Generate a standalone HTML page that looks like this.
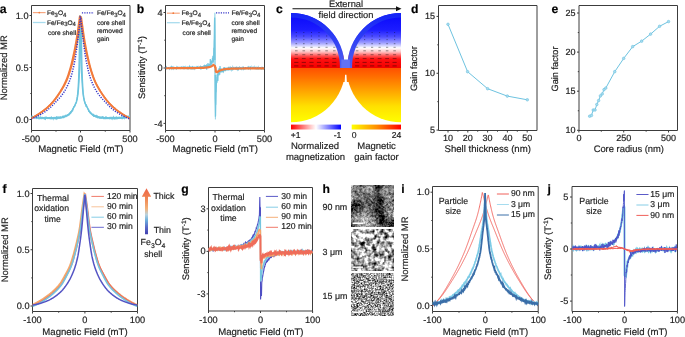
<!DOCTYPE html>
<html><head><meta charset="utf-8"><style>
html,body{margin:0;padding:0;background:#fff;overflow:hidden;}
svg{display:block;font-family:"Liberation Sans",sans-serif;will-change:transform;text-rendering:geometricPrecision;}
text{stroke:#1e1e1e;stroke-width:0.18px;}
</style></head><body>
<svg width="685" height="337" viewBox="0 0 685 337" xmlns="http://www.w3.org/2000/svg">
<rect width="685" height="337" fill="#fff"/>
<text x="-0.3" y="12.9" font-size="12.2" text-anchor="start" font-weight="bold" fill="#000" >a</text>
<text x="136.7" y="12.9" font-size="12.2" text-anchor="start" font-weight="bold" fill="#000" >b</text>
<text x="276" y="12.9" font-size="12.2" text-anchor="start" font-weight="bold" fill="#000" >c</text>
<text x="411" y="12.9" font-size="12.2" text-anchor="start" font-weight="bold" fill="#000" >d</text>
<text x="551.5" y="12.9" font-size="12.2" text-anchor="start" font-weight="bold" fill="#000" >e</text>
<text x="2.4" y="193.1" font-size="12.2" text-anchor="start" font-weight="bold" fill="#000" >f</text>
<text x="181.2" y="193.1" font-size="12.2" text-anchor="start" font-weight="bold" fill="#000" >g</text>
<text x="322.6" y="193.1" font-size="12.2" text-anchor="start" font-weight="bold" fill="#000" >h</text>
<text x="401.2" y="193.1" font-size="12.2" text-anchor="start" font-weight="bold" fill="#000" >i</text>
<text x="547.4" y="193.1" font-size="12.2" text-anchor="start" font-weight="bold" fill="#000" >j</text>
<path d="M31.5,5.5 H130 V130.5 H31.5 Z" fill="none" stroke="#3c3c3c" stroke-width="1"/><line x1="31.5" y1="130.5" x2="31.5" y2="132.5" stroke="#3c3c3c" stroke-width="1"/><line x1="80.5" y1="130.5" x2="80.5" y2="132.5" stroke="#3c3c3c" stroke-width="1"/><line x1="130" y1="130.5" x2="130" y2="132.5" stroke="#3c3c3c" stroke-width="1"/><line x1="56" y1="130.5" x2="56" y2="131.7" stroke="#3c3c3c" stroke-width="1"/><line x1="105.25" y1="130.5" x2="105.25" y2="131.7" stroke="#3c3c3c" stroke-width="1"/><line x1="29.5" y1="15.5" x2="31.5" y2="15.5" stroke="#3c3c3c" stroke-width="1"/><line x1="29.5" y1="67.5" x2="31.5" y2="67.5" stroke="#3c3c3c" stroke-width="1"/><line x1="29.5" y1="119.5" x2="31.5" y2="119.5" stroke="#3c3c3c" stroke-width="1"/><line x1="30.3" y1="41.5" x2="31.5" y2="41.5" stroke="#3c3c3c" stroke-width="1"/><line x1="30.3" y1="93.5" x2="31.5" y2="93.5" stroke="#3c3c3c" stroke-width="1"/>
<text x="28.5" y="18.6" font-size="9.2" text-anchor="end" font-weight="normal" fill="#1e1e1e" >1.0</text>
<text x="28.5" y="70.6" font-size="9.2" text-anchor="end" font-weight="normal" fill="#1e1e1e" >0.5</text>
<text x="28.5" y="122.6" font-size="9.2" text-anchor="end" font-weight="normal" fill="#1e1e1e" >0.0</text>
<text x="31" y="141.5" font-size="9.2" text-anchor="middle" font-weight="normal" fill="#1e1e1e" >-500</text>
<text x="80.5" y="141.5" font-size="9.2" text-anchor="middle" font-weight="normal" fill="#1e1e1e" >0</text>
<text x="130" y="141.5" font-size="9.2" text-anchor="middle" font-weight="normal" fill="#1e1e1e" >500</text>
<text x="80.8" y="152.1" font-size="9.6" text-anchor="middle" font-weight="normal" fill="#1e1e1e" >Magnetic Field (mT)</text>
<text x="0" y="0" font-size="9.45" text-anchor="middle" fill="#1e1e1e" transform="translate(6.8,67.8) rotate(-90)">Normalized MR</text>
<clipPath id="ca"><rect x="31.5" y="5.5" width="98.5" height="125"/></clipPath>
<g clip-path="url(#ca)">
<path d="M31.00,116.37 31.20,116.35 31.40,116.51 31.60,116.69 31.79,116.64 31.99,116.79 32.19,116.61 32.39,116.39 32.59,116.81 32.79,116.88 32.98,116.69 33.18,116.76 33.38,116.85 33.58,117.11 33.78,116.96 33.98,116.85 34.17,117.31 34.37,117.16 34.57,117.50 34.77,117.41 34.97,117.56 35.17,117.26 35.36,117.51 35.56,117.23 35.76,117.28 35.96,117.39 36.16,117.91 36.36,117.52 36.56,117.45 36.75,117.45 36.95,117.82 37.15,117.63 37.35,117.76 37.55,117.75 37.75,117.38 37.94,117.80 38.14,117.66 38.34,117.49 38.54,117.81 38.74,117.74 38.94,117.71 39.13,117.73 39.33,118.02 39.53,117.76 39.73,117.51 39.93,118.13 40.13,117.63 40.32,117.80 40.52,117.96 40.72,117.42 40.92,117.68 41.12,118.10 41.32,117.84 41.52,117.74 41.71,117.91 41.91,117.74 42.11,117.90 42.31,117.75 42.51,117.60 42.71,118.05 42.90,117.87 43.10,118.01 43.30,117.90 43.50,118.18 43.70,118.05 43.90,117.98 44.09,117.76 44.29,117.71 44.49,118.23 44.69,118.13 44.89,117.83 45.09,118.39 45.28,118.07 45.48,118.00 45.68,117.72 45.88,117.84 46.08,118.06 46.28,118.07 46.47,118.05 46.67,117.68 46.87,118.10 47.07,118.07 47.27,117.94 47.47,118.04 47.67,118.06 47.86,118.25 48.06,118.02 48.26,118.12 48.46,117.78 48.66,117.89 48.86,118.04 49.05,117.89 49.25,118.10 49.45,117.81 49.65,118.04 49.85,117.91 50.05,118.31 50.24,117.96 50.44,118.39 50.64,118.46 50.84,118.10 51.04,118.22 51.24,118.00 51.43,117.56 51.63,118.20 51.83,118.16 52.03,117.98 52.23,117.92 52.43,118.06 52.63,118.06 52.82,117.87 53.02,117.90 53.22,118.22 53.42,118.02 53.62,117.99 53.82,118.21 54.01,117.93 54.21,118.16 54.41,117.77 54.61,117.92 54.81,117.94 55.01,118.07 55.20,117.97 55.40,118.35 55.60,118.16 55.80,117.84 56.00,118.35 56.20,117.72 56.39,118.25 56.59,117.72 56.79,118.04 56.99,117.69 57.19,117.82 57.39,118.15 57.59,117.56 57.78,117.51 57.98,117.81 58.18,117.84 58.38,117.81 58.58,117.96 58.78,117.52 58.97,117.85 59.17,117.73 59.37,117.87 59.57,117.82 59.77,117.94 59.97,117.40 60.16,117.68 60.36,117.43 60.56,117.61 60.76,117.74 60.96,117.63 61.16,117.65 61.35,117.50 61.55,117.54 61.75,117.48 61.95,117.66 62.15,117.49 62.35,116.92 62.55,117.35 62.74,117.37 62.94,117.02 63.14,116.73 63.34,117.26 63.54,116.94 63.74,116.96 63.93,117.13 64.13,116.54 64.33,116.63 64.53,116.54 64.73,116.65 64.93,116.32 65.12,116.46 65.32,116.30 65.52,116.42 65.72,116.37 65.92,115.75 66.12,116.05 66.31,115.79 66.51,115.76 66.71,115.75 66.91,115.67 67.11,115.33 67.31,115.41 67.51,115.27 67.70,115.12 67.90,114.76 68.10,114.74 68.30,114.67 68.50,114.73 68.70,114.76 68.89,114.12 69.09,113.96 69.29,114.03 69.49,113.71 69.69,113.48 69.89,113.28 70.08,113.06 70.28,113.14 70.48,112.51 70.68,112.87 70.88,112.20 71.08,112.03 71.27,111.70 71.47,111.24 71.67,111.03 71.87,111.26 72.07,111.02 72.27,110.11 72.46,110.09 72.66,109.46 72.86,108.85 73.06,108.93 73.26,108.59 73.46,107.66 73.66,107.28 73.85,106.93 74.05,106.48 74.25,106.30 74.45,106.09 74.65,105.46 74.85,105.28 75.04,105.06 75.24,104.22 75.44,103.92 75.64,103.36 75.84,103.13 76.04,102.48 76.23,101.89 76.43,101.14 76.63,100.09 76.83,99.36 77.03,98.08 77.23,96.90 77.42,95.22 77.62,94.40 77.82,91.81 78.02,89.32 78.22,86.07 78.42,82.69 78.62,78.34 78.81,72.71 79.01,66.10 79.21,57.55 79.41,45.62 79.61,31.27 79.81,15.24 80.00,23.78 80.20,31.23 80.40,38.89 80.60,46.20 80.80,52.47 81.00,58.39 81.19,64.09 81.39,69.27 81.59,73.70 81.79,77.23 81.99,80.81 82.19,83.91 82.38,86.80 82.58,89.39 82.78,91.53 82.98,93.52 83.18,95.09 83.38,96.62 83.58,97.45 83.77,98.74 83.97,99.31 84.17,100.64 84.37,101.17 84.57,101.82 84.77,102.71 84.96,102.63 85.16,103.18 85.36,104.03 85.56,104.18 85.76,104.64 85.96,105.62 86.15,105.36 86.35,105.76 86.55,106.07 86.75,106.66 86.95,106.87 87.15,107.25 87.34,107.38 87.54,107.98 87.74,108.48 87.94,108.58 88.14,109.44 88.34,109.82 88.54,110.51 88.73,110.19 88.93,110.67 89.13,111.01 89.33,111.36 89.53,111.74 89.73,111.97 89.92,112.31 90.12,112.53 90.32,112.70 90.52,112.61 90.72,113.02 90.92,113.35 91.11,113.65 91.31,113.84 91.51,113.55 91.71,113.95 91.91,114.21 92.11,114.45 92.30,114.75 92.50,114.68 92.70,114.61 92.90,115.00 93.10,115.09 93.30,115.21 93.49,115.25 93.69,115.71 93.89,115.54 94.09,115.77 94.29,115.50 94.49,115.94 94.69,115.75 94.88,115.64 95.08,116.11 95.28,116.26 95.48,116.17 95.68,116.29 95.88,116.57 96.07,116.34 96.27,116.08 96.47,116.62 96.67,116.68 96.87,116.92 97.07,116.71 97.26,117.10 97.46,117.14 97.66,116.70 97.86,117.22 98.06,116.87 98.26,116.84 98.45,117.16 98.65,117.16 98.85,116.92 99.05,117.42 99.25,117.55 99.45,117.75 99.65,117.50 99.84,117.23 100.04,117.37 100.24,117.79 100.44,117.79 100.64,117.74 100.84,117.59 101.03,117.70 101.23,117.63 101.43,117.63 101.63,117.77 101.83,117.73 102.03,117.69 102.22,117.77 102.42,117.66 102.62,117.38 102.82,117.66 103.02,117.79 103.22,118.16 103.41,117.74 103.61,118.24 103.81,118.14 104.01,117.68 104.21,117.72 104.41,117.91 104.61,118.25 104.80,117.98 105.00,118.05 105.20,117.78 105.40,117.45 105.60,117.89 105.80,118.10 105.99,118.19 106.19,117.97 106.39,118.00 106.59,118.21 106.79,117.95 106.99,118.22 107.18,117.76 107.38,117.77 107.58,117.77 107.78,118.10 107.98,117.90 108.18,118.04 108.37,118.10 108.57,118.09 108.77,118.30 108.97,118.33 109.17,117.86 109.37,118.07 109.57,117.99 109.76,117.83 109.96,118.40 110.16,118.20 110.36,118.00 110.56,117.96 110.76,118.12 110.95,117.82 111.15,117.99 111.35,118.29 111.55,118.23 111.75,117.86 111.95,117.93 112.14,118.43 112.34,117.75 112.54,117.90 112.74,117.74 112.94,118.10 113.14,118.08 113.33,118.25 113.53,117.48 113.73,118.05 113.93,117.68 114.13,118.14 114.33,117.97 114.53,118.35 114.72,118.07 114.92,117.79 115.12,118.25 115.32,117.76 115.52,117.91 115.72,118.19 115.91,118.07 116.11,118.06 116.31,117.97 116.51,118.07 116.71,118.12 116.91,118.01 117.10,118.15 117.30,118.20 117.50,117.94 117.70,117.74 117.90,118.24 118.10,117.91 118.29,118.04 118.49,118.10 118.69,117.71 118.89,117.99 119.09,117.56 119.29,118.03 119.48,117.78 119.68,117.90 119.88,118.01 120.08,117.72 120.28,117.87 120.48,117.70 120.68,117.83 120.87,118.04 121.07,117.82 121.27,117.78 121.47,117.57 121.67,117.95 121.87,117.75 122.06,118.09 122.26,117.57 122.46,117.92 122.66,118.05 122.86,117.66 123.06,117.39 123.25,117.92 123.45,117.80 123.65,117.71 123.85,117.76 124.05,117.42 124.25,117.64 124.44,117.59 124.64,117.29 124.84,117.53 125.04,117.25 125.24,117.51 125.44,117.53 125.64,117.63 125.83,116.82 126.03,117.24 126.23,117.09 126.43,117.11 126.63,117.03 126.83,117.01 127.02,116.59 127.22,117.16 127.42,117.23 127.62,117.08 127.82,117.11 128.02,116.63 128.21,116.57 128.41,116.90 128.61,116.95 128.81,116.69 129.01,116.29 129.21,117.12 129.40,116.38 129.60,116.67 129.80,116.19 130.00,116.59" fill="none" stroke="#6cc4dd" stroke-width="1.3"/>
<path d="M31.00,116.45 31.20,116.75 31.40,116.68 31.60,116.23 31.79,116.39 31.99,116.69 32.19,116.83 32.39,117.08 32.59,116.81 32.79,116.78 32.98,116.83 33.18,116.87 33.38,117.13 33.58,116.95 33.78,116.98 33.98,116.74 34.17,116.66 34.37,117.12 34.57,117.28 34.77,117.17 34.97,117.32 35.17,117.39 35.36,117.28 35.56,117.52 35.76,117.21 35.96,117.39 36.16,117.35 36.36,117.47 36.56,117.61 36.75,117.69 36.95,117.57 37.15,117.66 37.35,117.52 37.55,117.60 37.75,117.91 37.94,117.63 38.14,117.95 38.34,117.82 38.54,117.77 38.74,118.16 38.94,117.73 39.13,117.73 39.33,117.81 39.53,117.88 39.73,117.88 39.93,118.02 40.13,117.88 40.32,117.95 40.52,117.83 40.72,118.10 40.92,117.81 41.12,117.84 41.32,117.90 41.52,117.97 41.71,117.77 41.91,118.24 42.11,117.80 42.31,117.86 42.51,117.85 42.71,117.84 42.90,118.06 43.10,117.99 43.30,117.80 43.50,117.85 43.70,117.91 43.90,118.27 44.09,117.85 44.29,117.72 44.49,117.76 44.69,117.93 44.89,118.31 45.09,117.79 45.28,118.02 45.48,118.52 45.68,117.92 45.88,118.31 46.08,118.28 46.28,118.14 46.47,117.75 46.67,118.09 46.87,117.96 47.07,117.66 47.27,117.69 47.47,118.05 47.67,118.08 47.86,118.30 48.06,118.18 48.26,117.95 48.46,117.96 48.66,118.02 48.86,117.84 49.05,118.21 49.25,118.06 49.45,117.90 49.65,117.93 49.85,117.83 50.05,117.97 50.24,118.12 50.44,117.98 50.64,118.26 50.84,118.39 51.04,117.93 51.24,118.06 51.43,117.98 51.63,118.40 51.83,118.12 52.03,118.17 52.23,118.22 52.43,118.51 52.63,118.10 52.82,117.84 53.02,117.94 53.22,118.15 53.42,118.02 53.62,117.85 53.82,118.58 54.01,118.02 54.21,117.88 54.41,117.84 54.61,117.62 54.81,117.73 55.01,117.90 55.20,117.89 55.40,117.78 55.60,118.05 55.80,117.94 56.00,117.73 56.20,117.50 56.39,117.94 56.59,117.90 56.79,117.84 56.99,117.59 57.19,117.87 57.39,117.54 57.59,118.04 57.78,117.87 57.98,117.86 58.18,117.64 58.38,117.57 58.58,118.09 58.78,117.96 58.97,117.68 59.17,117.88 59.37,118.04 59.57,117.49 59.77,117.59 59.97,117.58 60.16,117.76 60.36,117.43 60.56,117.68 60.76,117.38 60.96,117.78 61.16,117.74 61.35,117.48 61.55,117.63 61.75,117.30 61.95,117.34 62.15,117.54 62.35,117.28 62.55,117.31 62.74,116.99 62.94,117.25 63.14,117.15 63.34,116.74 63.54,116.46 63.74,116.45 63.93,116.79 64.13,116.69 64.33,116.35 64.53,116.63 64.73,116.74 64.93,116.44 65.12,116.30 65.32,116.49 65.52,116.59 65.72,116.46 65.92,115.94 66.12,116.16 66.31,115.94 66.51,115.77 66.71,115.60 66.91,115.70 67.11,115.42 67.31,115.61 67.51,115.39 67.70,115.42 67.90,114.85 68.10,114.97 68.30,115.00 68.50,114.78 68.70,114.62 68.89,114.28 69.09,114.61 69.29,114.33 69.49,114.02 69.69,113.24 69.89,113.39 70.08,113.42 70.28,113.05 70.48,112.56 70.68,112.83 70.88,112.63 71.08,112.07 71.27,111.99 71.47,111.70 71.67,111.69 71.87,110.88 72.07,110.60 72.27,110.49 72.46,110.09 72.66,110.26 72.86,109.29 73.06,109.05 73.26,108.49 73.46,108.02 73.66,107.82 73.85,107.69 74.05,106.87 74.25,106.72 74.45,106.29 74.65,106.01 74.85,105.62 75.04,105.70 75.24,104.61 75.44,104.44 75.64,103.86 75.84,103.23 76.04,103.15 76.23,102.98 76.43,102.18 76.63,101.57 76.83,100.68 77.03,99.72 77.23,99.23 77.42,97.70 77.62,96.95 77.82,95.32 78.02,93.91 78.22,92.04 78.42,89.71 78.62,87.23 78.81,84.40 79.01,81.58 79.21,77.89 79.41,73.58 79.61,69.11 79.81,64.38 80.00,59.13 80.20,53.17 80.40,45.96 80.60,39.30 80.80,31.98 81.00,24.34 81.19,16.26 81.39,32.48 81.59,46.32 81.79,58.41 81.99,66.69 82.19,72.85 82.38,78.67 82.58,82.80 82.78,86.29 82.98,89.45 83.18,92.51 83.38,94.40 83.58,95.69 83.77,97.14 83.97,98.34 84.17,99.08 84.37,100.46 84.57,101.12 84.77,101.97 84.96,102.20 85.16,103.50 85.36,103.74 85.56,104.18 85.76,104.34 85.96,104.74 86.15,104.93 86.35,105.90 86.55,105.75 86.75,106.31 86.95,106.75 87.15,106.89 87.34,107.60 87.54,108.26 87.74,108.34 87.94,109.01 88.14,109.27 88.34,109.48 88.54,109.91 88.73,110.04 88.93,110.79 89.13,111.42 89.33,111.58 89.53,111.90 89.73,112.22 89.92,112.12 90.12,112.58 90.32,113.09 90.52,112.75 90.72,113.13 90.92,113.24 91.11,113.49 91.31,113.57 91.51,113.87 91.71,113.79 91.91,114.13 92.11,114.29 92.30,114.44 92.50,114.97 92.70,114.83 92.90,114.98 93.10,115.01 93.30,115.45 93.49,114.94 93.69,115.37 93.89,115.75 94.09,115.96 94.29,115.76 94.49,115.81 94.69,116.04 94.88,115.96 95.08,116.20 95.28,116.03 95.48,116.38 95.68,116.31 95.88,116.17 96.07,115.91 96.27,116.73 96.47,116.68 96.67,116.83 96.87,116.56 97.07,117.03 97.26,116.95 97.46,116.93 97.66,117.19 97.86,117.25 98.06,117.21 98.26,117.61 98.45,117.53 98.65,117.37 98.85,117.31 99.05,117.43 99.25,117.81 99.45,117.58 99.65,117.35 99.84,117.44 100.04,117.60 100.24,117.80 100.44,117.50 100.64,117.77 100.84,117.91 101.03,117.85 101.23,117.39 101.43,117.66 101.63,117.48 101.83,117.84 102.03,117.55 102.22,117.89 102.42,117.81 102.62,117.27 102.82,117.64 103.02,117.92 103.22,117.84 103.41,117.77 103.61,117.60 103.81,117.96 104.01,118.24 104.21,117.94 104.41,117.89 104.61,117.88 104.80,117.64 105.00,117.86 105.20,117.76 105.40,118.17 105.60,117.77 105.80,117.52 105.99,117.80 106.19,117.92 106.39,117.95 106.59,117.61 106.79,118.19 106.99,118.02 107.18,117.91 107.38,117.85 107.58,118.11 107.78,117.95 107.98,118.08 108.18,118.00 108.37,118.06 108.57,118.27 108.77,118.04 108.97,117.86 109.17,118.25 109.37,118.10 109.57,117.91 109.76,118.27 109.96,118.01 110.16,118.27 110.36,117.81 110.56,117.57 110.76,117.63 110.95,118.10 111.15,117.90 111.35,118.02 111.55,118.03 111.75,117.72 111.95,118.32 112.14,117.82 112.34,118.05 112.54,117.75 112.74,118.00 112.94,118.18 113.14,117.98 113.33,117.88 113.53,118.02 113.73,117.92 113.93,118.13 114.13,118.47 114.33,117.83 114.53,117.87 114.72,117.98 114.92,117.99 115.12,117.79 115.32,118.09 115.52,118.14 115.72,118.03 115.91,117.74 116.11,118.27 116.31,117.73 116.51,118.10 116.71,118.20 116.91,117.70 117.10,117.97 117.30,118.22 117.50,118.02 117.70,117.74 117.90,117.68 118.10,118.02 118.29,117.84 118.49,117.76 118.69,118.04 118.89,117.83 119.09,117.90 119.29,118.00 119.48,117.98 119.68,117.86 119.88,117.86 120.08,117.98 120.28,117.94 120.48,117.61 120.68,117.79 120.87,117.64 121.07,117.57 121.27,117.68 121.47,117.32 121.67,117.95 121.87,117.60 122.06,117.81 122.26,117.34 122.46,117.36 122.66,118.10 122.86,117.87 123.06,117.51 123.25,117.46 123.45,117.45 123.65,117.59 123.85,117.45 124.05,117.38 124.25,117.51 124.44,117.25 124.64,117.91 124.84,117.27 125.04,117.59 125.24,117.14 125.44,117.35 125.64,117.46 125.83,117.16 126.03,117.39 126.23,117.36 126.43,117.46 126.63,117.10 126.83,116.95 127.02,116.80 127.22,117.01 127.42,116.72 127.62,116.90 127.82,116.88 128.02,116.70 128.21,116.56 128.41,116.81 128.61,116.75 128.81,116.69 129.01,116.60 129.21,116.76 129.40,116.31 129.60,116.57 129.80,116.35 130.00,116.57" fill="none" stroke="#6cc4dd" stroke-width="1.3"/>
<path d="M31.00,118.45 31.33,118.28 31.66,118.10 31.99,117.93 32.32,117.75 32.66,117.57 32.99,117.38 33.32,117.20 33.65,117.01 33.98,116.82 34.31,116.63 34.64,116.43 34.97,116.24 35.30,116.04 35.64,115.84 35.97,115.64 36.30,115.44 36.63,115.23 36.96,115.03 37.29,114.82 37.62,114.61 37.95,114.40 38.28,114.19 38.62,113.97 38.95,113.76 39.28,113.54 39.61,113.32 39.94,113.10 40.27,112.88 40.60,112.65 40.93,112.43 41.26,112.20 41.60,111.97 41.93,111.74 42.26,111.50 42.59,111.26 42.92,111.02 43.25,110.77 43.58,110.52 43.91,110.27 44.24,110.01 44.58,109.75 44.91,109.49 45.24,109.22 45.57,108.94 45.90,108.67 46.23,108.38 46.56,108.10 46.89,107.81 47.22,107.51 47.56,107.21 47.89,106.91 48.22,106.60 48.55,106.28 48.88,105.96 49.21,105.64 49.54,105.31 49.87,104.98 50.20,104.64 50.54,104.30 50.87,103.95 51.20,103.59 51.53,103.23 51.86,102.87 52.19,102.50 52.52,102.12 52.85,101.74 53.18,101.35 53.52,100.95 53.85,100.54 54.18,100.13 54.51,99.71 54.84,99.29 55.17,98.86 55.50,98.42 55.83,97.98 56.16,97.52 56.49,97.07 56.83,96.60 57.16,96.13 57.49,95.65 57.82,95.17 58.15,94.68 58.48,94.18 58.81,93.68 59.14,93.17 59.47,92.66 59.81,92.14 60.14,91.61 60.47,91.07 60.80,90.54 61.13,89.99 61.46,89.44 61.79,88.88 62.12,88.31 62.45,87.73 62.79,87.14 63.12,86.54 63.45,85.93 63.78,85.30 64.11,84.65 64.44,83.99 64.77,83.31 65.10,82.62 65.43,81.90 65.77,81.17 66.10,80.41 66.43,79.63 66.76,78.81 67.09,77.95 67.42,77.06 67.75,76.13 68.08,75.17 68.41,74.17 68.75,73.14 69.08,72.09 69.41,71.01 69.74,69.90 70.07,68.77 70.40,67.61 70.73,66.40 71.06,65.14 71.39,63.84 71.73,62.49 72.06,61.11 72.39,59.68 72.72,58.23 73.05,56.75 73.38,55.24 73.71,53.71 74.04,52.15 74.37,50.55 74.71,48.91 75.04,47.23 75.37,45.48 75.70,43.68 76.03,41.81 76.36,39.87 76.69,37.81 77.02,35.62 77.35,33.34 77.69,30.99 78.02,28.62 78.35,26.25 78.68,23.90 79.01,21.52 79.34,19.11 79.67,16.68 80.00,15.71 80.33,17.96 80.67,20.19 81.00,22.40 81.33,24.58 81.66,26.76 81.99,28.95 82.32,31.14 82.65,33.31 82.98,35.43 83.31,37.48 83.65,39.42 83.98,41.26 84.31,43.04 84.64,44.75 84.97,46.42 85.30,48.04 85.63,49.62 85.96,51.15 86.29,52.65 86.63,54.12 86.96,55.57 87.29,57.00 87.62,58.41 87.95,59.79 88.28,61.14 88.61,62.46 88.94,63.75 89.27,65.00 89.61,66.21 89.94,67.38 90.27,68.50 90.60,69.60 90.93,70.67 91.26,71.72 91.59,72.75 91.92,73.75 92.25,74.72 92.59,75.67 92.92,76.59 93.25,77.47 93.58,78.33 93.91,79.14 94.24,79.92 94.57,80.68 94.90,81.41 95.23,82.12 95.57,82.81 95.90,83.48 96.23,84.14 96.56,84.78 96.89,85.41 97.22,86.03 97.55,86.63 97.88,87.21 98.21,87.79 98.55,88.36 98.88,88.91 99.21,89.46 99.54,90.00 99.87,90.54 100.20,91.07 100.53,91.59 100.86,92.11 101.19,92.62 101.53,93.13 101.86,93.63 102.19,94.12 102.52,94.61 102.85,95.10 103.18,95.57 103.51,96.04 103.84,96.51 104.17,96.97 104.51,97.42 104.84,97.86 105.17,98.30 105.50,98.74 105.83,99.16 106.16,99.58 106.49,100.00 106.82,100.41 107.15,100.81 107.48,101.20 107.82,101.59 108.15,101.97 108.48,102.34 108.81,102.71 109.14,103.08 109.47,103.43 109.80,103.79 110.13,104.13 110.46,104.48 110.80,104.81 111.13,105.15 111.46,105.47 111.79,105.80 112.12,106.11 112.45,106.43 112.78,106.73 113.11,107.04 113.44,107.34 113.78,107.63 114.11,107.92 114.44,108.21 114.77,108.49 115.10,108.77 115.43,109.04 115.76,109.31 116.09,109.58 116.42,109.84 116.76,110.10 117.09,110.35 117.42,110.60 117.75,110.85 118.08,111.09 118.41,111.33 118.74,111.56 119.07,111.80 119.40,112.03 119.74,112.26 120.07,112.48 120.40,112.71 120.73,112.93 121.06,113.15 121.39,113.37 121.72,113.58 122.05,113.80 122.38,114.01 122.72,114.22 123.05,114.44 123.38,114.64 123.71,114.85 124.04,115.06 124.37,115.26 124.70,115.47 125.03,115.67 125.36,115.87 125.70,116.06 126.03,116.26 126.36,116.45 126.69,116.65 127.02,116.84 127.35,117.02 127.68,117.21 128.01,117.40 128.34,117.58 128.68,117.76 129.01,117.94 129.34,118.11 129.67,118.29 130.00,118.46" fill="none" stroke="#f27b3c" stroke-width="1.7"/>
<path d="M31.00,118.47 31.33,118.30 31.66,118.13 31.99,117.95 32.32,117.78 32.66,117.60 32.99,117.42 33.32,117.23 33.65,117.05 33.98,116.86 34.31,116.67 34.64,116.48 34.97,116.29 35.30,116.10 35.64,115.90 35.97,115.71 36.30,115.51 36.63,115.31 36.96,115.10 37.29,114.90 37.62,114.69 37.95,114.49 38.28,114.28 38.62,114.07 38.95,113.86 39.28,113.64 39.61,113.43 39.94,113.21 40.27,112.99 40.60,112.78 40.93,112.55 41.26,112.33 41.60,112.10 41.93,111.88 42.26,111.64 42.59,111.41 42.92,111.17 43.25,110.93 43.58,110.69 43.91,110.44 44.24,110.19 44.58,109.94 44.91,109.68 45.24,109.41 45.57,109.15 45.90,108.88 46.23,108.60 46.56,108.32 46.89,108.04 47.22,107.75 47.56,107.46 47.89,107.16 48.22,106.86 48.55,106.56 48.88,106.25 49.21,105.93 49.54,105.61 49.87,105.29 50.20,104.96 50.54,104.63 50.87,104.29 51.20,103.94 51.53,103.59 51.86,103.24 52.19,102.88 52.52,102.52 52.85,102.15 53.18,101.77 53.52,101.38 53.85,100.99 54.18,100.60 54.51,100.19 54.84,99.78 55.17,99.37 55.50,98.94 55.83,98.52 56.16,98.08 56.49,97.64 56.83,97.19 57.16,96.74 57.49,96.28 57.82,95.81 58.15,95.34 58.48,94.86 58.81,94.38 59.14,93.89 59.47,93.39 59.81,92.89 60.14,92.38 60.47,91.87 60.80,91.35 61.13,90.83 61.46,90.30 61.79,89.76 62.12,89.22 62.45,88.67 62.79,88.11 63.12,87.54 63.45,86.95 63.78,86.36 64.11,85.75 64.44,85.13 64.77,84.50 65.10,83.84 65.43,83.18 65.77,82.49 66.10,81.79 66.43,81.06 66.76,80.32 67.09,79.55 67.42,78.74 67.75,77.89 68.08,77.02 68.41,76.11 68.75,75.17 69.08,74.21 69.41,73.21 69.74,72.20 70.07,71.16 70.40,70.09 70.73,69.01 71.06,67.90 71.39,66.74 71.73,65.54 72.06,64.31 72.39,63.03 72.72,61.72 73.05,60.38 73.38,59.02 73.71,57.62 74.04,56.21 74.37,54.78 74.71,53.32 75.04,51.83 75.37,50.31 75.70,48.75 76.03,47.15 76.36,45.50 76.69,43.80 77.02,42.04 77.35,40.22 77.69,38.30 78.02,36.27 78.35,34.18 78.68,32.03 79.01,29.86 79.34,27.68 79.67,25.53 80.00,23.37 80.33,21.18 80.67,18.97 81.00,16.74 81.33,17.71 81.66,20.12 81.99,22.50 82.32,24.85 82.65,27.18 82.98,29.52 83.31,31.88 83.65,34.20 83.98,36.46 84.31,38.63 84.64,40.67 84.97,42.59 85.30,44.44 85.63,46.22 85.96,47.95 86.29,49.62 86.63,51.24 86.96,52.82 87.29,54.37 87.62,55.88 87.95,57.38 88.28,58.84 88.61,60.28 88.94,61.69 89.27,63.06 89.61,64.39 89.94,65.68 90.27,66.93 90.60,68.12 90.93,69.27 91.26,70.39 91.59,71.49 91.92,72.56 92.25,73.61 92.59,74.62 92.92,75.61 93.25,76.56 93.58,77.48 93.91,78.37 94.24,79.22 94.57,80.03 94.90,80.80 95.23,81.55 95.57,82.28 95.90,82.99 96.23,83.68 96.56,84.35 96.89,85.00 97.22,85.64 97.55,86.26 97.88,86.87 98.21,87.47 98.55,88.05 98.88,88.62 99.21,89.19 99.54,89.74 99.87,90.29 100.20,90.83 100.53,91.36 100.86,91.89 101.19,92.41 101.53,92.93 101.86,93.44 102.19,93.94 102.52,94.44 102.85,94.93 103.18,95.41 103.51,95.89 103.84,96.36 104.17,96.83 104.51,97.29 104.84,97.74 105.17,98.19 105.50,98.63 105.83,99.07 106.16,99.49 106.49,99.91 106.82,100.33 107.15,100.73 107.48,101.13 107.82,101.53 108.15,101.91 108.48,102.29 108.81,102.67 109.14,103.03 109.47,103.40 109.80,103.75 110.13,104.10 110.46,104.45 110.80,104.79 111.13,105.12 111.46,105.45 111.79,105.78 112.12,106.10 112.45,106.42 112.78,106.73 113.11,107.03 113.44,107.33 113.78,107.63 114.11,107.92 114.44,108.21 114.77,108.49 115.10,108.77 115.43,109.05 115.76,109.32 116.09,109.59 116.42,109.85 116.76,110.11 117.09,110.36 117.42,110.61 117.75,110.86 118.08,111.10 118.41,111.34 118.74,111.58 119.07,111.81 119.40,112.04 119.74,112.27 120.07,112.50 120.40,112.72 120.73,112.94 121.06,113.16 121.39,113.38 121.72,113.60 122.05,113.81 122.38,114.03 122.72,114.24 123.05,114.45 123.38,114.66 123.71,114.87 124.04,115.07 124.37,115.28 124.70,115.48 125.03,115.68 125.36,115.88 125.70,116.07 126.03,116.27 126.36,116.46 126.69,116.66 127.02,116.85 127.35,117.03 127.68,117.22 128.01,117.40 128.34,117.58 128.68,117.76 129.01,117.94 129.34,118.12 129.67,118.29 130.00,118.46" fill="none" stroke="#f27b3c" stroke-width="1.7"/>
<path d="M31.00,118.98 31.33,118.87 31.66,118.75 31.99,118.63 32.32,118.51 32.66,118.38 32.99,118.25 33.32,118.12 33.65,117.98 33.98,117.84 34.31,117.70 34.64,117.56 34.97,117.41 35.30,117.26 35.64,117.10 35.97,116.95 36.30,116.79 36.63,116.63 36.96,116.46 37.29,116.30 37.62,116.13 37.95,115.96 38.28,115.78 38.62,115.61 38.95,115.43 39.28,115.25 39.61,115.07 39.94,114.89 40.27,114.71 40.60,114.52 40.93,114.33 41.26,114.14 41.60,113.95 41.93,113.76 42.26,113.56 42.59,113.35 42.92,113.15 43.25,112.93 43.58,112.72 43.91,112.49 44.24,112.27 44.58,112.04 44.91,111.81 45.24,111.57 45.57,111.33 45.90,111.08 46.23,110.84 46.56,110.58 46.89,110.33 47.22,110.07 47.56,109.81 47.89,109.55 48.22,109.28 48.55,109.01 48.88,108.74 49.21,108.45 49.54,108.17 49.87,107.88 50.20,107.58 50.54,107.28 50.87,106.97 51.20,106.66 51.53,106.34 51.86,106.02 52.19,105.69 52.52,105.36 52.85,105.03 53.18,104.69 53.52,104.35 53.85,104.01 54.18,103.66 54.51,103.31 54.84,102.96 55.17,102.61 55.50,102.26 55.83,101.90 56.16,101.55 56.49,101.19 56.83,100.84 57.16,100.48 57.49,100.13 57.82,99.77 58.15,99.41 58.48,99.05 58.81,98.68 59.14,98.31 59.47,97.94 59.81,97.56 60.14,97.17 60.47,96.78 60.80,96.38 61.13,95.98 61.46,95.56 61.79,95.14 62.12,94.71 62.45,94.26 62.79,93.81 63.12,93.35 63.45,92.87 63.78,92.39 64.11,91.89 64.44,91.38 64.77,90.85 65.10,90.30 65.43,89.73 65.77,89.14 66.10,88.53 66.43,87.90 66.76,87.25 67.09,86.58 67.42,85.89 67.75,85.17 68.08,84.43 68.41,83.67 68.75,82.89 69.08,82.09 69.41,81.27 69.74,80.42 70.07,79.54 70.40,78.61 70.73,77.63 71.06,76.58 71.39,75.48 71.73,74.33 72.06,73.12 72.39,71.87 72.72,70.56 73.05,69.18 73.38,67.74 73.71,66.23 74.04,64.65 74.37,62.99 74.71,61.26 75.04,59.46 75.37,57.57 75.70,55.59 76.03,53.41 76.36,51.07 76.69,48.61 77.02,46.07 77.35,43.47 77.69,40.87 78.02,38.28 78.35,35.67 78.68,32.97 79.01,30.15 79.34,27.16 79.67,23.93 80.00,20.49 80.33,16.87 80.67,16.87 81.00,20.49 81.33,23.93 81.66,27.16 81.99,30.15 82.32,32.97 82.65,35.67 82.98,38.28 83.31,40.87 83.65,43.47 83.98,46.07 84.31,48.61 84.64,51.07 84.97,53.41 85.30,55.59 85.63,57.57 85.96,59.46 86.29,61.26 86.63,62.99 86.96,64.65 87.29,66.23 87.62,67.74 87.95,69.18 88.28,70.56 88.61,71.87 88.94,73.12 89.27,74.33 89.61,75.48 89.94,76.58 90.27,77.63 90.60,78.61 90.93,79.54 91.26,80.42 91.59,81.27 91.92,82.09 92.25,82.89 92.59,83.67 92.92,84.43 93.25,85.17 93.58,85.89 93.91,86.58 94.24,87.25 94.57,87.90 94.90,88.53 95.23,89.14 95.57,89.73 95.90,90.30 96.23,90.85 96.56,91.38 96.89,91.89 97.22,92.39 97.55,92.87 97.88,93.35 98.21,93.81 98.55,94.26 98.88,94.71 99.21,95.14 99.54,95.56 99.87,95.98 100.20,96.38 100.53,96.78 100.86,97.17 101.19,97.56 101.53,97.94 101.86,98.31 102.19,98.68 102.52,99.05 102.85,99.41 103.18,99.77 103.51,100.13 103.84,100.48 104.17,100.84 104.51,101.19 104.84,101.55 105.17,101.90 105.50,102.26 105.83,102.61 106.16,102.96 106.49,103.31 106.82,103.66 107.15,104.01 107.48,104.35 107.82,104.69 108.15,105.03 108.48,105.36 108.81,105.69 109.14,106.02 109.47,106.34 109.80,106.66 110.13,106.97 110.46,107.28 110.80,107.58 111.13,107.88 111.46,108.17 111.79,108.45 112.12,108.74 112.45,109.01 112.78,109.28 113.11,109.55 113.44,109.81 113.78,110.07 114.11,110.33 114.44,110.58 114.77,110.84 115.10,111.08 115.43,111.33 115.76,111.57 116.09,111.81 116.42,112.04 116.76,112.27 117.09,112.49 117.42,112.72 117.75,112.93 118.08,113.15 118.41,113.35 118.74,113.56 119.07,113.76 119.40,113.95 119.74,114.14 120.07,114.33 120.40,114.52 120.73,114.71 121.06,114.89 121.39,115.07 121.72,115.25 122.05,115.43 122.38,115.61 122.72,115.78 123.05,115.96 123.38,116.13 123.71,116.30 124.04,116.46 124.37,116.63 124.70,116.79 125.03,116.95 125.36,117.10 125.70,117.26 126.03,117.41 126.36,117.56 126.69,117.70 127.02,117.84 127.35,117.98 127.68,118.12 128.01,118.25 128.34,118.38 128.68,118.51 129.01,118.63 129.34,118.75 129.67,118.87 130.00,118.98" fill="none" stroke="#3434c8" stroke-width="1.5" stroke-dasharray="1.2,1.3"/>
</g>
<line x1="32.9" y1="12.6" x2="45.6" y2="12.6" stroke="#f7a882" stroke-width="1.2"/>
<circle cx="39.3" cy="12.6" r="0.9" fill="#f27b3c"/>
<text x="46.9" y="14.9" font-size="6.6" text-anchor="start" font-weight="normal" fill="#1e1e1e" >Fe<tspan dy="1.6" font-size="0.9em">3</tspan><tspan dy="-1.6">O</tspan><tspan dy="1.6" font-size="0.9em">4</tspan></text>
<line x1="32.9" y1="22.5" x2="45.6" y2="22.5" stroke="#a8dcee" stroke-width="1.3"/>
<text x="46.9" y="24.8" font-size="6.6" text-anchor="start" font-weight="normal" fill="#1e1e1e" >Fe/Fe<tspan dy="1.6" font-size="0.9em">3</tspan><tspan dy="-1.6">O</tspan><tspan dy="1.6" font-size="0.9em">4</tspan></text>
<text x="47.9" y="34.6" font-size="6.6" text-anchor="start" font-weight="normal" fill="#1e1e1e" >core shell</text>
<line x1="81.9" y1="12.8" x2="94" y2="12.8" stroke="#3434c8" stroke-width="1.3" stroke-dasharray="1.2,1.2"/>
<text x="96.9" y="15.2" font-size="6.6" text-anchor="start" font-weight="normal" fill="#1e1e1e" >Fe/Fe<tspan dy="1.6" font-size="0.9em">3</tspan><tspan dy="-1.6">O</tspan><tspan dy="1.6" font-size="0.9em">4</tspan></text>
<text x="96.9" y="24.8" font-size="6.6" text-anchor="start" font-weight="normal" fill="#1e1e1e" >core shell</text>
<text x="96.9" y="32.9" font-size="6.6" text-anchor="start" font-weight="normal" fill="#1e1e1e" >removed</text>
<text x="96.9" y="41.0" font-size="6.6" text-anchor="start" font-weight="normal" fill="#1e1e1e" >gain</text>
<path d="M165.5,5.5 H264.5 V130.5 H165.5 Z" fill="none" stroke="#3c3c3c" stroke-width="1"/><line x1="165.5" y1="130.5" x2="165.5" y2="132.5" stroke="#3c3c3c" stroke-width="1"/><line x1="215" y1="130.5" x2="215" y2="132.5" stroke="#3c3c3c" stroke-width="1"/><line x1="264.5" y1="130.5" x2="264.5" y2="132.5" stroke="#3c3c3c" stroke-width="1"/><line x1="190.2" y1="130.5" x2="190.2" y2="131.7" stroke="#3c3c3c" stroke-width="1"/><line x1="239.7" y1="130.5" x2="239.7" y2="131.7" stroke="#3c3c3c" stroke-width="1"/><line x1="163.5" y1="12.5" x2="165.5" y2="12.5" stroke="#3c3c3c" stroke-width="1"/><line x1="163.5" y1="68" x2="165.5" y2="68" stroke="#3c3c3c" stroke-width="1"/><line x1="163.5" y1="123.4" x2="165.5" y2="123.4" stroke="#3c3c3c" stroke-width="1"/><line x1="164.3" y1="40.2" x2="165.5" y2="40.2" stroke="#3c3c3c" stroke-width="1"/><line x1="164.3" y1="95.7" x2="165.5" y2="95.7" stroke="#3c3c3c" stroke-width="1"/>
<text x="162.5" y="15.8" font-size="9.2" text-anchor="end" font-weight="normal" fill="#1e1e1e" >4</text>
<text x="162.5" y="71.3" font-size="9.2" text-anchor="end" font-weight="normal" fill="#1e1e1e" >0</text>
<text x="162.5" y="126.7" font-size="9.2" text-anchor="end" font-weight="normal" fill="#1e1e1e" >-4</text>
<text x="165.5" y="141.5" font-size="9.2" text-anchor="middle" font-weight="normal" fill="#1e1e1e" >-500</text>
<text x="215" y="141.5" font-size="9.2" text-anchor="middle" font-weight="normal" fill="#1e1e1e" >0</text>
<text x="264.5" y="141.5" font-size="9.2" text-anchor="middle" font-weight="normal" fill="#1e1e1e" >500</text>
<text x="215.2" y="152.1" font-size="9.6" text-anchor="middle" font-weight="normal" fill="#1e1e1e" >Magnetic Field (mT)</text>
<text x="0" y="0" font-size="9.45" text-anchor="middle" fill="#1e1e1e" transform="translate(145,67.5) rotate(-90)">Sensitivity (T<tspan dy="-3" font-size="6.5">-1</tspan><tspan dy="3">)</tspan></text>
<clipPath id="cb"><rect x="165.5" y="5.5" width="98.8" height="124.5"/></clipPath>
<g clip-path="url(#cb)">
<path d="M165.60,67.80 165.76,67.78 165.93,68.12 166.09,67.10 166.26,67.79 166.42,67.20 166.59,67.54 166.75,68.22 166.92,68.10 167.08,67.76 167.25,67.92 167.41,67.92 167.58,68.06 167.74,68.69 167.91,68.03 168.07,68.86 168.24,67.78 168.40,68.24 168.57,68.23 168.73,68.03 168.90,67.82 169.06,68.53 169.23,68.66 169.39,68.38 169.56,68.78 169.72,68.33 169.89,67.27 170.05,68.37 170.22,67.66 170.38,68.50 170.55,67.80 170.71,68.06 170.88,67.95 171.04,67.69 171.21,67.19 171.37,67.84 171.54,67.87 171.70,68.33 171.87,67.68 172.03,68.02 172.20,67.57 172.36,67.94 172.53,67.19 172.69,68.75 172.86,68.04 173.02,67.54 173.19,68.06 173.35,68.24 173.52,68.02 173.68,68.49 173.85,67.86 174.01,66.88 174.18,67.43 174.34,68.37 174.51,68.27 174.67,68.07 174.84,67.48 175.00,68.25 175.17,68.19 175.33,67.53 175.50,67.53 175.66,68.05 175.83,68.37 175.99,68.55 176.16,68.19 176.32,68.83 176.49,67.58 176.65,68.16 176.82,67.69 176.98,67.10 177.15,67.39 177.31,68.37 177.48,67.52 177.64,67.39 177.81,68.20 177.97,68.28 178.14,67.93 178.30,68.56 178.47,67.25 178.63,68.89 178.80,68.34 178.96,67.99 179.13,67.97 179.29,67.80 179.46,67.75 179.62,67.96 179.78,67.38 179.95,68.77 180.11,67.86 180.28,68.16 180.44,67.80 180.61,67.76 180.77,68.25 180.94,68.13 181.10,67.51 181.27,67.70 181.43,68.14 181.60,66.97 181.76,66.85 181.93,68.47 182.09,67.71 182.26,66.76 182.42,67.50 182.59,67.74 182.75,67.92 182.92,68.07 183.08,67.92 183.25,68.07 183.41,67.50 183.58,68.00 183.74,68.02 183.91,68.34 184.07,67.84 184.24,68.21 184.40,67.89 184.57,67.36 184.73,67.65 184.90,67.59 185.06,67.65 185.23,67.78 185.39,67.86 185.56,67.94 185.72,67.46 185.89,68.28 186.05,67.20 186.22,67.78 186.38,68.12 186.55,68.01 186.71,68.09 186.88,67.71 187.04,68.10 187.21,67.26 187.37,68.13 187.54,68.80 187.70,68.10 187.87,68.68 188.03,67.78 188.20,67.28 188.36,67.46 188.53,68.37 188.69,68.10 188.86,66.93 189.02,67.60 189.19,67.74 189.35,67.25 189.52,66.60 189.68,67.13 189.85,67.67 190.01,67.56 190.18,67.44 190.34,68.01 190.51,68.22 190.67,67.69 190.84,68.17 191.00,67.74 191.17,67.66 191.33,66.57 191.50,68.11 191.66,67.76 191.83,67.77 191.99,67.48 192.16,67.17 192.32,67.93 192.49,68.09 192.65,68.49 192.82,68.14 192.98,67.40 193.15,67.64 193.31,68.18 193.48,67.85 193.64,67.63 193.81,67.39 193.97,67.95 194.13,67.77 194.30,68.59 194.46,68.24 194.63,66.76 194.79,68.79 194.96,67.80 195.12,67.49 195.29,67.81 195.45,68.04 195.62,67.63 195.78,67.59 195.95,67.63 196.11,68.64 196.28,67.66 196.44,68.06 196.61,67.88 196.77,67.42 196.94,67.17 197.10,67.01 197.27,67.83 197.43,66.98 197.60,66.81 197.76,66.82 197.93,66.65 198.09,67.59 198.26,67.61 198.42,66.97 198.59,68.36 198.75,67.34 198.92,67.81 199.08,67.70 199.25,68.61 199.41,68.04 199.58,67.45 199.74,66.81 199.91,66.72 200.07,67.46 200.24,67.53 200.40,67.98 200.57,67.08 200.73,67.54 200.90,66.90 201.06,66.02 201.23,67.35 201.39,68.47 201.56,67.98 201.72,68.45 201.89,68.24 202.05,66.20 202.22,67.06 202.38,68.51 202.55,66.66 202.71,66.11 202.88,67.50 203.04,67.76 203.21,67.45 203.37,66.87 203.54,66.51 203.70,65.97 203.87,65.90 204.03,65.89 204.20,65.67 204.36,66.33 204.53,68.53 204.69,67.08 204.86,66.59 205.02,67.30 205.19,65.86 205.35,67.23 205.52,67.84 205.68,65.10 205.85,65.95 206.01,66.43 206.18,65.53 206.34,65.30 206.51,66.14 206.67,69.67 206.84,67.36 207.00,67.03 207.17,67.71 207.33,66.05 207.50,64.59 207.66,66.90 207.83,67.80 207.99,63.05 208.15,66.70 208.32,67.85 208.48,65.48 208.65,65.09 208.81,66.86 208.98,64.28 209.14,66.36 209.31,67.05 209.47,65.00 209.64,63.80 209.80,66.29 209.97,64.35 210.13,65.04 210.30,59.08 210.46,66.03 210.63,61.54 210.79,64.39 210.96,64.38 211.12,62.32 211.29,61.70 211.45,60.57 211.62,62.52 211.78,64.53 211.95,64.13 212.11,61.18 212.28,60.62 212.44,58.00 212.61,60.14 212.77,57.76 212.94,55.71 213.10,58.75 213.27,62.66 213.43,60.48 213.60,59.64 213.76,47.64 213.93,52.52 214.09,41.39 214.26,37.93 214.42,26.21 214.59,18.19 214.75,17.54 214.92,29.67 215.08,98.20 215.25,104.92 215.41,116.67 215.58,115.50 215.74,100.48 215.91,104.69 216.07,92.52 216.24,92.01 216.40,85.14 216.57,80.52 216.73,81.22 216.90,77.13 217.06,82.66 217.23,73.92 217.39,77.82 217.56,73.78 217.72,74.37 217.89,80.95 218.05,75.80 218.22,72.99 218.38,69.49 218.55,72.23 218.71,72.05 218.88,75.56 219.04,69.06 219.21,68.13 219.37,71.75 219.54,72.08 219.70,74.71 219.87,69.60 220.03,66.02 220.20,69.71 220.36,68.62 220.53,69.84 220.69,72.44 220.86,68.30 221.02,72.59 221.19,70.76 221.35,69.87 221.52,68.84 221.68,69.51 221.85,69.49 222.01,71.14 222.17,71.82 222.34,69.78 222.50,70.81 222.67,71.55 222.83,71.41 223.00,70.29 223.16,72.00 223.33,71.26 223.49,71.54 223.66,69.22 223.82,68.91 223.99,66.97 224.15,71.07 224.32,70.06 224.48,68.22 224.65,69.45 224.81,69.54 224.98,67.32 225.14,69.48 225.31,70.29 225.47,70.41 225.64,68.70 225.80,68.71 225.97,70.32 226.13,69.91 226.30,68.44 226.46,68.38 226.63,69.49 226.79,68.32 226.96,68.35 227.12,70.40 227.29,69.09 227.45,68.45 227.62,69.27 227.78,70.54 227.95,68.99 228.11,68.14 228.28,67.47 228.44,70.43 228.61,66.68 228.77,69.55 228.94,67.95 229.10,67.74 229.27,67.93 229.43,68.53 229.60,69.47 229.76,68.17 229.93,69.11 230.09,70.35 230.26,66.64 230.42,68.10 230.59,67.35 230.75,69.17 230.92,67.58 231.08,67.51 231.25,67.53 231.41,68.54 231.58,69.28 231.74,68.62 231.91,69.88 232.07,69.55 232.24,68.43 232.40,69.09 232.57,68.58 232.73,68.54 232.90,67.32 233.06,67.70 233.23,68.48 233.39,67.75 233.56,68.89 233.72,68.63 233.89,67.91 234.05,69.12 234.22,68.57 234.38,69.14 234.55,68.34 234.71,67.51 234.88,68.80 235.04,68.27 235.21,68.87 235.37,68.99 235.54,69.03 235.70,67.61 235.87,67.13 236.03,68.11 236.19,68.73 236.36,67.99 236.52,68.52 236.69,67.94 236.85,68.19 237.02,68.20 237.18,68.03 237.35,68.62 237.51,68.53 237.68,69.17 237.84,68.54 238.01,69.01 238.17,68.38 238.34,68.77 238.50,68.25 238.67,68.08 238.83,68.98 239.00,68.68 239.16,68.74 239.33,67.93 239.49,67.47 239.66,67.88 239.82,68.44 239.99,67.59 240.15,68.98 240.32,67.57 240.48,68.57 240.65,69.55 240.81,67.03 240.98,67.53 241.14,68.73 241.31,68.17 241.47,68.35 241.64,68.20 241.80,68.92 241.97,68.55 242.13,68.02 242.30,68.13 242.46,67.69 242.63,68.19 242.79,67.17 242.96,68.54 243.12,68.10 243.29,69.07 243.45,68.77 243.62,67.62 243.78,68.63 243.95,67.97 244.11,68.23 244.28,68.67 244.44,68.36 244.61,68.43 244.77,68.41 244.94,67.86 245.10,67.91 245.27,68.44 245.43,68.59 245.60,68.06 245.76,68.23 245.93,67.73 246.09,67.02 246.26,67.81 246.42,68.19 246.59,68.25 246.75,68.54 246.92,68.56 247.08,68.60 247.25,68.34 247.41,68.35 247.58,67.84 247.74,68.33 247.91,68.24 248.07,68.68 248.24,67.45 248.40,67.94 248.57,67.39 248.73,67.81 248.90,67.51 249.06,68.25 249.23,67.84 249.39,66.99 249.56,68.67 249.72,67.64 249.89,67.42 250.05,67.96 250.22,67.81 250.38,67.59 250.54,68.42 250.71,67.96 250.87,68.51 251.04,68.42 251.20,68.40 251.37,68.19 251.53,68.06 251.70,67.93 251.86,68.74 252.03,67.26 252.19,67.62 252.36,67.80 252.52,68.27 252.69,68.15 252.85,67.88 253.02,67.94 253.18,68.84 253.35,67.79 253.51,66.85 253.68,68.91 253.84,67.68 254.01,67.95 254.17,68.15 254.34,67.51 254.50,68.61 254.67,68.03 254.83,67.47 255.00,68.18 255.16,68.28 255.33,68.05 255.49,68.29 255.66,67.43 255.82,68.49 255.99,67.72 256.15,68.63 256.32,67.80 256.48,68.14 256.65,69.20 256.81,68.09 256.98,68.55 257.14,68.28 257.31,67.42 257.47,68.57 257.64,68.54 257.80,67.46 257.97,68.03 258.13,67.42 258.30,67.94 258.46,68.46 258.63,68.11 258.79,67.55 258.96,67.67 259.12,68.08 259.29,68.05 259.45,68.12 259.62,68.32 259.78,67.24 259.95,68.07 260.11,68.56 260.28,68.27 260.44,67.76 260.61,67.79 260.77,68.13 260.94,68.35 261.10,68.06 261.27,68.78 261.43,68.62 261.60,67.72 261.76,68.27 261.93,67.90 262.09,67.54 262.26,67.78 262.42,68.05 262.59,67.15 262.75,67.77 262.92,68.21 263.08,67.74 263.25,67.88 263.41,68.42 263.58,68.02 263.74,68.13 263.91,68.90 264.07,68.13 264.24,68.18 264.40,68.24" fill="none" stroke="#72c6df" stroke-width="1.2"/>
<path d="M214.3,60 L214.9,12.7 L215.3,60 M214.9,75 L215.4,119.4 L216.2,75" fill="#72c6df" stroke="#72c6df" stroke-width="0.5"/>
<path d="M165.60,67.94 165.93,67.94 166.26,67.94 166.59,67.94 166.92,67.94 167.25,67.94 167.58,67.94 167.91,67.93 168.24,67.93 168.57,67.93 168.90,67.93 169.23,67.93 169.57,67.93 169.90,67.93 170.23,67.93 170.56,67.92 170.89,67.92 171.22,67.92 171.55,67.92 171.88,67.92 172.21,67.92 172.54,67.92 172.87,67.92 173.20,67.91 173.53,67.91 173.86,67.91 174.19,67.91 174.52,67.91 174.85,67.91 175.18,67.91 175.51,67.90 175.84,67.90 176.17,67.90 176.50,67.90 176.83,67.90 177.17,67.90 177.50,67.89 177.83,67.89 178.16,67.89 178.49,67.89 178.82,67.89 179.15,67.88 179.48,67.88 179.81,67.88 180.14,67.88 180.47,67.88 180.80,67.87 181.13,67.87 181.46,67.87 181.79,67.87 182.12,67.87 182.45,67.86 182.78,67.86 183.11,67.86 183.44,67.86 183.77,67.85 184.10,67.85 184.43,67.85 184.77,67.85 185.10,67.84 185.43,67.84 185.76,67.84 186.09,67.84 186.42,67.83 186.75,67.83 187.08,67.83 187.41,67.83 187.74,67.82 188.07,67.82 188.40,67.82 188.73,67.81 189.06,67.81 189.39,67.81 189.72,67.80 190.05,67.80 190.38,67.80 190.71,67.79 191.04,67.79 191.37,67.79 191.70,67.78 192.03,67.78 192.37,67.77 192.70,67.77 193.03,67.77 193.36,67.76 193.69,67.76 194.02,67.75 194.35,67.75 194.68,67.74 195.01,67.74 195.34,67.73 195.67,67.73 196.00,67.72 196.33,67.72 196.66,67.71 196.99,67.71 197.32,67.70 197.65,67.69 197.98,67.69 198.31,67.68 198.64,67.67 198.97,67.67 199.30,67.66 199.63,67.65 199.97,67.64 200.30,67.63 200.63,67.62 200.96,67.61 201.29,67.60 201.62,67.59 201.95,67.58 202.28,67.57 202.61,67.55 202.94,67.54 203.27,67.52 203.60,67.51 203.93,67.49 204.26,67.47 204.59,67.45 204.92,67.42 205.25,67.40 205.58,67.37 205.91,67.34 206.24,67.31 206.57,67.27 206.90,67.23 207.23,67.19 207.57,67.14 207.90,67.09 208.23,67.03 208.56,66.96 208.89,66.89 209.22,66.82 209.55,66.73 209.88,66.63 210.21,66.53 210.54,66.41 210.87,66.28 211.20,66.14 211.53,65.98 211.86,65.80 212.19,65.61 212.52,65.39 212.85,65.14 213.18,64.87 213.51,64.60 213.84,64.87 214.17,65.12 214.50,65.34 214.83,65.54 215.17,67.10 215.50,67.25 215.83,71.25 216.16,71.46 216.49,71.69 216.82,71.94 217.15,71.96 217.48,71.69 217.81,71.43 218.14,71.20 218.47,70.98 218.80,70.78 219.13,70.60 219.46,70.43 219.79,70.27 220.12,70.12 220.45,69.99 220.78,69.86 221.11,69.75 221.44,69.64 221.77,69.54 222.10,69.45 222.43,69.37 222.77,69.29 223.10,69.22 223.43,69.15 223.76,69.09 224.09,69.03 224.42,68.98 224.75,68.93 225.08,68.88 225.41,68.84 225.74,68.79 226.07,68.76 226.40,68.72 226.73,68.69 227.06,68.66 227.39,68.63 227.72,68.60 228.05,68.58 228.38,68.56 228.71,68.53 229.04,68.51 229.37,68.49 229.70,68.48 230.03,68.46 230.37,68.44 230.70,68.43 231.03,68.41 231.36,68.40 231.69,68.39 232.02,68.38 232.35,68.37 232.68,68.36 233.01,68.34 233.34,68.34 233.67,68.33 234.00,68.32 234.33,68.31 234.66,68.30 234.99,68.29 235.32,68.29 235.65,68.28 235.98,68.27 236.31,68.27 236.64,68.26 236.97,68.25 237.30,68.25 237.63,68.24 237.97,68.24 238.30,68.23 238.63,68.23 238.96,68.22 239.29,68.22 239.62,68.21 239.95,68.21 240.28,68.21 240.61,68.20 240.94,68.20 241.27,68.19 241.60,68.19 241.93,68.19 242.26,68.18 242.59,68.18 242.92,68.18 243.25,68.17 243.58,68.17 243.91,68.17 244.24,68.16 244.57,68.16 244.90,68.16 245.23,68.16 245.57,68.15 245.90,68.15 246.23,68.15 246.56,68.15 246.89,68.14 247.22,68.14 247.55,68.14 247.88,68.14 248.21,68.13 248.54,68.13 248.87,68.13 249.20,68.13 249.53,68.12 249.86,68.12 250.19,68.12 250.52,68.12 250.85,68.12 251.18,68.11 251.51,68.11 251.84,68.11 252.17,68.11 252.50,68.11 252.83,68.10 253.17,68.10 253.50,68.10 253.83,68.10 254.16,68.10 254.49,68.10 254.82,68.09 255.15,68.09 255.48,68.09 255.81,68.09 256.14,68.09 256.47,68.09 256.80,68.09 257.13,68.08 257.46,68.08 257.79,68.08 258.12,68.08 258.45,68.08 258.78,68.08 259.11,68.08 259.44,68.08 259.77,68.07 260.10,68.07 260.43,68.07 260.77,68.07 261.10,68.07 261.43,68.07 261.76,68.07 262.09,68.07 262.42,68.06 262.75,68.06 263.08,68.06 263.41,68.06 263.74,68.06 264.07,68.06 264.40,68.06" fill="none" stroke="#3535c8" stroke-width="1.1" stroke-dasharray="1,1.4"/>
<path d="M165.60,68.24 165.93,68.24 166.26,68.24 166.59,68.24 166.92,68.24 167.25,68.24 167.58,68.24 167.91,68.23 168.24,68.23 168.57,68.23 168.90,68.23 169.23,68.23 169.57,68.23 169.90,68.23 170.23,68.23 170.56,68.22 170.89,68.22 171.22,68.22 171.55,68.22 171.88,68.22 172.21,68.22 172.54,68.22 172.87,68.22 173.20,68.21 173.53,68.21 173.86,68.21 174.19,68.21 174.52,68.21 174.85,68.21 175.18,68.21 175.51,68.20 175.84,68.20 176.17,68.20 176.50,68.20 176.83,68.20 177.17,68.20 177.50,68.19 177.83,68.19 178.16,68.19 178.49,68.19 178.82,68.19 179.15,68.18 179.48,68.18 179.81,68.18 180.14,68.18 180.47,68.18 180.80,68.17 181.13,68.17 181.46,68.17 181.79,68.17 182.12,68.17 182.45,68.16 182.78,68.16 183.11,68.16 183.44,68.16 183.77,68.15 184.10,68.15 184.43,68.15 184.77,68.15 185.10,68.14 185.43,68.14 185.76,68.14 186.09,68.14 186.42,68.13 186.75,68.13 187.08,68.13 187.41,68.13 187.74,68.12 188.07,68.12 188.40,68.12 188.73,68.11 189.06,68.11 189.39,68.11 189.72,68.10 190.05,68.10 190.38,68.10 190.71,68.09 191.04,68.09 191.37,68.09 191.70,68.08 192.03,68.08 192.37,68.07 192.70,68.07 193.03,68.07 193.36,68.06 193.69,68.06 194.02,68.05 194.35,68.05 194.68,68.04 195.01,68.04 195.34,68.03 195.67,68.03 196.00,68.02 196.33,68.02 196.66,68.01 196.99,68.01 197.32,68.00 197.65,67.99 197.98,67.99 198.31,67.98 198.64,67.97 198.97,67.97 199.30,67.96 199.63,67.95 199.97,67.94 200.30,67.93 200.63,67.92 200.96,67.91 201.29,67.90 201.62,67.89 201.95,67.88 202.28,67.87 202.61,67.85 202.94,67.84 203.27,67.82 203.60,67.81 203.93,67.79 204.26,67.77 204.59,67.75 204.92,67.72 205.25,67.70 205.58,67.67 205.91,67.64 206.24,67.61 206.57,67.57 206.90,67.53 207.23,67.49 207.57,67.44 207.90,67.39 208.23,67.33 208.56,67.26 208.89,67.19 209.22,67.12 209.55,67.03 209.88,66.93 210.21,66.83 210.54,66.71 210.87,66.58 211.20,66.44 211.53,66.28 211.86,66.10 212.19,65.91 212.52,65.69 212.85,65.44 213.18,65.17 213.51,64.90 213.84,65.17 214.17,65.42 214.50,65.64 214.83,65.84 215.17,67.40 215.50,67.55 215.83,71.55 216.16,71.76 216.49,71.99 216.82,72.24 217.15,72.26 217.48,71.99 217.81,71.73 218.14,71.50 218.47,71.28 218.80,71.08 219.13,70.90 219.46,70.73 219.79,70.57 220.12,70.42 220.45,70.29 220.78,70.16 221.11,70.05 221.44,69.94 221.77,69.84 222.10,69.75 222.43,69.67 222.77,69.59 223.10,69.52 223.43,69.45 223.76,69.39 224.09,69.33 224.42,69.28 224.75,69.23 225.08,69.18 225.41,69.14 225.74,69.09 226.07,69.06 226.40,69.02 226.73,68.99 227.06,68.96 227.39,68.93 227.72,68.90 228.05,68.88 228.38,68.86 228.71,68.83 229.04,68.81 229.37,68.79 229.70,68.78 230.03,68.76 230.37,68.74 230.70,68.73 231.03,68.71 231.36,68.70 231.69,68.69 232.02,68.68 232.35,68.67 232.68,68.66 233.01,68.64 233.34,68.64 233.67,68.63 234.00,68.62 234.33,68.61 234.66,68.60 234.99,68.59 235.32,68.59 235.65,68.58 235.98,68.57 236.31,68.57 236.64,68.56 236.97,68.55 237.30,68.55 237.63,68.54 237.97,68.54 238.30,68.53 238.63,68.53 238.96,68.52 239.29,68.52 239.62,68.51 239.95,68.51 240.28,68.51 240.61,68.50 240.94,68.50 241.27,68.49 241.60,68.49 241.93,68.49 242.26,68.48 242.59,68.48 242.92,68.48 243.25,68.47 243.58,68.47 243.91,68.47 244.24,68.46 244.57,68.46 244.90,68.46 245.23,68.46 245.57,68.45 245.90,68.45 246.23,68.45 246.56,68.45 246.89,68.44 247.22,68.44 247.55,68.44 247.88,68.44 248.21,68.43 248.54,68.43 248.87,68.43 249.20,68.43 249.53,68.42 249.86,68.42 250.19,68.42 250.52,68.42 250.85,68.42 251.18,68.41 251.51,68.41 251.84,68.41 252.17,68.41 252.50,68.41 252.83,68.40 253.17,68.40 253.50,68.40 253.83,68.40 254.16,68.40 254.49,68.40 254.82,68.39 255.15,68.39 255.48,68.39 255.81,68.39 256.14,68.39 256.47,68.39 256.80,68.39 257.13,68.38 257.46,68.38 257.79,68.38 258.12,68.38 258.45,68.38 258.78,68.38 259.11,68.38 259.44,68.38 259.77,68.37 260.10,68.37 260.43,68.37 260.77,68.37 261.10,68.37 261.43,68.37 261.76,68.37 262.09,68.37 262.42,68.36 262.75,68.36 263.08,68.36 263.41,68.36 263.74,68.36 264.07,68.36 264.40,68.36" fill="none" stroke="#f27b3c" stroke-width="2.2"/>
</g>
<line x1="166.9" y1="13.2" x2="179.8" y2="13.2" stroke="#f7a882" stroke-width="1.2"/>
<circle cx="173.3" cy="13.2" r="0.9" fill="#f27b3c"/>
<text x="181.6" y="15.4" font-size="6.6" text-anchor="start" font-weight="normal" fill="#1e1e1e" >Fe<tspan dy="1.6" font-size="0.9em">3</tspan><tspan dy="-1.6">O</tspan><tspan dy="1.6" font-size="0.9em">4</tspan></text>
<line x1="166.9" y1="22.7" x2="179.8" y2="22.7" stroke="#a8dcee" stroke-width="1.3"/>
<text x="181.6" y="25" font-size="6.6" text-anchor="start" font-weight="normal" fill="#1e1e1e" >Fe/Fe<tspan dy="1.6" font-size="0.9em">3</tspan><tspan dy="-1.6">O</tspan><tspan dy="1.6" font-size="0.9em">4</tspan></text>
<text x="182.6" y="34.8" font-size="6.6" text-anchor="start" font-weight="normal" fill="#1e1e1e" >core shell</text>
<line x1="216" y1="12.8" x2="229" y2="12.8" stroke="#3434c8" stroke-width="1.3" stroke-dasharray="1.2,1.2"/>
<text x="231.4" y="15.2" font-size="6.6" text-anchor="start" font-weight="normal" fill="#1e1e1e" >Fe/Fe<tspan dy="1.6" font-size="0.9em">3</tspan><tspan dy="-1.6">O</tspan><tspan dy="1.6" font-size="0.9em">4</tspan></text>
<text x="231.4" y="24.8" font-size="6.6" text-anchor="start" font-weight="normal" fill="#1e1e1e" >core shell</text>
<text x="231.4" y="32.9" font-size="6.6" text-anchor="start" font-weight="normal" fill="#1e1e1e" >removed</text>
<text x="231.4" y="41.0" font-size="6.6" text-anchor="start" font-weight="normal" fill="#1e1e1e" >gain</text>
<defs>
<linearGradient id="gtop" x1="0" y1="13" x2="0" y2="68" gradientUnits="userSpaceOnUse">
<stop offset="0" stop-color="#0808fa"/><stop offset="0.31" stop-color="#1c1cff"/><stop offset="0.436" stop-color="#5050ff"/>
<stop offset="0.545" stop-color="#a0a0ff"/><stop offset="0.636" stop-color="#ffffff"/><stop offset="0.709" stop-color="#ffc0c0"/>
<stop offset="0.782" stop-color="#ff5050"/><stop offset="0.836" stop-color="#ff1010"/><stop offset="1" stop-color="#f20000"/>
</linearGradient>
<linearGradient id="gbot" x1="0" y1="68" x2="0" y2="122.5" gradientUnits="userSpaceOnUse">
<stop offset="0" stop-color="#ff5000"/><stop offset="0.15" stop-color="#ff6c00"/><stop offset="0.4" stop-color="#ffa000"/>
<stop offset="0.7" stop-color="#ffe000"/><stop offset="1" stop-color="#ffff00"/>
</linearGradient>
<linearGradient id="gcb1" x1="0" y1="0" x2="1" y2="0">
<stop offset="0" stop-color="#ff0000"/><stop offset="0.5" stop-color="#ffffff"/><stop offset="1" stop-color="#0000ff"/>
</linearGradient>
<linearGradient id="gcb2" x1="0" y1="0" x2="1" y2="0">
<stop offset="0" stop-color="#ffff00"/><stop offset="0.5" stop-color="#ff9000"/><stop offset="1" stop-color="#ff0000"/>
</linearGradient>
<linearGradient id="gshell" x1="0" y1="13" x2="0" y2="68" gradientUnits="userSpaceOnUse">
<stop offset="0" stop-color="#1424f6"/><stop offset="0.4" stop-color="#2a3af4"/><stop offset="0.75" stop-color="#4252f2"/><stop offset="1" stop-color="#5060f0"/></linearGradient>
<clipPath id="ctop"><rect x="291" y="13" width="110" height="55"/></clipPath>
<clipPath id="cbot"><rect x="291" y="68" width="110" height="56"/></clipPath>
</defs>
<g clip-path="url(#ctop)">
<circle cx="291" cy="66.5" r="53.5" fill="url(#gtop)"/>
<circle cx="401" cy="66.5" r="53.5" fill="url(#gtop)"/>
<circle cx="291" cy="66.5" r="51.2" fill="none" stroke="url(#gshell)" stroke-width="4.6"/>
<circle cx="401" cy="66.5" r="51.2" fill="none" stroke="url(#gshell)" stroke-width="4.6"/>
<rect x="341.3" y="59.5" width="8.6" height="8.5" fill="#6272f4"/>
<path d="M295.8,32.5 h1.0 M295.8,36 h1.1 M295.7,39.6 h1.2 M295.5,43.7 h1.6 M295.2,47.3 h2.2 M295.0,50.8 h2.6 M294.8,54.7 h3 M294.4,58.6 h3.8 M294.2,62.4 h4.2 M294.2,65.9 h4.2 M303.3,32.5 h1.0 M303.2,36 h1.1 M303.2,39.6 h1.2 M303.0,43.7 h1.6 M302.7,47.3 h2.2 M302.5,50.8 h2.6 M302.3,54.7 h3 M301.9,58.6 h3.8 M301.7,62.4 h4.2 M301.7,65.9 h4.2 M311.0,32.5 h1.0 M310.9,36 h1.1 M310.9,39.6 h1.2 M310.7,43.7 h1.6 M310.4,47.3 h2.2 M310.2,50.8 h2.6 M310.0,54.7 h3 M309.6,58.6 h3.8 M309.4,62.4 h4.2 M309.4,65.9 h4.2 M318.5,32.5 h1.0 M318.4,36 h1.1 M318.4,39.6 h1.2 M318.2,43.7 h1.6 M317.9,47.3 h2.2 M317.7,50.8 h2.6 M317.5,54.7 h3 M317.1,58.6 h3.8 M316.9,62.4 h4.2 M316.9,65.9 h4.2 M326.1,36 h1.1 M326.0,39.6 h1.2 M325.8,43.7 h1.6 M325.5,47.3 h2.2 M325.3,50.8 h2.6 M325.1,54.7 h3 M324.7,58.6 h3.8 M324.5,62.4 h4.2 M324.5,65.9 h4.2 M333.2,47.3 h2.2 M333.0,50.8 h2.6 M332.8,54.7 h3 M332.4,58.6 h3.8 M332.2,62.4 h4.2 M332.2,65.9 h4.2 M356.0,47.3 h2.2 M355.8,50.8 h2.6 M355.6,54.7 h3 M355.2,58.6 h3.8 M355.0,62.4 h4.2 M355.0,65.9 h4.2 M364.1,36 h1.1 M364.0,39.6 h1.2 M363.8,43.7 h1.6 M363.5,47.3 h2.2 M363.3,50.8 h2.6 M363.1,54.7 h3 M362.7,58.6 h3.8 M362.5,62.4 h4.2 M362.5,65.9 h4.2 M371.6,32.5 h1.0 M371.6,36 h1.1 M371.5,39.6 h1.2 M371.3,43.7 h1.6 M371.0,47.3 h2.2 M370.8,50.8 h2.6 M370.6,54.7 h3 M370.2,58.6 h3.8 M370.0,62.4 h4.2 M370.0,65.9 h4.2 M379.1,32.5 h1.0 M379.1,36 h1.1 M379.0,39.6 h1.2 M378.8,43.7 h1.6 M378.5,47.3 h2.2 M378.3,50.8 h2.6 M378.1,54.7 h3 M377.7,58.6 h3.8 M377.5,62.4 h4.2 M377.5,65.9 h4.2 M386.6,32.5 h1.0 M386.6,36 h1.1 M386.5,39.6 h1.2 M386.3,43.7 h1.6 M386.0,47.3 h2.2 M385.8,50.8 h2.6 M385.6,54.7 h3 M385.2,58.6 h3.8 M385.0,62.4 h4.2 M385.0,65.9 h4.2 M394.1,32.5 h1.0 M394.1,36 h1.1 M394.0,39.6 h1.2 M393.8,43.7 h1.6 M393.5,47.3 h2.2 M393.3,50.8 h2.6 M393.1,54.7 h3 M392.7,58.6 h3.8 M392.5,62.4 h4.2 M392.5,65.9 h4.2" stroke="#000" stroke-width="0.9" stroke-opacity="0.45" fill="none"/>
</g>
<g clip-path="url(#cbot)" fill="url(#gbot)">
<circle cx="291" cy="68" r="54.3"/><circle cx="401" cy="68" r="54.3"/><rect x="341" y="68" width="10" height="14"/>
</g>
<path d="M345.1,74.8 L346.4,74.8 L346.9,82.5 L344.6,82.5 Z" fill="#fff"/>
<line x1="292.5" y1="8.8" x2="398" y2="8.8" stroke="#111" stroke-width="1.1"/>
<path d="M401.5,8.8 L396,6.3 L396,11.3 Z" fill="#111"/>
<text x="346" y="7.0" font-size="9.3" text-anchor="middle" font-weight="normal" fill="#1e1e1e" >External</text>
<text x="346" y="17.9" font-size="9.3" text-anchor="middle" font-weight="normal" fill="#1e1e1e" >field direction</text>
<rect x="291" y="124.6" width="50" height="4.9" fill="url(#gcb1)"/>
<rect x="351.7" y="124.6" width="49.3" height="4.9" fill="url(#gcb2)"/>
<text x="290.8" y="138.4" font-size="8.6" text-anchor="start" font-weight="normal" fill="#1e1e1e" >+1</text>
<text x="341.3" y="138.4" font-size="8.6" text-anchor="end" font-weight="normal" fill="#1e1e1e" >-1</text>
<text x="351.8" y="138.4" font-size="8.6" text-anchor="start" font-weight="normal" fill="#1e1e1e" >0</text>
<text x="401.3" y="138.4" font-size="8.6" text-anchor="end" font-weight="normal" fill="#1e1e1e" >24</text>
<text x="315" y="148.6" font-size="9.5" text-anchor="middle" font-weight="normal" fill="#1e1e1e" >Normalized</text>
<text x="315.5" y="160.2" font-size="9.5" text-anchor="middle" font-weight="normal" fill="#1e1e1e" >magnetization</text>
<text x="376.5" y="148.6" font-size="9.5" text-anchor="middle" font-weight="normal" fill="#1e1e1e" >Magnetic</text>
<text x="376.5" y="160.2" font-size="9.5" text-anchor="middle" font-weight="normal" fill="#1e1e1e" >gain factor</text>
<path d="M438.5,5.5 H537 V130.5 H438.5 Z" fill="none" stroke="#3c3c3c" stroke-width="1"/><line x1="448.0" y1="130.5" x2="448.0" y2="132.5" stroke="#3c3c3c" stroke-width="1"/><line x1="467.8" y1="130.5" x2="467.8" y2="132.5" stroke="#3c3c3c" stroke-width="1"/><line x1="487.6" y1="130.5" x2="487.6" y2="132.5" stroke="#3c3c3c" stroke-width="1"/><line x1="507.4" y1="130.5" x2="507.4" y2="132.5" stroke="#3c3c3c" stroke-width="1"/><line x1="527.2" y1="130.5" x2="527.2" y2="132.5" stroke="#3c3c3c" stroke-width="1"/><line x1="457.9" y1="130.5" x2="457.9" y2="131.7" stroke="#3c3c3c" stroke-width="1"/><line x1="477.7" y1="130.5" x2="477.7" y2="131.7" stroke="#3c3c3c" stroke-width="1"/><line x1="497.5" y1="130.5" x2="497.5" y2="131.7" stroke="#3c3c3c" stroke-width="1"/><line x1="517.3" y1="130.5" x2="517.3" y2="131.7" stroke="#3c3c3c" stroke-width="1"/><line x1="436.5" y1="130.1" x2="438.5" y2="130.1" stroke="#3c3c3c" stroke-width="1"/><line x1="436.5" y1="73.25" x2="438.5" y2="73.25" stroke="#3c3c3c" stroke-width="1"/><line x1="436.5" y1="16.400000000000006" x2="438.5" y2="16.400000000000006" stroke="#3c3c3c" stroke-width="1"/><line x1="437.3" y1="101.675" x2="438.5" y2="101.675" stroke="#3c3c3c" stroke-width="1"/><line x1="437.3" y1="44.825" x2="438.5" y2="44.825" stroke="#3c3c3c" stroke-width="1"/>
<text x="448.0" y="141.4" font-size="9.0" text-anchor="middle" font-weight="normal" fill="#1e1e1e" >10</text>
<text x="467.8" y="141.4" font-size="9.0" text-anchor="middle" font-weight="normal" fill="#1e1e1e" >20</text>
<text x="487.6" y="141.4" font-size="9.0" text-anchor="middle" font-weight="normal" fill="#1e1e1e" >30</text>
<text x="507.4" y="141.4" font-size="9.0" text-anchor="middle" font-weight="normal" fill="#1e1e1e" >40</text>
<text x="527.2" y="141.4" font-size="9.0" text-anchor="middle" font-weight="normal" fill="#1e1e1e" >50</text>
<text x="435" y="132.9" font-size="9.0" text-anchor="end" font-weight="normal" fill="#1e1e1e" >5</text>
<text x="435" y="76.05" font-size="9.0" text-anchor="end" font-weight="normal" fill="#1e1e1e" >10</text>
<text x="435" y="19.200000000000006" font-size="9.0" text-anchor="end" font-weight="normal" fill="#1e1e1e" >15</text>
<text x="487.7" y="152.2" font-size="9.6" text-anchor="middle" font-weight="normal" fill="#1e1e1e" >Shell thickness (nm)</text>
<text x="0" y="0" font-size="9.2" text-anchor="middle" fill="#1e1e1e" transform="translate(417.2,68.6) rotate(-90)">Gain factor</text>
<path d="M448.00,24.30 467.60,71.70 487.60,88.70 507.30,96.10 527.30,99.80" fill="none" stroke="#6ec3e0" stroke-width="1"/>
<circle cx="448" cy="24.3" r="1.3" fill="#a9dcee" stroke="#6ec3e0" stroke-width="0.6"/>
<circle cx="467.6" cy="71.7" r="1.3" fill="#a9dcee" stroke="#6ec3e0" stroke-width="0.6"/>
<circle cx="487.6" cy="88.7" r="1.3" fill="#a9dcee" stroke="#6ec3e0" stroke-width="0.6"/>
<circle cx="507.3" cy="96.1" r="1.3" fill="#a9dcee" stroke="#6ec3e0" stroke-width="0.6"/>
<circle cx="527.3" cy="99.8" r="1.3" fill="#a9dcee" stroke="#6ec3e0" stroke-width="0.6"/>
<path d="M579.0,5.5 H677.5 V130.5 H579.0 Z" fill="none" stroke="#3c3c3c" stroke-width="1"/><line x1="578.9" y1="130.5" x2="578.9" y2="132.5" stroke="#3c3c3c" stroke-width="1"/><line x1="623.7181818181818" y1="130.5" x2="623.7181818181818" y2="132.5" stroke="#3c3c3c" stroke-width="1"/><line x1="668.5363636363636" y1="130.5" x2="668.5363636363636" y2="132.5" stroke="#3c3c3c" stroke-width="1"/><line x1="601.3090909090909" y1="130.5" x2="601.3090909090909" y2="131.7" stroke="#3c3c3c" stroke-width="1"/><line x1="646.1272727272727" y1="130.5" x2="646.1272727272727" y2="131.7" stroke="#3c3c3c" stroke-width="1"/><line x1="577.0" y1="130.3" x2="579.0" y2="130.3" stroke="#3c3c3c" stroke-width="1"/><line x1="577.0" y1="91.20000000000002" x2="579.0" y2="91.20000000000002" stroke="#3c3c3c" stroke-width="1"/><line x1="577.0" y1="52.10000000000001" x2="579.0" y2="52.10000000000001" stroke="#3c3c3c" stroke-width="1"/><line x1="577.0" y1="13.0" x2="579.0" y2="13.0" stroke="#3c3c3c" stroke-width="1"/><line x1="577.8" y1="110.75000000000001" x2="579.0" y2="110.75000000000001" stroke="#3c3c3c" stroke-width="1"/><line x1="577.8" y1="71.65" x2="579.0" y2="71.65" stroke="#3c3c3c" stroke-width="1"/><line x1="577.8" y1="32.55000000000001" x2="579.0" y2="32.55000000000001" stroke="#3c3c3c" stroke-width="1"/>
<text x="578.9" y="141.4" font-size="9.0" text-anchor="middle" font-weight="normal" fill="#1e1e1e" >0</text>
<text x="623.7181818181818" y="141.4" font-size="9.0" text-anchor="middle" font-weight="normal" fill="#1e1e1e" >250</text>
<text x="668.5363636363636" y="141.4" font-size="9.0" text-anchor="middle" font-weight="normal" fill="#1e1e1e" >500</text>
<text x="575.5" y="133.10000000000002" font-size="9.0" text-anchor="end" font-weight="normal" fill="#1e1e1e" >10</text>
<text x="575.5" y="94.00000000000001" font-size="9.0" text-anchor="end" font-weight="normal" fill="#1e1e1e" >15</text>
<text x="575.5" y="54.900000000000006" font-size="9.0" text-anchor="end" font-weight="normal" fill="#1e1e1e" >20</text>
<text x="575.5" y="15.8" font-size="9.0" text-anchor="end" font-weight="normal" fill="#1e1e1e" >25</text>
<text x="628.8" y="152.2" font-size="9.4" text-anchor="middle" font-weight="normal" fill="#1e1e1e" >Core radius (nm)</text>
<text x="0" y="0" font-size="9.2" text-anchor="middle" fill="#1e1e1e" transform="translate(557.9,69) rotate(-90)">Gain factor</text>
<path d="M589.66,116.22 591.45,115.44 593.24,109.97 595.03,109.97 596.83,104.49 598.62,100.58 600.41,95.89 602.21,93.94 604.00,89.64 605.79,88.07 614.75,71.65 623.72,58.36 632.68,46.63 641.65,41.15 650.61,34.11 659.57,26.29 668.54,21.60" fill="none" stroke="#6ec3e0" stroke-width="1"/>
<circle cx="589.66" cy="116.22" r="1.3" fill="#a9dcee" stroke="#6ec3e0" stroke-width="0.6"/>
<circle cx="591.45" cy="115.44" r="1.3" fill="#a9dcee" stroke="#6ec3e0" stroke-width="0.6"/>
<circle cx="593.24" cy="109.97" r="1.3" fill="#a9dcee" stroke="#6ec3e0" stroke-width="0.6"/>
<circle cx="595.03" cy="109.97" r="1.3" fill="#a9dcee" stroke="#6ec3e0" stroke-width="0.6"/>
<circle cx="596.83" cy="104.49" r="1.3" fill="#a9dcee" stroke="#6ec3e0" stroke-width="0.6"/>
<circle cx="598.62" cy="100.58" r="1.3" fill="#a9dcee" stroke="#6ec3e0" stroke-width="0.6"/>
<circle cx="600.41" cy="95.89" r="1.3" fill="#a9dcee" stroke="#6ec3e0" stroke-width="0.6"/>
<circle cx="602.21" cy="93.94" r="1.3" fill="#a9dcee" stroke="#6ec3e0" stroke-width="0.6"/>
<circle cx="604.00" cy="89.64" r="1.3" fill="#a9dcee" stroke="#6ec3e0" stroke-width="0.6"/>
<circle cx="605.79" cy="88.07" r="1.3" fill="#a9dcee" stroke="#6ec3e0" stroke-width="0.6"/>
<circle cx="614.75" cy="71.65" r="1.3" fill="#a9dcee" stroke="#6ec3e0" stroke-width="0.6"/>
<circle cx="623.72" cy="58.36" r="1.3" fill="#a9dcee" stroke="#6ec3e0" stroke-width="0.6"/>
<circle cx="632.68" cy="46.63" r="1.3" fill="#a9dcee" stroke="#6ec3e0" stroke-width="0.6"/>
<circle cx="641.65" cy="41.15" r="1.3" fill="#a9dcee" stroke="#6ec3e0" stroke-width="0.6"/>
<circle cx="650.61" cy="34.11" r="1.3" fill="#a9dcee" stroke="#6ec3e0" stroke-width="0.6"/>
<circle cx="659.57" cy="26.29" r="1.3" fill="#a9dcee" stroke="#6ec3e0" stroke-width="0.6"/>
<circle cx="668.54" cy="21.60" r="1.3" fill="#a9dcee" stroke="#6ec3e0" stroke-width="0.6"/>
<path d="M32.5,188.5 H137.5 V311.5 H32.5 Z" fill="none" stroke="#3c3c3c" stroke-width="1"/><line x1="32.5" y1="311.5" x2="32.5" y2="313.5" stroke="#3c3c3c" stroke-width="1"/><line x1="84.9" y1="311.5" x2="84.9" y2="313.5" stroke="#3c3c3c" stroke-width="1"/><line x1="137.5" y1="311.5" x2="137.5" y2="313.5" stroke="#3c3c3c" stroke-width="1"/><line x1="58.7" y1="311.5" x2="58.7" y2="312.7" stroke="#3c3c3c" stroke-width="1"/><line x1="111.2" y1="311.5" x2="111.2" y2="312.7" stroke="#3c3c3c" stroke-width="1"/><line x1="30.5" y1="193.5" x2="32.5" y2="193.5" stroke="#3c3c3c" stroke-width="1"/><line x1="30.5" y1="249.75" x2="32.5" y2="249.75" stroke="#3c3c3c" stroke-width="1"/><line x1="30.5" y1="306" x2="32.5" y2="306" stroke="#3c3c3c" stroke-width="1"/><line x1="31.3" y1="221.6" x2="32.5" y2="221.6" stroke="#3c3c3c" stroke-width="1"/><line x1="31.3" y1="277.9" x2="32.5" y2="277.9" stroke="#3c3c3c" stroke-width="1"/>
<text x="29.5" y="196.6" font-size="9.2" text-anchor="end" font-weight="normal" fill="#1e1e1e" >1.0</text>
<text x="29.5" y="252.9" font-size="9.2" text-anchor="end" font-weight="normal" fill="#1e1e1e" >0.5</text>
<text x="29.5" y="309.1" font-size="9.2" text-anchor="end" font-weight="normal" fill="#1e1e1e" >0.0</text>
<text x="32.5" y="322.8" font-size="9.2" text-anchor="middle" font-weight="normal" fill="#1e1e1e" >-100</text>
<text x="84.9" y="322.8" font-size="9.2" text-anchor="middle" font-weight="normal" fill="#1e1e1e" >0</text>
<text x="137.5" y="322.8" font-size="9.2" text-anchor="middle" font-weight="normal" fill="#1e1e1e" >100</text>
<text x="85" y="334.7" font-size="9.6" text-anchor="middle" font-weight="normal" fill="#1e1e1e" >Magnetic Field (mT)</text>
<text x="0" y="0" font-size="9.45" text-anchor="middle" fill="#1e1e1e" transform="translate(8.0,249.8) rotate(-90)">Normalized MR</text>
<clipPath id="cf"><rect x="32.5" y="188.5" width="105" height="122.5"/></clipPath>
<g clip-path="url(#cf)" fill="none">
<path d="M32.40,304.73 32.75,304.58 33.10,304.43 33.45,304.28 33.80,304.12 34.16,303.96 34.51,303.79 34.86,303.62 35.21,303.45 35.56,303.28 35.91,303.10 36.26,302.92 36.61,302.74 36.97,302.55 37.32,302.36 37.67,302.17 38.02,301.98 38.37,301.78 38.72,301.59 39.07,301.39 39.42,301.19 39.77,300.98 40.13,300.78 40.48,300.57 40.83,300.36 41.18,300.14 41.53,299.93 41.88,299.71 42.23,299.49 42.58,299.27 42.94,299.05 43.29,298.83 43.64,298.60 43.99,298.37 44.34,298.14 44.69,297.90 45.04,297.66 45.39,297.42 45.74,297.18 46.10,296.93 46.45,296.68 46.80,296.43 47.15,296.18 47.50,295.92 47.85,295.66 48.20,295.39 48.55,295.12 48.91,294.85 49.26,294.57 49.61,294.29 49.96,294.01 50.31,293.72 50.66,293.43 51.01,293.14 51.36,292.84 51.71,292.54 52.07,292.24 52.42,291.93 52.77,291.62 53.12,291.31 53.47,291.00 53.82,290.68 54.17,290.36 54.52,290.03 54.87,289.69 55.23,289.35 55.58,289.01 55.93,288.66 56.28,288.30 56.63,287.93 56.98,287.56 57.33,287.18 57.68,286.79 58.04,286.39 58.39,285.98 58.74,285.56 59.09,285.13 59.44,284.69 59.79,284.23 60.14,283.74 60.49,283.24 60.84,282.72 61.20,282.18 61.55,281.62 61.90,281.05 62.25,280.46 62.60,279.86 62.95,279.25 63.30,278.63 63.65,278.01 64.01,277.38 64.36,276.74 64.71,276.10 65.06,275.46 65.41,274.82 65.76,274.18 66.11,273.54 66.46,272.91 66.81,272.26 67.17,271.61 67.52,270.95 67.87,270.27 68.22,269.58 68.57,268.86 68.92,268.12 69.27,267.36 69.62,266.56 69.98,265.74 70.33,264.87 70.68,263.95 71.03,262.97 71.38,261.94 71.73,260.86 72.08,259.73 72.43,258.56 72.78,257.37 73.14,256.15 73.49,254.91 73.84,253.66 74.19,252.40 74.54,251.12 74.89,249.81 75.24,248.44 75.59,247.04 75.95,245.60 76.30,244.14 76.65,242.68 77.00,241.22 77.35,239.76 77.70,238.27 78.05,236.74 78.40,235.13 78.75,233.45 79.11,231.66 79.46,229.74 79.81,227.63 80.16,225.23 80.51,222.63 80.86,219.88 81.21,217.05 81.56,214.20 81.92,211.39 82.27,208.70 82.62,206.17 82.97,203.72 83.32,201.31 83.67,198.94 84.02,196.61 84.37,194.32 84.72,194.95 85.08,197.26 85.43,199.60 85.78,201.98 86.13,204.40 86.48,206.86 86.83,209.43 87.18,212.17 87.53,214.99 87.88,217.84 88.24,220.66 88.59,223.37 88.94,225.92 89.29,228.24 89.64,230.29 89.99,232.17 90.34,233.93 90.69,235.59 91.05,237.17 91.40,238.69 91.75,240.17 92.10,241.63 92.45,243.08 92.80,244.55 93.15,246.01 93.50,247.43 93.85,248.83 94.21,250.18 94.56,251.48 94.91,252.75 95.26,254.01 95.61,255.26 95.96,256.49 96.31,257.70 96.66,258.89 97.02,260.05 97.37,261.16 97.72,262.23 98.07,263.25 98.42,264.21 98.77,265.12 99.12,265.97 99.47,266.79 99.82,267.57 100.18,268.33 100.53,269.06 100.88,269.77 101.23,270.46 101.58,271.13 101.93,271.79 102.28,272.44 102.63,273.08 102.99,273.72 103.34,274.36 103.69,275.00 104.04,275.64 104.39,276.28 104.74,276.92 105.09,277.55 105.44,278.18 105.79,278.81 106.15,279.42 106.50,280.03 106.85,280.62 107.20,281.21 107.55,281.78 107.90,282.33 108.25,282.86 108.60,283.38 108.96,283.88 109.31,284.36 109.66,284.81 110.01,285.25 110.36,285.68 110.71,286.09 111.06,286.50 111.41,286.90 111.76,287.28 112.12,287.66 112.47,288.04 112.82,288.40 113.17,288.76 113.52,289.11 113.87,289.45 114.22,289.79 114.57,290.12 114.93,290.45 115.28,290.77 115.63,291.09 115.98,291.40 116.33,291.71 116.68,292.02 117.03,292.32 117.38,292.62 117.73,292.93 118.09,293.22 118.44,293.52 118.79,293.80 119.14,294.09 119.49,294.37 119.84,294.65 120.19,294.93 120.54,295.20 120.89,295.46 121.25,295.73 121.60,295.99 121.95,296.25 122.30,296.50 122.65,296.75 123.00,297.00 123.35,297.25 123.70,297.49 124.06,297.73 124.41,297.97 124.76,298.20 125.11,298.43 125.46,298.66 125.81,298.89 126.16,299.11 126.51,299.33 126.86,299.56 127.22,299.77 127.57,299.99 127.92,300.20 128.27,300.42 128.62,300.63 128.97,300.83 129.32,301.04 129.67,301.24 130.03,301.44 130.38,301.64 130.73,301.84 131.08,302.03 131.43,302.23 131.78,302.41 132.13,302.60 132.48,302.79 132.83,302.97 133.19,303.15 133.54,303.33 133.89,303.50 134.24,303.67 134.59,303.84 134.94,304.01 135.29,304.17 135.64,304.32 136.00,304.48 136.35,304.63 136.70,304.77 137.05,304.92 137.40,305.06" stroke="#f5a76a" stroke-width="2"/>
<path d="M32.40,305.74 32.75,305.60 33.10,305.46 33.45,305.32 33.80,305.18 34.16,305.03 34.51,304.88 34.86,304.73 35.21,304.58 35.56,304.43 35.91,304.27 36.26,304.10 36.61,303.94 36.97,303.77 37.32,303.59 37.67,303.41 38.02,303.23 38.37,303.05 38.72,302.86 39.07,302.67 39.42,302.48 39.77,302.28 40.13,302.09 40.48,301.89 40.83,301.68 41.18,301.48 41.53,301.27 41.88,301.06 42.23,300.85 42.58,300.64 42.94,300.42 43.29,300.20 43.64,299.98 43.99,299.76 44.34,299.53 44.69,299.31 45.04,299.08 45.39,298.84 45.74,298.61 46.10,298.37 46.45,298.14 46.80,297.89 47.15,297.65 47.50,297.40 47.85,297.15 48.20,296.89 48.55,296.64 48.91,296.38 49.26,296.11 49.61,295.84 49.96,295.57 50.31,295.30 50.66,295.02 51.01,294.74 51.36,294.45 51.71,294.16 52.07,293.87 52.42,293.57 52.77,293.27 53.12,292.96 53.47,292.65 53.82,292.34 54.17,292.03 54.52,291.71 54.87,291.39 55.23,291.07 55.58,290.74 55.93,290.41 56.28,290.07 56.63,289.73 56.98,289.38 57.33,289.02 57.68,288.66 58.04,288.29 58.39,287.91 58.74,287.53 59.09,287.13 59.44,286.73 59.79,286.31 60.14,285.89 60.49,285.45 60.84,285.01 61.20,284.55 61.55,284.07 61.90,283.56 62.25,283.03 62.60,282.49 62.95,281.92 63.30,281.34 63.65,280.74 64.01,280.13 64.36,279.51 64.71,278.87 65.06,278.23 65.41,277.58 65.76,276.93 66.11,276.27 66.46,275.61 66.81,274.95 67.17,274.29 67.52,273.63 67.87,272.97 68.22,272.31 68.57,271.64 68.92,270.96 69.27,270.26 69.62,269.54 69.98,268.80 70.33,268.04 70.68,267.25 71.03,266.42 71.38,265.56 71.73,264.66 72.08,263.70 72.43,262.67 72.78,261.59 73.14,260.46 73.49,259.28 73.84,258.07 74.19,256.82 74.54,255.55 74.89,254.27 75.24,252.97 75.59,251.67 75.95,250.33 76.30,248.94 76.65,247.51 77.00,246.04 77.35,244.54 77.70,243.03 78.05,241.53 78.40,240.02 78.75,238.49 79.11,236.92 79.46,235.28 79.81,233.54 80.16,231.70 80.51,229.73 80.86,227.54 81.21,225.06 81.56,222.36 81.92,219.51 82.27,216.59 82.62,213.65 82.97,210.78 83.32,208.04 83.67,205.47 84.02,202.96 84.37,200.49 84.72,198.06 85.08,195.67 85.43,193.68 85.78,196.03 86.13,198.43 86.48,200.86 86.83,203.34 87.18,205.86 87.53,208.45 87.88,211.21 88.24,214.10 88.59,217.04 88.94,219.96 89.29,222.79 89.64,225.45 89.99,227.89 90.34,230.04 90.69,231.99 91.05,233.81 91.40,235.53 91.75,237.16 92.10,238.73 92.45,240.25 92.80,241.75 93.15,243.26 93.50,244.77 93.85,246.27 94.21,247.73 94.56,249.16 94.91,250.54 95.26,251.87 95.61,253.17 95.96,254.47 96.31,255.75 96.66,257.01 97.02,258.25 97.37,259.46 97.72,260.63 98.07,261.76 98.42,262.83 98.77,263.85 99.12,264.80 99.47,265.70 99.82,266.55 100.18,267.37 100.53,268.16 100.88,268.92 101.23,269.65 101.58,270.37 101.93,271.06 102.28,271.74 102.63,272.41 102.99,273.07 103.34,273.73 103.69,274.39 104.04,275.05 104.39,275.71 104.74,276.37 105.09,277.03 105.44,277.68 105.79,278.33 106.15,278.97 106.50,279.60 106.85,280.22 107.20,280.83 107.55,281.43 107.90,282.01 108.25,282.57 108.60,283.12 108.96,283.64 109.31,284.14 109.66,284.62 110.01,285.08 110.36,285.52 110.71,285.95 111.06,286.38 111.41,286.79 111.76,287.19 112.12,287.59 112.47,287.97 112.82,288.35 113.17,288.72 113.52,289.08 113.87,289.43 114.22,289.78 114.57,290.12 114.93,290.46 115.28,290.79 115.63,291.12 115.98,291.44 116.33,291.76 116.68,292.08 117.03,292.39 117.38,292.70 117.73,293.01 118.09,293.32 118.44,293.62 118.79,293.91 119.14,294.21 119.49,294.49 119.84,294.78 120.19,295.06 120.54,295.34 120.89,295.61 121.25,295.88 121.60,296.15 121.95,296.42 122.30,296.68 122.65,296.93 123.00,297.19 123.35,297.44 123.70,297.69 124.06,297.93 124.41,298.17 124.76,298.41 125.11,298.65 125.46,298.88 125.81,299.11 126.16,299.34 126.51,299.57 126.86,299.79 127.22,300.02 127.57,300.24 127.92,300.45 128.27,300.67 128.62,300.88 128.97,301.10 129.32,301.30 129.67,301.51 130.03,301.72 130.38,301.92 130.73,302.12 131.08,302.31 131.43,302.51 131.78,302.70 132.13,302.89 132.48,303.07 132.83,303.26 133.19,303.44 133.54,303.62 133.89,303.79 134.24,303.96 134.59,304.13 134.94,304.29 135.29,304.45 135.64,304.61 136.00,304.76 136.35,304.91 136.70,305.05 137.05,305.20 137.40,305.34" stroke="#ee6e5c" stroke-width="1.3"/>
<path d="M32.40,306.46 32.75,306.31 33.10,306.16 33.45,306.01 33.80,305.86 34.16,305.72 34.51,305.57 34.86,305.42 35.21,305.27 35.56,305.12 35.91,304.97 36.26,304.81 36.61,304.66 36.97,304.50 37.32,304.33 37.67,304.16 38.02,303.99 38.37,303.81 38.72,303.63 39.07,303.45 39.42,303.26 39.77,303.06 40.13,302.87 40.48,302.67 40.83,302.47 41.18,302.27 41.53,302.06 41.88,301.86 42.23,301.64 42.58,301.43 42.94,301.21 43.29,300.99 43.64,300.77 43.99,300.55 44.34,300.32 44.69,300.09 45.04,299.86 45.39,299.63 45.74,299.39 46.10,299.15 46.45,298.91 46.80,298.67 47.15,298.42 47.50,298.17 47.85,297.92 48.20,297.67 48.55,297.41 48.91,297.14 49.26,296.88 49.61,296.61 49.96,296.34 50.31,296.06 50.66,295.78 51.01,295.50 51.36,295.21 51.71,294.92 52.07,294.62 52.42,294.32 52.77,294.02 53.12,293.71 53.47,293.40 53.82,293.08 54.17,292.76 54.52,292.43 54.87,292.11 55.23,291.78 55.58,291.44 55.93,291.11 56.28,290.77 56.63,290.42 56.98,290.07 57.33,289.71 57.68,289.35 58.04,288.97 58.39,288.59 58.74,288.21 59.09,287.81 59.44,287.41 59.79,286.99 60.14,286.57 60.49,286.13 60.84,285.68 61.20,285.22 61.55,284.75 61.90,284.26 62.25,283.74 62.60,283.20 62.95,282.63 63.30,282.05 63.65,281.44 64.01,280.82 64.36,280.19 64.71,279.54 65.06,278.88 65.41,278.21 65.76,277.53 66.11,276.85 66.46,276.16 66.81,275.47 67.17,274.78 67.52,274.09 67.87,273.41 68.22,272.72 68.57,272.03 68.92,271.32 69.27,270.60 69.62,269.87 69.98,269.11 70.33,268.32 70.68,267.50 71.03,266.65 71.38,265.77 71.73,264.84 72.08,263.84 72.43,262.78 72.78,261.66 73.14,260.48 73.49,259.25 73.84,257.98 74.19,256.68 74.54,255.36 74.89,254.01 75.24,252.66 75.59,251.30 75.95,249.88 76.30,248.42 76.65,246.91 77.00,245.36 77.35,243.78 77.70,242.21 78.05,240.65 78.40,239.07 78.75,237.44 79.11,235.75 79.46,233.97 79.81,232.08 80.16,230.05 80.51,227.81 80.86,225.24 81.21,222.44 81.56,219.47 81.92,216.42 82.27,213.36 82.62,210.38 82.97,207.55 83.32,204.89 83.67,202.28 84.02,199.72 84.37,197.20 84.72,194.72 85.08,194.72 85.43,197.20 85.78,199.72 86.13,202.28 86.48,204.89 86.83,207.55 87.18,210.38 87.53,213.36 87.88,216.42 88.24,219.47 88.59,222.44 88.94,225.24 89.29,227.81 89.64,230.05 89.99,232.08 90.34,233.97 90.69,235.75 91.05,237.44 91.40,239.07 91.75,240.65 92.10,242.21 92.45,243.78 92.80,245.36 93.15,246.91 93.50,248.42 93.85,249.88 94.21,251.30 94.56,252.66 94.91,254.01 95.26,255.36 95.61,256.68 95.96,257.98 96.31,259.25 96.66,260.48 97.02,261.66 97.37,262.78 97.72,263.84 98.07,264.84 98.42,265.77 98.77,266.65 99.12,267.50 99.47,268.32 99.82,269.11 100.18,269.87 100.53,270.60 100.88,271.32 101.23,272.03 101.58,272.72 101.93,273.41 102.28,274.09 102.63,274.78 102.99,275.47 103.34,276.16 103.69,276.85 104.04,277.53 104.39,278.21 104.74,278.88 105.09,279.54 105.44,280.19 105.79,280.82 106.15,281.44 106.50,282.05 106.85,282.63 107.20,283.20 107.55,283.74 107.90,284.26 108.25,284.75 108.60,285.22 108.96,285.68 109.31,286.13 109.66,286.57 110.01,286.99 110.36,287.41 110.71,287.81 111.06,288.21 111.41,288.59 111.76,288.97 112.12,289.35 112.47,289.71 112.82,290.07 113.17,290.42 113.52,290.77 113.87,291.11 114.22,291.44 114.57,291.78 114.93,292.11 115.28,292.43 115.63,292.76 115.98,293.08 116.33,293.40 116.68,293.71 117.03,294.02 117.38,294.32 117.73,294.62 118.09,294.92 118.44,295.21 118.79,295.50 119.14,295.78 119.49,296.06 119.84,296.34 120.19,296.61 120.54,296.88 120.89,297.14 121.25,297.41 121.60,297.67 121.95,297.92 122.30,298.17 122.65,298.42 123.00,298.67 123.35,298.91 123.70,299.15 124.06,299.39 124.41,299.63 124.76,299.86 125.11,300.09 125.46,300.32 125.81,300.55 126.16,300.77 126.51,300.99 126.86,301.21 127.22,301.43 127.57,301.64 127.92,301.86 128.27,302.06 128.62,302.27 128.97,302.47 129.32,302.67 129.67,302.87 130.03,303.06 130.38,303.26 130.73,303.45 131.08,303.63 131.43,303.81 131.78,303.99 132.13,304.16 132.48,304.33 132.83,304.50 133.19,304.66 133.54,304.81 133.89,304.97 134.24,305.12 134.59,305.27 134.94,305.42 135.29,305.57 135.64,305.72 136.00,305.86 136.35,306.01 136.70,306.16 137.05,306.31 137.40,306.46" stroke="#74c5df" stroke-width="1.6"/>
<path d="M32.40,305.04 32.75,305.00 33.10,304.95 33.45,304.90 33.80,304.85 34.16,304.80 34.51,304.74 34.86,304.68 35.21,304.61 35.56,304.54 35.91,304.47 36.26,304.40 36.61,304.32 36.97,304.24 37.32,304.16 37.67,304.08 38.02,303.99 38.37,303.90 38.72,303.81 39.07,303.72 39.42,303.62 39.77,303.52 40.13,303.42 40.48,303.32 40.83,303.21 41.18,303.10 41.53,302.99 41.88,302.88 42.23,302.76 42.58,302.64 42.94,302.52 43.29,302.40 43.64,302.28 43.99,302.15 44.34,302.02 44.69,301.89 45.04,301.76 45.39,301.62 45.74,301.49 46.10,301.35 46.45,301.21 46.80,301.06 47.15,300.92 47.50,300.77 47.85,300.62 48.20,300.47 48.55,300.31 48.91,300.15 49.26,299.98 49.61,299.81 49.96,299.63 50.31,299.45 50.66,299.26 51.01,299.07 51.36,298.87 51.71,298.67 52.07,298.46 52.42,298.25 52.77,298.03 53.12,297.81 53.47,297.58 53.82,297.35 54.17,297.12 54.52,296.88 54.87,296.63 55.23,296.38 55.58,296.13 55.93,295.87 56.28,295.61 56.63,295.34 56.98,295.07 57.33,294.79 57.68,294.51 58.04,294.22 58.39,293.93 58.74,293.64 59.09,293.34 59.44,293.04 59.79,292.73 60.14,292.42 60.49,292.09 60.84,291.75 61.20,291.40 61.55,291.04 61.90,290.67 62.25,290.28 62.60,289.89 62.95,289.48 63.30,289.06 63.65,288.64 64.01,288.20 64.36,287.75 64.71,287.29 65.06,286.82 65.41,286.34 65.76,285.85 66.11,285.35 66.46,284.84 66.81,284.33 67.17,283.80 67.52,283.26 67.87,282.72 68.22,282.16 68.57,281.58 68.92,280.99 69.27,280.38 69.62,279.74 69.98,279.09 70.33,278.42 70.68,277.73 71.03,277.01 71.38,276.27 71.73,275.51 72.08,274.73 72.43,273.92 72.78,273.08 73.14,272.22 73.49,271.34 73.84,270.42 74.19,269.47 74.54,268.48 74.89,267.44 75.24,266.35 75.59,265.20 75.95,264.00 76.30,262.73 76.65,261.40 77.00,259.99 77.35,258.51 77.70,256.95 78.05,255.20 78.40,253.21 78.75,251.03 79.11,248.73 79.46,246.35 79.81,243.95 80.16,241.50 80.51,238.95 80.86,236.25 81.21,233.37 81.56,230.26 81.92,226.80 82.27,223.06 82.62,219.17 82.97,215.20 83.32,211.26 83.67,207.39 84.02,203.47 84.37,199.51 84.72,195.51 85.08,195.51 85.43,199.51 85.78,203.47 86.13,207.39 86.48,211.26 86.83,215.20 87.18,219.17 87.53,223.06 87.88,226.80 88.24,230.26 88.59,233.37 88.94,236.25 89.29,238.95 89.64,241.50 89.99,243.95 90.34,246.35 90.69,248.73 91.05,251.03 91.40,253.21 91.75,255.20 92.10,256.95 92.45,258.51 92.80,259.99 93.15,261.40 93.50,262.73 93.85,264.00 94.21,265.20 94.56,266.35 94.91,267.44 95.26,268.48 95.61,269.47 95.96,270.42 96.31,271.34 96.66,272.22 97.02,273.08 97.37,273.92 97.72,274.73 98.07,275.51 98.42,276.27 98.77,277.01 99.12,277.73 99.47,278.42 99.82,279.09 100.18,279.74 100.53,280.38 100.88,280.99 101.23,281.58 101.58,282.16 101.93,282.72 102.28,283.26 102.63,283.80 102.99,284.33 103.34,284.84 103.69,285.35 104.04,285.85 104.39,286.34 104.74,286.82 105.09,287.29 105.44,287.75 105.79,288.20 106.15,288.64 106.50,289.06 106.85,289.48 107.20,289.89 107.55,290.28 107.90,290.67 108.25,291.04 108.60,291.40 108.96,291.75 109.31,292.09 109.66,292.42 110.01,292.73 110.36,293.04 110.71,293.34 111.06,293.64 111.41,293.93 111.76,294.22 112.12,294.51 112.47,294.79 112.82,295.07 113.17,295.34 113.52,295.61 113.87,295.87 114.22,296.13 114.57,296.38 114.93,296.63 115.28,296.88 115.63,297.12 115.98,297.35 116.33,297.58 116.68,297.81 117.03,298.03 117.38,298.25 117.73,298.46 118.09,298.67 118.44,298.87 118.79,299.07 119.14,299.26 119.49,299.45 119.84,299.63 120.19,299.81 120.54,299.98 120.89,300.15 121.25,300.31 121.60,300.47 121.95,300.62 122.30,300.77 122.65,300.92 123.00,301.06 123.35,301.21 123.70,301.35 124.06,301.49 124.41,301.62 124.76,301.76 125.11,301.89 125.46,302.02 125.81,302.15 126.16,302.28 126.51,302.40 126.86,302.52 127.22,302.64 127.57,302.76 127.92,302.88 128.27,302.99 128.62,303.10 128.97,303.21 129.32,303.32 129.67,303.42 130.03,303.52 130.38,303.62 130.73,303.72 131.08,303.81 131.43,303.90 131.78,303.99 132.13,304.08 132.48,304.16 132.83,304.24 133.19,304.32 133.54,304.40 133.89,304.47 134.24,304.54 134.59,304.61 134.94,304.68 135.29,304.74 135.64,304.80 136.00,304.85 136.35,304.90 136.70,304.95 137.05,305.00 137.40,305.04" stroke="#5454c4" stroke-width="1.5"/>
</g>
<text x="52.9" y="200.7" font-size="8.7" text-anchor="middle" font-weight="normal" fill="#1e1e1e" >Thermal</text>
<text x="51.6" y="211.2" font-size="8.7" text-anchor="middle" font-weight="normal" fill="#1e1e1e" >oxidation</text>
<text x="52.6" y="221.6" font-size="8.7" text-anchor="middle" font-weight="normal" fill="#1e1e1e" >time</text>
<line x1="91.4" y1="196.4" x2="103.9" y2="196.4" stroke="#f07a6a" stroke-width="1"/>
<text x="107" y="198.5" font-size="8.6" text-anchor="start" font-weight="normal" fill="#1e1e1e" >120 min</text>
<line x1="91.4" y1="206.8" x2="103.9" y2="206.8" stroke="#f8c49a" stroke-width="1"/>
<text x="107" y="208.9" font-size="8.6" text-anchor="start" font-weight="normal" fill="#1e1e1e" >90 min</text>
<line x1="91.4" y1="217.2" x2="103.9" y2="217.2" stroke="#86cde6" stroke-width="1"/>
<text x="107" y="219.29999999999998" font-size="8.6" text-anchor="start" font-weight="normal" fill="#1e1e1e" >60 min</text>
<line x1="91.4" y1="227.3" x2="103.9" y2="227.3" stroke="#6a6ad0" stroke-width="1"/>
<text x="107" y="229.4" font-size="8.6" text-anchor="start" font-weight="normal" fill="#1e1e1e" >30 min</text>
<defs><linearGradient id="garr" x1="0" y1="188" x2="0" y2="234" gradientUnits="userSpaceOnUse">
<stop offset="0" stop-color="#ee6447"/><stop offset="0.25" stop-color="#f08a55"/><stop offset="0.45" stop-color="#f2b27a"/>
<stop offset="0.58" stop-color="#b8d2de"/><stop offset="0.7" stop-color="#6cb0dc"/><stop offset="0.85" stop-color="#5a6ac8"/><stop offset="1" stop-color="#4040b0"/></linearGradient></defs>
<path d="M146.5,188.3 L151.2,196.8 L148,196.8 L148,234.2 L145,234.2 L145,196.8 L141.8,196.8 Z" fill="url(#garr)"/>
<text x="153.4" y="199.2" font-size="8.8" text-anchor="start" font-weight="normal" fill="#1e1e1e" >Thick</text>
<text x="153.7" y="233" font-size="8.8" text-anchor="start" font-weight="normal" fill="#1e1e1e" >Thin</text>
<text x="153" y="245.4" font-size="8.8" text-anchor="middle" font-weight="normal" fill="#1e1e1e" >Fe<tspan dy="2.2" font-size="0.78em">3</tspan><tspan dy="-2.2">O</tspan><tspan dy="2.2" font-size="0.78em">4</tspan></text>
<text x="153.2" y="257.2" font-size="8.8" text-anchor="middle" font-weight="normal" fill="#1e1e1e" >shell</text>
<path d="M208.5,187.5 H312.5 V311 H208.5 Z" fill="none" stroke="#3c3c3c" stroke-width="1"/><line x1="208.5" y1="311" x2="208.5" y2="313.0" stroke="#3c3c3c" stroke-width="1"/><line x1="260.5" y1="311" x2="260.5" y2="313.0" stroke="#3c3c3c" stroke-width="1"/><line x1="312.6" y1="311" x2="312.6" y2="313.0" stroke="#3c3c3c" stroke-width="1"/><line x1="234.5" y1="311" x2="234.5" y2="312.2" stroke="#3c3c3c" stroke-width="1"/><line x1="286.5" y1="311" x2="286.5" y2="312.2" stroke="#3c3c3c" stroke-width="1"/><line x1="206.5" y1="208.8" x2="208.5" y2="208.8" stroke="#3c3c3c" stroke-width="1"/><line x1="206.5" y1="251.35" x2="208.5" y2="251.35" stroke="#3c3c3c" stroke-width="1"/><line x1="206.5" y1="293.9" x2="208.5" y2="293.9" stroke="#3c3c3c" stroke-width="1"/><line x1="207.3" y1="230.1" x2="208.5" y2="230.1" stroke="#3c3c3c" stroke-width="1"/><line x1="207.3" y1="272.6" x2="208.5" y2="272.6" stroke="#3c3c3c" stroke-width="1"/>
<text x="205.5" y="211.9" font-size="9.2" text-anchor="end" font-weight="normal" fill="#1e1e1e" >3</text>
<text x="205.5" y="254.4" font-size="9.2" text-anchor="end" font-weight="normal" fill="#1e1e1e" >0</text>
<text x="205.5" y="297" font-size="9.2" text-anchor="end" font-weight="normal" fill="#1e1e1e" >-3</text>
<text x="208.5" y="322.8" font-size="9.2" text-anchor="middle" font-weight="normal" fill="#1e1e1e" >-100</text>
<text x="260.5" y="322.8" font-size="9.2" text-anchor="middle" font-weight="normal" fill="#1e1e1e" >0</text>
<text x="312.6" y="322.8" font-size="9.2" text-anchor="middle" font-weight="normal" fill="#1e1e1e" >100</text>
<text x="260.8" y="334.7" font-size="9.6" text-anchor="middle" font-weight="normal" fill="#1e1e1e" >Magnetic Field (mT)</text>
<text x="0" y="0" font-size="9.45" text-anchor="middle" fill="#1e1e1e" transform="translate(188.5,248.8) rotate(-90)">Sensitivity (T<tspan dy="-3" font-size="6.5">-1</tspan><tspan dy="3">)</tspan></text>
<clipPath id="cg"><rect x="208.5" y="187.5" width="104.1" height="123.5"/></clipPath>
<g clip-path="url(#cg)" fill="none">
<path d="M208.50,250.49 208.65,249.73 208.80,249.54 208.95,249.45 209.10,250.17 209.24,249.13 209.39,250.20 209.54,249.62 209.69,248.72 209.84,249.88 209.99,249.77 210.14,248.84 210.29,249.68 210.43,249.63 210.58,249.32 210.73,248.83 210.88,250.72 211.03,249.91 211.18,250.01 211.33,250.05 211.48,249.91 211.62,249.89 211.77,249.22 211.92,249.91 212.07,249.32 212.22,249.15 212.37,249.80 212.52,249.29 212.67,248.41 212.81,249.17 212.96,249.72 213.11,249.38 213.26,249.87 213.41,249.17 213.56,248.82 213.71,249.79 213.86,249.43 214.01,248.65 214.15,249.58 214.30,249.18 214.45,249.87 214.60,249.75 214.75,249.56 214.90,248.02 215.05,249.48 215.20,249.54 215.34,249.55 215.49,249.32 215.64,248.85 215.79,249.10 215.94,248.04 216.09,249.07 216.24,248.37 216.39,249.02 216.53,248.83 216.68,249.98 216.83,249.23 216.98,249.18 217.13,249.28 217.28,250.35 217.43,248.62 217.58,249.33 217.72,249.35 217.87,249.24 218.02,249.22 218.17,248.85 218.32,249.79 218.47,249.59 218.62,248.88 218.77,248.96 218.91,249.25 219.06,249.35 219.21,249.49 219.36,249.04 219.51,248.32 219.66,249.58 219.81,248.11 219.96,248.49 220.11,249.21 220.25,248.50 220.40,249.77 220.55,249.91 220.70,249.65 220.85,249.14 221.00,249.08 221.15,249.17 221.30,248.82 221.44,250.07 221.59,248.57 221.74,249.64 221.89,249.20 222.04,249.05 222.19,249.46 222.34,249.57 222.49,249.35 222.63,248.78 222.78,248.42 222.93,248.43 223.08,249.30 223.23,249.17 223.38,249.23 223.53,248.44 223.68,249.84 223.82,247.97 223.97,248.94 224.12,249.09 224.27,248.44 224.42,248.04 224.57,248.42 224.72,248.00 224.87,248.51 225.02,247.87 225.16,247.85 225.31,248.60 225.46,247.71 225.61,248.42 225.76,248.45 225.91,249.01 226.06,248.63 226.21,248.02 226.35,249.19 226.50,248.06 226.65,248.21 226.80,248.24 226.95,249.63 227.10,248.42 227.25,247.98 227.40,248.77 227.54,248.27 227.69,249.65 227.84,247.90 227.99,248.64 228.14,247.76 228.29,249.28 228.44,247.83 228.59,248.34 228.73,247.73 228.88,248.69 229.03,248.50 229.18,246.86 229.33,248.58 229.48,248.49 229.63,248.23 229.78,248.64 229.92,247.36 230.07,247.04 230.22,248.40 230.37,248.96 230.52,247.29 230.67,247.31 230.82,247.45 230.97,247.24 231.12,248.37 231.26,247.95 231.41,248.62 231.56,248.62 231.71,247.23 231.86,248.15 232.01,246.45 232.16,247.68 232.31,248.06 232.45,247.23 232.60,246.63 232.75,247.36 232.90,248.30 233.05,247.37 233.20,246.78 233.35,247.81 233.50,247.95 233.64,246.91 233.79,247.38 233.94,248.06 234.09,247.62 234.24,247.81 234.39,247.18 234.54,247.26 234.69,246.64 234.83,246.87 234.98,248.13 235.13,246.98 235.28,246.67 235.43,246.89 235.58,246.54 235.73,247.40 235.88,247.60 236.03,246.50 236.17,247.60 236.32,248.19 236.47,246.35 236.62,247.31 236.77,247.04 236.92,247.63 237.07,247.55 237.22,247.42 237.36,246.94 237.51,246.49 237.66,247.96 237.81,246.20 237.96,247.26 238.11,247.15 238.26,246.13 238.41,246.52 238.55,247.31 238.70,245.35 238.85,246.84 239.00,246.17 239.15,246.16 239.30,245.43 239.45,246.45 239.60,245.57 239.74,246.52 239.89,245.42 240.04,246.44 240.19,246.17 240.34,244.84 240.49,245.69 240.64,245.76 240.79,244.50 240.93,245.52 241.08,246.14 241.23,245.21 241.38,246.24 241.53,244.88 241.68,244.78 241.83,245.74 241.98,245.72 242.13,245.20 242.27,245.24 242.42,245.74 242.57,244.81 242.72,246.23 242.87,245.26 243.02,245.18 243.17,245.04 243.32,244.65 243.46,245.46 243.61,244.36 243.76,244.73 243.91,244.93 244.06,245.27 244.21,245.09 244.36,244.15 244.51,244.82 244.65,244.17 244.80,243.53 244.95,243.47 245.10,243.09 245.25,244.06 245.40,244.43 245.55,243.15 245.70,243.47 245.84,242.93 245.99,243.47 246.14,242.71 246.29,242.82 246.44,242.80 246.59,242.83 246.74,242.80 246.89,242.79 247.04,242.70 247.18,242.16 247.33,242.91 247.48,241.53 247.63,242.47 247.78,241.74 247.93,242.24 248.08,242.22 248.23,240.81 248.37,242.02 248.52,242.45 248.67,242.01 248.82,241.66 248.97,240.13 249.12,241.10 249.27,240.56 249.42,241.52 249.56,240.61 249.71,240.29 249.86,239.50 250.01,240.77 250.16,239.88 250.31,239.90 250.46,240.49 250.61,239.76 250.75,239.74 250.90,240.74 251.05,238.90 251.20,238.76 251.35,239.13 251.50,239.46 251.65,237.67 251.80,238.16 251.94,237.54 252.09,237.11 252.24,238.00 252.39,237.02 252.54,237.40 252.69,237.07 252.84,236.86 252.99,236.57 253.14,235.70 253.28,236.01 253.43,235.91 253.58,235.71 253.73,235.09 253.88,235.52 254.03,235.01 254.18,234.46 254.33,234.45 254.47,233.89 254.62,233.85 254.77,232.04 254.92,232.08 255.07,232.23 255.22,232.16 255.37,230.52 255.52,231.20 255.66,231.04 255.81,230.42 255.96,230.00 256.11,228.94 256.26,229.31 256.41,227.66 256.56,228.88 256.71,227.50 256.85,227.95 257.00,225.84 257.15,226.52 257.30,225.81 257.45,224.68 257.60,223.89 257.75,224.62 257.90,223.55 258.05,223.48 258.19,221.93 258.34,221.35 258.49,220.75 258.64,220.18 258.79,219.21 258.94,218.59 259.09,217.01 259.24,215.55 259.38,216.58 259.53,209.79 259.68,202.48 259.83,196.92 259.98,205.99 260.13,210.29 260.28,209.60 260.43,207.36 260.57,299.51 260.72,297.52 260.87,294.74 261.02,292.82 261.17,291.45 261.32,295.04 261.47,295.93 261.62,289.37 261.76,283.02 261.91,281.43 262.06,281.39 262.21,279.94 262.36,277.43 262.51,276.38 262.66,276.56 262.81,275.82 262.95,274.59 263.10,273.63 263.25,273.42 263.40,271.73 263.55,271.73 263.70,270.99 263.85,269.13 264.00,269.41 264.15,268.46 264.29,267.50 264.44,266.86 264.59,267.00 264.74,266.29 264.89,266.32 265.04,264.41 265.19,264.61 265.34,265.20 265.48,264.19 265.63,263.41 265.78,263.19 265.93,262.09 266.08,262.02 266.23,262.79 266.38,262.24 266.53,262.62 266.67,261.48 266.82,261.27 266.97,259.57 267.12,260.80 267.27,261.80 267.42,260.77 267.57,260.11 267.72,260.67 267.86,260.25 268.01,259.76 268.16,259.17 268.31,259.28 268.46,259.51 268.61,258.39 268.76,258.97 268.91,258.79 269.06,259.13 269.20,258.65 269.35,257.69 269.50,258.83 269.65,257.82 269.80,257.24 269.95,257.73 270.10,257.26 270.25,257.91 270.39,256.41 270.54,256.42 270.69,256.80 270.84,257.82 270.99,257.32 271.14,256.07 271.29,255.55 271.44,256.26 271.58,255.63 271.73,256.59 271.88,256.26 272.03,256.07 272.18,255.75 272.33,256.77 272.48,255.29 272.63,255.00 272.77,256.33 272.92,256.37 273.07,255.33 273.22,255.83 273.37,256.74 273.52,254.87 273.67,255.17 273.82,255.47 273.96,253.94 274.11,255.00 274.26,255.45 274.41,254.91 274.56,255.50 274.71,255.28 274.86,254.58 275.01,255.06 275.16,254.95 275.30,253.70 275.45,254.11 275.60,254.09 275.75,254.20 275.90,254.18 276.05,253.59 276.20,254.38 276.35,253.27 276.49,254.82 276.64,254.39 276.79,254.99 276.94,254.36 277.09,253.83 277.24,253.26 277.39,254.43 277.54,254.01 277.68,254.18 277.83,254.36 277.98,254.58 278.13,253.84 278.28,254.83 278.43,253.75 278.58,253.77 278.73,254.12 278.87,254.29 279.02,254.47 279.17,252.60 279.32,254.39 279.47,252.72 279.62,253.24 279.77,253.76 279.92,254.18 280.07,252.90 280.21,252.49 280.36,253.98 280.51,253.59 280.66,252.80 280.81,253.18 280.96,252.21 281.11,253.65 281.26,253.00 281.40,253.99 281.55,252.07 281.70,253.65 281.85,254.47 282.00,253.27 282.15,253.25 282.30,252.07 282.45,253.33 282.59,253.12 282.74,252.76 282.89,252.18 283.04,253.09 283.19,252.45 283.34,252.73 283.49,253.17 283.64,252.94 283.78,252.95 283.93,253.47 284.08,252.25 284.23,253.71 284.38,252.24 284.53,252.35 284.68,252.93 284.83,253.29 284.97,252.97 285.12,252.56 285.27,252.39 285.42,252.64 285.57,252.22 285.72,253.09 285.87,252.62 286.02,253.63 286.17,252.30 286.31,252.63 286.46,252.94 286.61,252.03 286.76,252.29 286.91,254.26 287.06,252.63 287.21,253.47 287.36,252.02 287.50,251.20 287.65,252.90 287.80,252.55 287.95,252.72 288.10,252.37 288.25,252.19 288.40,251.82 288.55,253.10 288.69,251.64 288.84,253.05 288.99,252.35 289.14,251.84 289.29,252.08 289.44,253.01 289.59,252.87 289.74,252.72 289.88,252.48 290.03,251.79 290.18,253.16 290.33,252.16 290.48,252.06 290.63,252.09 290.78,252.13 290.93,251.52 291.08,252.10 291.22,251.88 291.37,252.04 291.52,251.33 291.67,253.42 291.82,251.61 291.97,252.47 292.12,252.48 292.27,252.86 292.41,253.36 292.56,252.51 292.71,252.68 292.86,252.00 293.01,253.11 293.16,251.45 293.31,252.10 293.46,252.39 293.60,252.65 293.75,252.68 293.90,252.87 294.05,252.53 294.20,252.21 294.35,252.31 294.50,253.01 294.65,252.35 294.79,252.70 294.94,252.09 295.09,251.12 295.24,251.82 295.39,252.34 295.54,253.08 295.69,252.96 295.84,253.11 295.98,251.73 296.13,252.57 296.28,252.10 296.43,252.48 296.58,252.07 296.73,251.32 296.88,252.50 297.03,252.30 297.18,252.56 297.32,251.60 297.47,252.67 297.62,252.73 297.77,252.86 297.92,252.87 298.07,251.80 298.22,250.60 298.37,252.62 298.51,251.51 298.66,251.91 298.81,252.67 298.96,252.20 299.11,252.17 299.26,252.42 299.41,250.93 299.56,253.10 299.70,251.80 299.85,251.82 300.00,252.34 300.15,251.92 300.30,251.50 300.45,251.91 300.60,251.75 300.75,251.59 300.89,253.13 301.04,251.14 301.19,250.68 301.34,251.41 301.49,251.39 301.64,252.76 301.79,252.02 301.94,252.41 302.09,252.28 302.23,251.40 302.38,252.40 302.53,252.01 302.68,253.02 302.83,252.02 302.98,251.88 303.13,252.32 303.28,252.33 303.42,250.85 303.57,252.60 303.72,252.51 303.87,252.36 304.02,251.22 304.17,250.71 304.32,251.71 304.47,252.30 304.61,252.13 304.76,251.28 304.91,252.40 305.06,251.06 305.21,251.07 305.36,251.83 305.51,251.50 305.66,251.44 305.80,250.98 305.95,252.46 306.10,251.19 306.25,252.07 306.40,252.29 306.55,251.79 306.70,251.97 306.85,252.40 306.99,252.75 307.14,252.37 307.29,251.01 307.44,250.72 307.59,251.46 307.74,251.15 307.89,252.12 308.04,251.87 308.19,251.66 308.33,252.43 308.48,252.37 308.63,251.76 308.78,251.99 308.93,252.41 309.08,251.58 309.23,251.95 309.38,251.22 309.52,251.80 309.67,251.96 309.82,251.72 309.97,251.89 310.12,252.16 310.27,252.01 310.42,251.36 310.57,251.41 310.71,251.05 310.86,252.73 311.01,252.00 311.16,252.01 311.31,251.67 311.46,252.02 311.61,252.05 311.76,251.32 311.90,251.66 312.05,252.42 312.20,251.00 312.35,251.19 312.50,252.08" stroke="#4f4fc4" stroke-width="1.1"/>
<path d="M208.50,248.86 208.65,249.74 208.80,248.68 208.95,249.44 209.10,249.77 209.24,249.52 209.39,249.74 209.54,249.19 209.69,249.20 209.84,249.27 209.99,249.60 210.14,251.36 210.29,249.22 210.43,250.35 210.58,249.13 210.73,248.62 210.88,249.10 211.03,249.47 211.18,249.35 211.33,249.32 211.48,249.55 211.62,249.56 211.77,249.75 211.92,248.55 212.07,249.23 212.22,248.67 212.37,249.35 212.52,249.16 212.67,249.29 212.81,248.93 212.96,248.72 213.11,249.05 213.26,249.56 213.41,249.61 213.56,248.22 213.71,249.32 213.86,249.32 214.01,248.32 214.15,248.53 214.30,248.84 214.45,249.36 214.60,247.79 214.75,248.90 214.90,248.80 215.05,249.21 215.20,249.91 215.34,249.85 215.49,248.86 215.64,248.86 215.79,249.21 215.94,249.74 216.09,249.88 216.24,249.25 216.39,249.88 216.53,248.54 216.68,248.39 216.83,247.43 216.98,248.53 217.13,249.36 217.28,249.51 217.43,250.97 217.58,249.34 217.72,249.09 217.87,248.44 218.02,248.63 218.17,248.64 218.32,248.84 218.47,248.58 218.62,248.13 218.77,249.55 218.91,249.20 219.06,249.72 219.21,248.00 219.36,248.18 219.51,248.48 219.66,249.58 219.81,248.79 219.96,249.02 220.11,248.83 220.25,248.97 220.40,248.56 220.55,249.08 220.70,248.36 220.85,248.70 221.00,248.99 221.15,248.88 221.30,249.06 221.44,248.34 221.59,248.95 221.74,248.62 221.89,249.00 222.04,249.61 222.19,248.24 222.34,249.35 222.49,248.35 222.63,248.49 222.78,249.66 222.93,249.25 223.08,248.99 223.23,249.16 223.38,249.35 223.53,248.25 223.68,248.80 223.82,248.43 223.97,248.89 224.12,248.46 224.27,249.05 224.42,248.63 224.57,248.27 224.72,248.57 224.87,248.84 225.02,249.19 225.16,248.46 225.31,248.35 225.46,248.68 225.61,248.96 225.76,248.21 225.91,247.10 226.06,248.66 226.21,248.29 226.35,248.26 226.50,249.91 226.65,248.38 226.80,248.83 226.95,247.64 227.10,248.55 227.25,248.84 227.40,248.51 227.54,248.28 227.69,248.68 227.84,248.38 227.99,249.10 228.14,248.45 228.29,247.87 228.44,247.18 228.59,247.88 228.73,248.11 228.88,247.58 229.03,247.66 229.18,247.28 229.33,247.59 229.48,248.26 229.63,248.03 229.78,248.06 229.92,247.98 230.07,248.02 230.22,248.56 230.37,249.30 230.52,248.47 230.67,249.22 230.82,248.02 230.97,248.04 231.12,248.97 231.26,247.61 231.41,247.50 231.56,247.92 231.71,247.01 231.86,246.87 232.01,248.60 232.16,247.31 232.31,247.63 232.45,247.63 232.60,247.32 232.75,248.24 232.90,248.14 233.05,248.26 233.20,248.20 233.35,247.81 233.50,248.55 233.64,248.30 233.79,247.36 233.94,247.71 234.09,247.43 234.24,248.70 234.39,248.05 234.54,247.90 234.69,247.54 234.83,247.87 234.98,246.99 235.13,247.53 235.28,247.46 235.43,247.44 235.58,247.02 235.73,247.67 235.88,246.74 236.03,247.09 236.17,247.24 236.32,247.28 236.47,246.98 236.62,246.67 236.77,246.69 236.92,246.98 237.07,246.67 237.22,247.08 237.36,246.41 237.51,247.10 237.66,248.24 237.81,246.27 237.96,246.94 238.11,247.64 238.26,247.05 238.41,247.41 238.55,245.69 238.70,246.57 238.85,247.71 239.00,246.48 239.15,246.98 239.30,245.63 239.45,247.28 239.60,247.93 239.74,246.58 239.89,246.78 240.04,246.78 240.19,247.73 240.34,246.23 240.49,245.49 240.64,247.48 240.79,245.70 240.93,246.64 241.08,244.95 241.23,246.00 241.38,246.31 241.53,245.53 241.68,245.82 241.83,246.41 241.98,245.63 242.13,246.28 242.27,246.96 242.42,244.75 242.57,246.05 242.72,246.15 242.87,245.57 243.02,246.59 243.17,246.43 243.32,245.89 243.46,245.85 243.61,245.47 243.76,244.82 243.91,245.67 244.06,245.07 244.21,244.95 244.36,245.85 244.51,245.05 244.65,245.66 244.80,244.46 244.95,244.74 245.10,244.93 245.25,245.64 245.40,244.75 245.55,245.18 245.70,244.28 245.84,244.68 245.99,245.01 246.14,243.95 246.29,244.00 246.44,244.67 246.59,243.60 246.74,244.36 246.89,244.29 247.04,243.96 247.18,244.38 247.33,244.13 247.48,243.88 247.63,242.84 247.78,242.77 247.93,243.68 248.08,242.53 248.23,243.38 248.37,243.05 248.52,242.67 248.67,242.91 248.82,241.60 248.97,242.74 249.12,243.45 249.27,241.93 249.42,242.79 249.56,242.62 249.71,244.04 249.86,241.66 250.01,241.64 250.16,241.54 250.31,241.31 250.46,240.78 250.61,241.64 250.75,240.95 250.90,241.78 251.05,241.42 251.20,240.48 251.35,240.71 251.50,241.55 251.65,240.44 251.80,240.59 251.94,240.80 252.09,239.92 252.24,240.24 252.39,240.73 252.54,240.30 252.69,238.48 252.84,240.17 252.99,238.99 253.14,238.58 253.28,238.37 253.43,239.23 253.58,238.51 253.73,238.03 253.88,237.44 254.03,238.04 254.18,238.10 254.33,236.64 254.47,236.34 254.62,236.51 254.77,236.80 254.92,235.96 255.07,235.86 255.22,235.17 255.37,236.06 255.52,234.99 255.66,234.84 255.81,235.07 255.96,233.99 256.11,233.76 256.26,233.67 256.41,232.85 256.56,233.51 256.71,232.36 256.85,231.69 257.00,231.37 257.15,230.50 257.30,231.36 257.45,231.09 257.60,229.63 257.75,229.03 257.90,227.59 258.05,227.93 258.19,228.24 258.34,226.73 258.49,227.10 258.64,226.86 258.79,223.92 258.94,224.57 259.09,223.69 259.24,223.08 259.38,221.65 259.53,221.76 259.68,218.33 259.83,216.29 259.98,220.26 260.13,217.77 260.28,216.82 260.43,216.39 260.57,281.59 260.72,280.07 260.87,279.11 261.02,276.51 261.17,275.77 261.32,279.55 261.47,280.09 261.62,275.30 261.76,271.87 261.91,270.67 262.06,270.93 262.21,269.21 262.36,267.53 262.51,268.38 262.66,267.52 262.81,266.33 262.95,265.72 263.10,265.37 263.25,266.12 263.40,264.44 263.55,264.93 263.70,264.29 263.85,263.09 264.00,263.18 264.15,262.17 264.29,260.49 264.44,261.49 264.59,261.20 264.74,261.80 264.89,261.36 265.04,261.32 265.19,260.75 265.34,260.80 265.48,260.31 265.63,259.81 265.78,260.04 265.93,260.05 266.08,259.81 266.23,258.58 266.38,258.61 266.53,257.87 266.67,257.68 266.82,258.29 266.97,257.55 267.12,258.59 267.27,256.32 267.42,256.79 267.57,257.45 267.72,257.85 267.86,256.84 268.01,257.98 268.16,257.24 268.31,256.25 268.46,256.52 268.61,256.72 268.76,255.80 268.91,256.82 269.06,255.97 269.20,256.31 269.35,256.41 269.50,255.57 269.65,256.31 269.80,254.58 269.95,255.91 270.10,254.36 270.25,256.03 270.39,254.99 270.54,255.94 270.69,255.94 270.84,255.02 270.99,254.66 271.14,255.70 271.29,254.24 271.44,255.30 271.58,254.71 271.73,254.50 271.88,254.32 272.03,255.62 272.18,253.63 272.33,254.17 272.48,254.68 272.63,254.97 272.77,255.30 272.92,255.06 273.07,253.93 273.22,254.39 273.37,254.79 273.52,254.40 273.67,253.17 273.82,254.20 273.96,254.31 274.11,253.17 274.26,253.63 274.41,253.83 274.56,254.16 274.71,254.66 274.86,254.41 275.01,253.98 275.16,253.80 275.30,253.44 275.45,253.29 275.60,253.45 275.75,253.42 275.90,254.08 276.05,254.70 276.20,253.75 276.35,253.96 276.49,253.76 276.64,253.52 276.79,254.04 276.94,253.94 277.09,253.34 277.24,253.19 277.39,253.61 277.54,252.93 277.68,253.31 277.83,253.74 277.98,253.11 278.13,252.05 278.28,253.47 278.43,252.41 278.58,252.27 278.73,252.18 278.87,253.47 279.02,251.84 279.17,252.90 279.32,253.09 279.47,253.06 279.62,252.57 279.77,252.86 279.92,252.97 280.07,252.12 280.21,253.24 280.36,253.41 280.51,252.35 280.66,252.38 280.81,252.15 280.96,253.36 281.11,252.12 281.26,252.45 281.40,251.70 281.55,253.40 281.70,252.55 281.85,252.82 282.00,253.55 282.15,253.04 282.30,251.98 282.45,252.87 282.59,253.00 282.74,252.08 282.89,252.00 283.04,251.99 283.19,252.99 283.34,252.56 283.49,251.93 283.64,252.87 283.78,252.91 283.93,252.01 284.08,251.58 284.23,253.11 284.38,253.92 284.53,253.25 284.68,253.00 284.83,252.49 284.97,252.05 285.12,252.47 285.27,252.78 285.42,252.28 285.57,252.91 285.72,252.38 285.87,252.70 286.02,250.81 286.17,251.86 286.31,252.79 286.46,252.87 286.61,252.54 286.76,253.22 286.91,252.69 287.06,252.69 287.21,251.76 287.36,252.49 287.50,252.69 287.65,253.00 287.80,252.89 287.95,252.26 288.10,252.33 288.25,251.56 288.40,252.55 288.55,251.59 288.69,252.04 288.84,252.18 288.99,253.31 289.14,252.89 289.29,251.73 289.44,251.35 289.59,252.02 289.74,251.70 289.88,252.36 290.03,252.33 290.18,252.49 290.33,251.55 290.48,251.91 290.63,252.23 290.78,252.27 290.93,251.77 291.08,251.89 291.22,252.54 291.37,251.09 291.52,251.91 291.67,252.05 291.82,251.21 291.97,251.46 292.12,252.08 292.27,251.73 292.41,252.63 292.56,252.38 292.71,253.30 292.86,251.32 293.01,253.08 293.16,251.61 293.31,252.46 293.46,252.54 293.60,252.09 293.75,251.83 293.90,251.63 294.05,250.96 294.20,251.76 294.35,251.46 294.50,252.29 294.65,251.55 294.79,251.86 294.94,252.20 295.09,251.99 295.24,251.97 295.39,251.82 295.54,251.70 295.69,252.21 295.84,252.34 295.98,251.49 296.13,252.87 296.28,252.25 296.43,251.02 296.58,253.43 296.73,252.29 296.88,251.50 297.03,252.82 297.18,250.41 297.32,253.34 297.47,251.06 297.62,250.99 297.77,251.35 297.92,251.99 298.07,251.66 298.22,252.36 298.37,251.39 298.51,252.48 298.66,252.00 298.81,251.28 298.96,252.47 299.11,252.04 299.26,251.74 299.41,252.59 299.56,251.16 299.70,251.63 299.85,252.68 300.00,251.84 300.15,252.25 300.30,252.18 300.45,251.76 300.60,252.21 300.75,251.25 300.89,252.20 301.04,251.24 301.19,251.82 301.34,251.30 301.49,252.09 301.64,252.07 301.79,252.43 301.94,251.45 302.09,251.24 302.23,250.57 302.38,251.04 302.53,251.63 302.68,251.88 302.83,251.54 302.98,251.78 303.13,250.93 303.28,251.22 303.42,252.23 303.57,252.14 303.72,250.97 303.87,251.57 304.02,251.87 304.17,251.07 304.32,251.96 304.47,251.89 304.61,251.99 304.76,252.84 304.91,251.24 305.06,252.41 305.21,252.05 305.36,252.14 305.51,251.31 305.66,251.76 305.80,251.71 305.95,252.67 306.10,251.76 306.25,252.55 306.40,251.53 306.55,251.50 306.70,251.71 306.85,250.54 306.99,251.40 307.14,251.36 307.29,251.61 307.44,251.80 307.59,251.14 307.74,251.06 307.89,252.43 308.04,251.09 308.19,251.39 308.33,251.14 308.48,251.42 308.63,252.38 308.78,252.34 308.93,250.64 309.08,251.53 309.23,252.47 309.38,251.47 309.52,251.87 309.67,252.71 309.82,252.96 309.97,252.57 310.12,251.51 310.27,251.69 310.42,251.80 310.57,251.49 310.71,251.31 310.86,252.84 311.01,251.82 311.16,252.12 311.31,252.35 311.46,251.96 311.61,251.71 311.76,251.79 311.90,252.47 312.05,251.91 312.20,250.50 312.35,252.24 312.50,252.59" stroke="#74c5df" stroke-width="1.3"/>
<path d="M208.50,249.06 208.65,248.87 208.80,248.94 208.95,249.84 209.10,248.63 209.24,249.64 209.39,249.83 209.54,249.53 209.69,249.25 209.84,248.77 209.99,248.82 210.14,249.19 210.29,248.64 210.43,249.12 210.58,248.65 210.73,249.95 210.88,250.05 211.03,248.71 211.18,249.93 211.33,249.31 211.48,249.19 211.62,249.41 211.77,249.39 211.92,248.34 212.07,250.56 212.22,248.62 212.37,247.81 212.52,249.10 212.67,249.12 212.81,248.69 212.96,248.06 213.11,249.77 213.26,249.04 213.41,249.19 213.56,248.76 213.71,248.98 213.86,248.70 214.01,249.30 214.15,249.03 214.30,249.44 214.45,249.43 214.60,249.13 214.75,249.12 214.90,249.70 215.05,248.14 215.20,249.11 215.34,249.81 215.49,248.39 215.64,249.44 215.79,248.72 215.94,249.01 216.09,248.86 216.24,248.90 216.39,249.31 216.53,248.96 216.68,247.83 216.83,250.24 216.98,248.93 217.13,248.72 217.28,249.55 217.43,249.73 217.58,247.72 217.72,249.15 217.87,247.76 218.02,248.63 218.17,248.88 218.32,248.65 218.47,248.55 218.62,248.24 218.77,248.65 218.91,248.81 219.06,248.79 219.21,248.12 219.36,248.41 219.51,249.44 219.66,249.22 219.81,248.67 219.96,249.21 220.11,249.06 220.25,249.38 220.40,248.98 220.55,248.59 220.70,248.26 220.85,248.81 221.00,247.63 221.15,248.84 221.30,246.98 221.44,248.22 221.59,248.50 221.74,249.06 221.89,250.37 222.04,248.85 222.19,248.65 222.34,247.65 222.49,249.52 222.63,247.65 222.78,248.86 222.93,248.30 223.08,250.15 223.23,248.62 223.38,248.89 223.53,248.30 223.68,248.62 223.82,249.32 223.97,248.12 224.12,248.26 224.27,248.30 224.42,248.06 224.57,248.00 224.72,248.63 224.87,249.38 225.02,249.39 225.16,247.83 225.31,248.18 225.46,248.52 225.61,248.81 225.76,248.54 225.91,248.53 226.06,248.73 226.21,248.93 226.35,247.29 226.50,248.38 226.65,248.84 226.80,249.23 226.95,248.89 227.10,248.06 227.25,248.03 227.40,248.58 227.54,248.41 227.69,248.60 227.84,249.05 227.99,247.67 228.14,248.19 228.29,246.98 228.44,248.81 228.59,248.45 228.73,247.86 228.88,248.48 229.03,249.12 229.18,248.86 229.33,248.25 229.48,248.11 229.63,248.34 229.78,247.71 229.92,247.70 230.07,248.07 230.22,248.22 230.37,248.37 230.52,247.90 230.67,247.68 230.82,248.15 230.97,247.92 231.12,248.35 231.26,248.95 231.41,248.70 231.56,247.69 231.71,247.86 231.86,247.19 232.01,248.05 232.16,247.58 232.31,247.30 232.45,247.47 232.60,248.37 232.75,248.11 232.90,247.92 233.05,248.54 233.20,247.69 233.35,247.37 233.50,248.20 233.64,246.80 233.79,248.06 233.94,248.00 234.09,248.00 234.24,248.25 234.39,247.60 234.54,247.80 234.69,246.86 234.83,247.44 234.98,247.46 235.13,247.87 235.28,248.53 235.43,247.76 235.58,248.17 235.73,247.13 235.88,247.67 236.03,246.69 236.17,247.19 236.32,247.12 236.47,247.44 236.62,247.43 236.77,247.16 236.92,246.99 237.07,247.89 237.22,247.19 237.36,245.96 237.51,247.47 237.66,247.55 237.81,247.77 237.96,248.18 238.11,246.66 238.26,247.27 238.41,247.11 238.55,246.21 238.70,245.81 238.85,247.71 239.00,246.59 239.15,246.80 239.30,246.91 239.45,246.83 239.60,247.09 239.74,246.15 239.89,246.67 240.04,246.80 240.19,246.26 240.34,246.43 240.49,246.65 240.64,246.69 240.79,245.85 240.93,246.53 241.08,246.84 241.23,247.24 241.38,246.92 241.53,247.29 241.68,246.60 241.83,246.48 241.98,247.75 242.13,246.54 242.27,246.15 242.42,246.39 242.57,246.99 242.72,245.69 242.87,246.77 243.02,247.03 243.17,246.91 243.32,246.27 243.46,245.66 243.61,245.52 243.76,246.02 243.91,246.77 244.06,246.43 244.21,246.52 244.36,246.07 244.51,246.93 244.65,245.81 244.80,245.46 244.95,245.87 245.10,245.48 245.25,246.22 245.40,246.46 245.55,245.95 245.70,244.88 245.84,244.90 245.99,245.69 246.14,244.69 246.29,245.51 246.44,244.41 246.59,244.94 246.74,245.41 246.89,244.64 247.04,245.47 247.18,245.50 247.33,245.73 247.48,244.70 247.63,244.81 247.78,244.76 247.93,244.88 248.08,243.76 248.23,244.75 248.37,244.85 248.52,243.66 248.67,243.48 248.82,244.02 248.97,245.12 249.12,244.40 249.27,243.63 249.42,243.88 249.56,242.93 249.71,244.50 249.86,243.25 250.01,243.90 250.16,242.70 250.31,243.40 250.46,242.68 250.61,243.53 250.75,243.87 250.90,243.59 251.05,243.20 251.20,243.33 251.35,241.96 251.50,241.77 251.65,242.26 251.80,242.89 251.94,242.25 252.09,242.45 252.24,241.11 252.39,241.63 252.54,241.40 252.69,241.77 252.84,242.54 252.99,241.70 253.14,241.75 253.28,240.76 253.43,240.76 253.58,241.11 253.73,240.72 253.88,239.44 254.03,240.71 254.18,240.51 254.33,239.94 254.47,240.02 254.62,239.68 254.77,238.95 254.92,238.07 255.07,239.85 255.22,238.64 255.37,238.39 255.52,238.24 255.66,238.07 255.81,237.92 255.96,236.92 256.11,237.50 256.26,237.05 256.41,236.72 256.56,236.38 256.71,236.26 256.85,235.30 257.00,235.57 257.15,235.16 257.30,234.97 257.45,235.17 257.60,234.73 257.75,234.51 257.90,233.43 258.05,233.57 258.19,233.38 258.34,232.23 258.49,231.65 258.64,232.51 258.79,230.10 258.94,230.57 259.09,230.16 259.24,229.47 259.38,230.04 259.53,230.42 259.68,228.84 259.83,230.69 259.98,230.14 260.13,229.60 260.28,230.69 260.43,230.14 260.57,259.55 260.72,258.68 260.87,262.11 261.02,263.47 261.17,265.25 261.32,268.14 261.47,269.14 261.62,265.62 261.76,263.58 261.91,261.52 262.06,259.54 262.21,258.26 262.36,257.84 262.51,257.78 262.66,258.48 262.81,257.83 262.95,257.52 263.10,257.78 263.25,257.40 263.40,257.83 263.55,256.41 263.70,255.97 263.85,257.33 264.00,256.80 264.15,257.08 264.29,256.15 264.44,256.55 264.59,256.68 264.74,256.78 264.89,256.51 265.04,257.08 265.19,256.06 265.34,256.79 265.48,256.02 265.63,256.19 265.78,255.58 265.93,256.15 266.08,255.50 266.23,256.55 266.38,255.63 266.53,256.05 266.67,255.76 266.82,255.78 266.97,255.24 267.12,256.87 267.27,255.49 267.42,256.48 267.57,254.90 267.72,256.66 267.86,256.07 268.01,256.40 268.16,254.48 268.31,256.10 268.46,255.27 268.61,255.60 268.76,256.27 268.91,255.41 269.06,254.80 269.20,255.25 269.35,254.57 269.50,255.28 269.65,255.03 269.80,255.22 269.95,254.78 270.10,253.86 270.25,254.70 270.39,254.76 270.54,255.20 270.69,255.24 270.84,253.95 270.99,255.39 271.14,255.24 271.29,254.75 271.44,254.91 271.58,253.53 271.73,255.96 271.88,254.38 272.03,254.16 272.18,255.17 272.33,254.88 272.48,254.24 272.63,253.54 272.77,254.96 272.92,255.31 273.07,253.84 273.22,253.51 273.37,254.54 273.52,255.58 273.67,253.48 273.82,254.39 273.96,253.62 274.11,254.26 274.26,254.43 274.41,254.45 274.56,253.34 274.71,253.34 274.86,255.35 275.01,254.65 275.16,253.09 275.30,254.29 275.45,254.83 275.60,254.04 275.75,254.09 275.90,254.06 276.05,254.26 276.20,254.15 276.35,254.22 276.49,253.75 276.64,254.38 276.79,254.07 276.94,253.97 277.09,253.13 277.24,253.65 277.39,253.91 277.54,253.52 277.68,253.58 277.83,253.18 277.98,253.50 278.13,252.75 278.28,252.99 278.43,253.76 278.58,253.96 278.73,253.21 278.87,253.40 279.02,253.74 279.17,254.51 279.32,254.70 279.47,253.45 279.62,253.19 279.77,253.16 279.92,254.33 280.07,253.00 280.21,253.88 280.36,253.35 280.51,253.32 280.66,254.00 280.81,253.87 280.96,254.69 281.11,254.03 281.26,254.52 281.40,253.24 281.55,253.44 281.70,252.94 281.85,253.25 282.00,253.80 282.15,253.23 282.30,253.64 282.45,253.06 282.59,253.22 282.74,253.95 282.89,253.38 283.04,253.33 283.19,253.53 283.34,252.84 283.49,252.36 283.64,253.53 283.78,253.52 283.93,254.58 284.08,253.37 284.23,253.54 284.38,254.50 284.53,253.11 284.68,252.93 284.83,253.67 284.97,253.45 285.12,253.78 285.27,252.79 285.42,254.08 285.57,253.38 285.72,252.09 285.87,253.16 286.02,252.92 286.17,253.26 286.31,253.83 286.46,253.18 286.61,252.92 286.76,253.72 286.91,252.94 287.06,252.42 287.21,252.51 287.36,254.01 287.50,253.65 287.65,254.01 287.80,252.48 287.95,252.73 288.10,252.67 288.25,253.56 288.40,253.72 288.55,253.01 288.69,252.98 288.84,253.52 288.99,252.95 289.14,252.66 289.29,252.88 289.44,253.60 289.59,254.20 289.74,253.14 289.88,252.89 290.03,253.13 290.18,253.22 290.33,253.36 290.48,252.55 290.63,252.98 290.78,252.88 290.93,253.49 291.08,253.29 291.22,252.84 291.37,253.49 291.52,253.63 291.67,253.10 291.82,252.22 291.97,252.79 292.12,252.06 292.27,252.96 292.41,253.06 292.56,253.66 292.71,253.20 292.86,252.05 293.01,252.67 293.16,252.44 293.31,252.45 293.46,252.85 293.60,252.95 293.75,252.76 293.90,252.44 294.05,252.56 294.20,252.53 294.35,252.72 294.50,253.24 294.65,252.95 294.79,253.33 294.94,252.22 295.09,253.97 295.24,252.90 295.39,251.42 295.54,252.96 295.69,253.41 295.84,252.77 295.98,252.02 296.13,252.84 296.28,252.39 296.43,252.68 296.58,252.94 296.73,250.94 296.88,252.68 297.03,253.02 297.18,252.99 297.32,252.49 297.47,252.47 297.62,252.26 297.77,252.62 297.92,253.50 298.07,252.38 298.22,252.86 298.37,252.84 298.51,253.51 298.66,252.99 298.81,253.08 298.96,252.68 299.11,253.48 299.26,252.62 299.41,252.58 299.56,253.28 299.70,252.99 299.85,253.12 300.00,252.12 300.15,254.06 300.30,252.82 300.45,253.56 300.60,252.86 300.75,252.13 300.89,252.96 301.04,252.52 301.19,253.08 301.34,251.49 301.49,252.07 301.64,251.95 301.79,253.34 301.94,253.20 302.09,251.96 302.23,252.68 302.38,252.71 302.53,252.38 302.68,253.27 302.83,252.12 302.98,252.54 303.13,252.28 303.28,252.93 303.42,252.25 303.57,252.94 303.72,251.99 303.87,251.89 304.02,252.01 304.17,252.23 304.32,252.16 304.47,254.05 304.61,252.04 304.76,252.67 304.91,252.45 305.06,252.67 305.21,253.29 305.36,252.80 305.51,252.12 305.66,251.69 305.80,252.84 305.95,253.00 306.10,251.66 306.25,252.98 306.40,251.30 306.55,252.44 306.70,252.97 306.85,251.91 306.99,251.50 307.14,253.27 307.29,251.57 307.44,252.61 307.59,251.61 307.74,252.66 307.89,253.34 308.04,252.16 308.19,251.91 308.33,251.25 308.48,251.46 308.63,252.04 308.78,252.56 308.93,252.72 309.08,252.59 309.23,252.89 309.38,252.57 309.52,253.86 309.67,252.31 309.82,252.42 309.97,250.95 310.12,251.97 310.27,252.67 310.42,252.08 310.57,253.09 310.71,252.73 310.86,253.45 311.01,251.57 311.16,252.05 311.31,253.05 311.46,252.41 311.61,251.84 311.76,252.09 311.90,252.15 312.05,252.85 312.20,252.73 312.35,252.31 312.50,251.84" stroke="#f5a76a" stroke-width="1.5"/>
<path d="M208.50,249.64 208.65,249.82 208.80,248.37 208.95,249.69 209.10,248.41 209.24,248.94 209.39,248.53 209.54,247.98 209.69,248.65 209.84,248.59 209.99,249.67 210.14,249.52 210.29,248.66 210.43,248.09 210.58,248.18 210.73,247.59 210.88,248.87 211.03,248.93 211.18,248.42 211.33,249.04 211.48,249.09 211.62,249.72 211.77,248.41 211.92,249.73 212.07,248.71 212.22,249.94 212.37,248.33 212.52,249.69 212.67,248.49 212.81,250.04 212.96,249.30 213.11,248.27 213.26,249.53 213.41,248.97 213.56,249.31 213.71,250.48 213.86,248.81 214.01,248.72 214.15,249.70 214.30,248.63 214.45,249.50 214.60,249.63 214.75,248.98 214.90,249.41 215.05,247.51 215.20,249.96 215.34,248.50 215.49,248.33 215.64,250.22 215.79,250.06 215.94,248.59 216.09,249.26 216.24,248.70 216.39,248.21 216.53,249.18 216.68,249.61 216.83,250.67 216.98,248.80 217.13,249.51 217.28,248.72 217.43,248.77 217.58,249.79 217.72,247.81 217.87,248.21 218.02,248.36 218.17,249.65 218.32,249.15 218.47,249.23 218.62,249.15 218.77,249.59 218.91,248.59 219.06,248.72 219.21,248.63 219.36,249.18 219.51,248.03 219.66,248.73 219.81,250.59 219.96,249.25 220.11,248.87 220.25,248.21 220.40,249.02 220.55,248.98 220.70,249.24 220.85,248.39 221.00,249.09 221.15,249.19 221.30,249.27 221.44,248.44 221.59,249.13 221.74,249.85 221.89,248.38 222.04,249.22 222.19,248.54 222.34,248.52 222.49,247.99 222.63,248.08 222.78,249.11 222.93,248.84 223.08,249.56 223.23,247.66 223.38,248.44 223.53,247.83 223.68,248.91 223.82,250.01 223.97,247.72 224.12,248.63 224.27,248.60 224.42,248.64 224.57,248.26 224.72,248.33 224.87,249.68 225.02,247.96 225.16,248.99 225.31,248.94 225.46,247.53 225.61,248.04 225.76,248.84 225.91,249.80 226.06,248.50 226.21,248.26 226.35,248.65 226.50,249.38 226.65,249.08 226.80,249.37 226.95,248.43 227.10,248.04 227.25,247.90 227.40,249.01 227.54,248.39 227.69,248.17 227.84,248.85 227.99,248.61 228.14,247.15 228.29,248.37 228.44,247.93 228.59,248.76 228.73,248.45 228.88,249.56 229.03,248.47 229.18,247.69 229.33,247.10 229.48,247.67 229.63,247.98 229.78,248.38 229.92,248.79 230.07,248.50 230.22,248.00 230.37,248.88 230.52,247.77 230.67,248.99 230.82,249.48 230.97,248.99 231.12,249.39 231.26,249.20 231.41,247.59 231.56,248.43 231.71,248.15 231.86,247.54 232.01,247.47 232.16,248.58 232.31,247.40 232.45,247.99 232.60,248.22 232.75,247.93 232.90,249.11 233.05,248.70 233.20,248.25 233.35,247.78 233.50,248.40 233.64,248.23 233.79,247.52 233.94,247.22 234.09,247.62 234.24,247.29 234.39,248.34 234.54,248.27 234.69,247.86 234.83,248.24 234.98,248.36 235.13,246.97 235.28,248.14 235.43,248.61 235.58,247.67 235.73,246.80 235.88,247.90 236.03,247.15 236.17,248.20 236.32,248.22 236.47,248.33 236.62,247.97 236.77,246.69 236.92,248.59 237.07,246.79 237.22,248.46 237.36,247.95 237.51,247.25 237.66,247.37 237.81,247.57 237.96,248.79 238.11,247.49 238.26,248.35 238.41,246.04 238.55,247.80 238.70,247.53 238.85,248.36 239.00,247.92 239.15,248.42 239.30,246.95 239.45,247.72 239.60,247.17 239.74,247.95 239.89,247.81 240.04,246.65 240.19,248.07 240.34,248.58 240.49,247.15 240.64,248.12 240.79,247.65 240.93,246.76 241.08,247.84 241.23,246.74 241.38,247.71 241.53,246.30 241.68,246.38 241.83,247.50 241.98,247.31 242.13,247.68 242.27,247.00 242.42,246.37 242.57,248.00 242.72,246.46 242.87,247.86 243.02,247.54 243.17,248.10 243.32,245.59 243.46,246.87 243.61,246.72 243.76,247.28 243.91,246.14 244.06,248.13 244.21,246.74 244.36,245.31 244.51,246.93 244.65,246.65 244.80,246.19 244.95,247.11 245.10,246.54 245.25,245.91 245.40,246.36 245.55,246.21 245.70,246.63 245.84,246.17 245.99,246.30 246.14,245.37 246.29,245.79 246.44,246.37 246.59,247.73 246.74,245.67 246.89,245.61 247.04,246.63 247.18,247.27 247.33,246.68 247.48,245.32 247.63,246.54 247.78,246.11 247.93,245.62 248.08,244.93 248.23,245.68 248.37,245.68 248.52,245.91 248.67,244.47 248.82,244.77 248.97,245.46 249.12,246.23 249.27,245.79 249.42,244.85 249.56,245.62 249.71,244.53 249.86,244.81 250.01,244.78 250.16,244.49 250.31,244.52 250.46,245.32 250.61,244.91 250.75,243.14 250.90,245.33 251.05,244.78 251.20,243.72 251.35,244.43 251.50,244.76 251.65,245.01 251.80,243.74 251.94,243.34 252.09,243.01 252.24,243.78 252.39,243.06 252.54,244.29 252.69,243.43 252.84,243.87 252.99,243.23 253.14,242.76 253.28,242.45 253.43,243.65 253.58,242.10 253.73,243.10 253.88,243.33 254.03,242.67 254.18,243.37 254.33,242.31 254.47,241.99 254.62,242.17 254.77,241.57 254.92,241.97 255.07,241.62 255.22,242.40 255.37,241.30 255.52,241.71 255.66,241.29 255.81,240.90 255.96,240.55 256.11,241.55 256.26,241.31 256.41,240.32 256.56,239.63 256.71,239.51 256.85,238.97 257.00,238.49 257.15,238.79 257.30,238.90 257.45,239.31 257.60,239.02 257.75,238.47 257.90,237.74 258.05,237.51 258.19,237.38 258.34,237.20 258.49,236.41 258.64,236.37 258.79,236.00 258.94,235.68 259.09,236.10 259.24,236.41 259.38,235.44 259.53,235.49 259.68,235.89 259.83,236.02 259.98,234.30 260.13,236.24 260.28,235.89 260.43,235.58 260.57,257.56 260.72,257.29 260.87,257.30 261.02,259.13 261.17,260.83 261.32,262.63 261.47,263.12 261.62,260.78 261.76,259.96 261.91,258.83 262.06,257.40 262.21,255.95 262.36,255.55 262.51,255.26 262.66,256.91 262.81,254.79 262.95,253.99 263.10,254.57 263.25,255.57 263.40,255.85 263.55,255.07 263.70,255.83 263.85,254.68 264.00,255.42 264.15,254.43 264.29,254.12 264.44,256.24 264.59,254.71 264.74,255.29 264.89,255.70 265.04,255.15 265.19,254.86 265.34,254.02 265.48,255.61 265.63,253.93 265.78,253.27 265.93,254.14 266.08,254.14 266.23,254.46 266.38,255.16 266.53,254.04 266.67,254.10 266.82,253.85 266.97,252.64 267.12,253.79 267.27,253.95 267.42,253.19 267.57,255.02 267.72,254.86 267.86,254.34 268.01,254.49 268.16,253.61 268.31,254.22 268.46,252.89 268.61,253.00 268.76,253.45 268.91,254.17 269.06,253.50 269.20,253.36 269.35,254.53 269.50,253.60 269.65,253.35 269.80,253.64 269.95,252.76 270.10,252.96 270.25,254.25 270.39,253.62 270.54,254.21 270.69,253.29 270.84,254.19 270.99,253.03 271.14,253.35 271.29,252.96 271.44,253.66 271.58,254.48 271.73,252.40 271.88,253.62 272.03,252.62 272.18,253.20 272.33,253.03 272.48,252.28 272.63,253.21 272.77,252.52 272.92,254.34 273.07,252.83 273.22,253.52 273.37,253.44 273.52,253.33 273.67,253.10 273.82,252.25 273.96,254.48 274.11,253.25 274.26,253.72 274.41,252.51 274.56,253.51 274.71,252.94 274.86,253.47 275.01,252.78 275.16,252.54 275.30,253.43 275.45,253.13 275.60,254.06 275.75,252.95 275.90,252.58 276.05,253.47 276.20,252.39 276.35,254.42 276.49,254.26 276.64,253.96 276.79,253.37 276.94,253.04 277.09,253.09 277.24,253.07 277.39,252.56 277.54,253.31 277.68,253.81 277.83,253.78 277.98,251.63 278.13,254.47 278.28,253.07 278.43,252.02 278.58,252.63 278.73,253.46 278.87,252.92 279.02,252.36 279.17,252.13 279.32,253.47 279.47,252.40 279.62,252.72 279.77,252.16 279.92,251.97 280.07,253.07 280.21,253.77 280.36,252.58 280.51,251.69 280.66,252.38 280.81,252.67 280.96,251.27 281.11,253.46 281.26,252.21 281.40,253.15 281.55,252.74 281.70,252.71 281.85,251.79 282.00,253.35 282.15,253.09 282.30,253.75 282.45,252.42 282.59,253.02 282.74,252.45 282.89,253.39 283.04,252.93 283.19,252.03 283.34,252.80 283.49,252.28 283.64,252.34 283.78,252.90 283.93,253.66 284.08,252.03 284.23,252.54 284.38,252.02 284.53,253.92 284.68,253.69 284.83,253.99 284.97,253.18 285.12,251.95 285.27,252.25 285.42,252.62 285.57,252.51 285.72,252.11 285.87,252.78 286.02,252.33 286.17,252.49 286.31,253.96 286.46,252.81 286.61,251.69 286.76,252.81 286.91,252.64 287.06,252.93 287.21,252.85 287.36,251.81 287.50,252.70 287.65,253.17 287.80,254.50 287.95,252.88 288.10,253.76 288.25,253.67 288.40,251.99 288.55,252.04 288.69,253.71 288.84,251.94 288.99,252.18 289.14,252.97 289.29,252.00 289.44,253.50 289.59,253.23 289.74,253.37 289.88,253.16 290.03,251.89 290.18,253.29 290.33,253.17 290.48,253.04 290.63,252.30 290.78,252.64 290.93,251.87 291.08,252.87 291.22,253.23 291.37,252.73 291.52,252.38 291.67,253.00 291.82,252.22 291.97,251.24 292.12,252.76 292.27,252.36 292.41,251.52 292.56,252.80 292.71,252.92 292.86,253.07 293.01,252.12 293.16,252.04 293.31,252.46 293.46,252.34 293.60,251.55 293.75,251.80 293.90,253.25 294.05,252.36 294.20,252.28 294.35,251.89 294.50,252.48 294.65,252.75 294.79,252.63 294.94,253.47 295.09,252.35 295.24,252.71 295.39,252.03 295.54,252.98 295.69,252.60 295.84,252.94 295.98,252.99 296.13,251.86 296.28,252.60 296.43,252.02 296.58,253.02 296.73,252.24 296.88,253.38 297.03,252.60 297.18,252.61 297.32,251.92 297.47,252.17 297.62,252.40 297.77,251.75 297.92,252.16 298.07,251.93 298.22,251.78 298.37,252.31 298.51,252.46 298.66,252.06 298.81,252.53 298.96,252.01 299.11,251.55 299.26,251.71 299.41,252.50 299.56,253.07 299.70,252.28 299.85,252.32 300.00,251.54 300.15,252.48 300.30,252.37 300.45,251.77 300.60,252.54 300.75,252.33 300.89,251.13 301.04,251.27 301.19,251.82 301.34,252.05 301.49,252.83 301.64,251.86 301.79,252.17 301.94,252.07 302.09,252.54 302.23,252.21 302.38,252.32 302.53,252.00 302.68,251.29 302.83,251.96 302.98,253.25 303.13,252.81 303.28,253.20 303.42,252.69 303.57,251.83 303.72,251.92 303.87,252.56 304.02,252.01 304.17,252.65 304.32,253.07 304.47,253.06 304.61,252.71 304.76,251.26 304.91,253.02 305.06,251.37 305.21,251.31 305.36,252.27 305.51,252.18 305.66,252.54 305.80,252.16 305.95,251.73 306.10,252.14 306.25,251.51 306.40,251.39 306.55,251.92 306.70,251.93 306.85,252.17 306.99,251.91 307.14,252.84 307.29,251.87 307.44,252.00 307.59,252.67 307.74,250.75 307.89,252.74 308.04,252.67 308.19,251.94 308.33,253.35 308.48,252.62 308.63,253.08 308.78,252.73 308.93,252.19 309.08,251.90 309.23,251.40 309.38,251.59 309.52,251.35 309.67,251.72 309.82,252.40 309.97,251.38 310.12,252.40 310.27,252.48 310.42,251.12 310.57,251.59 310.71,251.95 310.86,251.61 311.01,251.52 311.16,252.95 311.31,252.14 311.46,252.83 311.61,252.00 311.76,252.50 311.90,251.21 312.05,251.74 312.20,252.59 312.35,252.08 312.50,252.84" stroke="#ef6c5a" stroke-width="1.9"/>
</g>
<text x="228.5" y="200.2" font-size="8.7" text-anchor="middle" font-weight="normal" fill="#1e1e1e" >Thermal</text>
<text x="228.5" y="210.6" font-size="8.7" text-anchor="middle" font-weight="normal" fill="#1e1e1e" >oxidation</text>
<text x="228.5" y="221" font-size="8.7" text-anchor="middle" font-weight="normal" fill="#1e1e1e" >time</text>
<line x1="265.9" y1="196.4" x2="278" y2="196.4" stroke="#5a5ac8" stroke-width="1"/>
<text x="281.3" y="198.5" font-size="8.6" text-anchor="start" font-weight="normal" fill="#1e1e1e" >30 min</text>
<line x1="265.9" y1="207.2" x2="278" y2="207.2" stroke="#86cde6" stroke-width="1"/>
<text x="281.3" y="209.29999999999998" font-size="8.6" text-anchor="start" font-weight="normal" fill="#1e1e1e" >60 min</text>
<line x1="265.9" y1="217.3" x2="278" y2="217.3" stroke="#f6b07a" stroke-width="1"/>
<text x="281.3" y="219.4" font-size="8.6" text-anchor="start" font-weight="normal" fill="#1e1e1e" >90 min</text>
<line x1="265.9" y1="227.3" x2="278" y2="227.3" stroke="#f07a6a" stroke-width="1"/>
<text x="281.3" y="229.4" font-size="8.6" text-anchor="start" font-weight="normal" fill="#1e1e1e" >120 min</text>
<defs>
<filter id="sem1" x="0" y="0" width="1" height="1"><feTurbulence type="fractalNoise" baseFrequency="0.18" numOctaves="3" seed="3"/>
<feColorMatrix type="matrix" values="0 0 0 0 0  0 0 0 0 0  0 0 0 0 0  1.6 0 0 0 -0.35"/>
<feComposite in2="SourceGraphic" operator="in"/></filter>
</defs>
<filter id="s1" x="351" y="185.8" width="42.8" height="40.8" filterUnits="userSpaceOnUse" primitiveUnits="userSpaceOnUse" color-interpolation-filters="sRGB">
<feTurbulence type="fractalNoise" baseFrequency="0.07" numOctaves="2" seed="11" result="n1"/>
<feTurbulence type="fractalNoise" baseFrequency="0.45" numOctaves="2" seed="28" result="n2"/>
<feComposite in="n1" in2="n2" operator="arithmetic" k1="0" k2="0.6" k3="0.4" k4="0" result="n"/>
<feComponentTransfer in="n" result="g"><feFuncR type="linear" slope="2.2" intercept="-0.68"/></feComponentTransfer>
<feColorMatrix in="g" type="matrix" values="1 0 0 0 0  1 0 0 0 0  1 0 0 0 0  0 0 0 0 1"/>
</filter>
<rect x="351" y="185.8" width="42.8" height="40.8" fill="#888" filter="url(#s1)"/>
<filter id="s2" x="351" y="229.8" width="42.8" height="40.8" filterUnits="userSpaceOnUse" primitiveUnits="userSpaceOnUse" color-interpolation-filters="sRGB">
<feTurbulence type="fractalNoise" baseFrequency="0.1" numOctaves="2" seed="5" result="n1"/>
<feTurbulence type="fractalNoise" baseFrequency="0.26" numOctaves="2" seed="22" result="n2"/>
<feComposite in="n1" in2="n2" operator="arithmetic" k1="0" k2="0.3" k3="0.7" k4="0" result="n"/>
<feComponentTransfer in="n" result="g"><feFuncR type="linear" slope="3.0" intercept="-0.82"/></feComponentTransfer>
<feColorMatrix in="g" type="matrix" values="1 0 0 0 0  1 0 0 0 0  1 0 0 0 0  0 0 0 0 1"/>
</filter>
<rect x="351" y="229.8" width="42.8" height="40.8" fill="#888" filter="url(#s2)"/>
<filter id="s3" x="351" y="273.8" width="42.8" height="41.5" filterUnits="userSpaceOnUse" primitiveUnits="userSpaceOnUse" color-interpolation-filters="sRGB">
<feTurbulence type="fractalNoise" baseFrequency="0.15" numOctaves="2" seed="9" result="n1"/>
<feTurbulence type="fractalNoise" baseFrequency="0.65" numOctaves="2" seed="26" result="n2"/>
<feComposite in="n1" in2="n2" operator="arithmetic" k1="0" k2="0.25" k3="0.75" k4="0" result="n"/>
<feComponentTransfer in="n" result="g"><feFuncR type="linear" slope="2.3" intercept="-0.55"/></feComponentTransfer>
<feColorMatrix in="g" type="matrix" values="1 0 0 0 0  1 0 0 0 0  1 0 0 0 0  0 0 0 0 1"/>
</filter>
<rect x="351" y="273.8" width="42.8" height="41.5" fill="#888" filter="url(#s3)"/>
<rect x="352.5" y="222.5" width="10.5" height="1.6" fill="#fff"/>
<rect x="352.5" y="266.5" width="10.5" height="1.4" fill="#fff"/>
<rect x="352.5" y="311.5" width="10.5" height="1.4" fill="#fff"/>
<text x="322.6" y="210.2" font-size="8.9" text-anchor="start" font-weight="normal" fill="#1e1e1e" >90 nm</text>
<text x="322.6" y="254.8" font-size="8.9" text-anchor="start" font-weight="normal" fill="#1e1e1e" >3 μm</text>
<text x="322.6" y="299.3" font-size="8.9" text-anchor="start" font-weight="normal" fill="#1e1e1e" >15 μm</text>
<path d="M432.5,186.5 H538.2 V311.5 H432.5 Z" fill="none" stroke="#3c3c3c" stroke-width="1"/><line x1="432.5" y1="311.5" x2="432.5" y2="313.5" stroke="#3c3c3c" stroke-width="1"/><line x1="485.4" y1="311.5" x2="485.4" y2="313.5" stroke="#3c3c3c" stroke-width="1"/><line x1="538.3" y1="311.5" x2="538.3" y2="313.5" stroke="#3c3c3c" stroke-width="1"/><line x1="459" y1="311.5" x2="459" y2="312.7" stroke="#3c3c3c" stroke-width="1"/><line x1="511.9" y1="311.5" x2="511.9" y2="312.7" stroke="#3c3c3c" stroke-width="1"/><line x1="430.5" y1="192.2" x2="432.5" y2="192.2" stroke="#3c3c3c" stroke-width="1"/><line x1="430.5" y1="248.85" x2="432.5" y2="248.85" stroke="#3c3c3c" stroke-width="1"/><line x1="430.5" y1="305.5" x2="432.5" y2="305.5" stroke="#3c3c3c" stroke-width="1"/><line x1="431.3" y1="220.5" x2="432.5" y2="220.5" stroke="#3c3c3c" stroke-width="1"/><line x1="431.3" y1="277.2" x2="432.5" y2="277.2" stroke="#3c3c3c" stroke-width="1"/>
<text x="429.5" y="195.3" font-size="9.2" text-anchor="end" font-weight="normal" fill="#1e1e1e" >1.0</text>
<text x="429.5" y="252" font-size="9.2" text-anchor="end" font-weight="normal" fill="#1e1e1e" >0.5</text>
<text x="429.5" y="308.6" font-size="9.2" text-anchor="end" font-weight="normal" fill="#1e1e1e" >0.0</text>
<text x="432.5" y="322.8" font-size="9.2" text-anchor="middle" font-weight="normal" fill="#1e1e1e" >-100</text>
<text x="485.4" y="322.8" font-size="9.2" text-anchor="middle" font-weight="normal" fill="#1e1e1e" >0</text>
<text x="538.3" y="322.8" font-size="9.2" text-anchor="middle" font-weight="normal" fill="#1e1e1e" >100</text>
<text x="485.5" y="334.7" font-size="9.6" text-anchor="middle" font-weight="normal" fill="#1e1e1e" >Magnetic Field (mT)</text>
<text x="0" y="0" font-size="9.45" text-anchor="middle" fill="#1e1e1e" transform="translate(408.2,249) rotate(-90)">Normalized MR</text>
<clipPath id="ci"><rect x="432.5" y="186.5" width="105.8" height="124.5"/></clipPath>
<g clip-path="url(#ci)" fill="none">
<path d="M432.40,305.50 432.67,305.48 432.93,305.41 433.20,305.29 433.46,305.14 433.73,304.95 433.99,304.73 434.26,304.48 434.53,304.21 434.79,303.91 435.06,303.60 435.32,303.27 435.59,302.94 435.85,302.60 436.12,302.26 436.38,301.92 436.65,301.59 436.92,301.27 437.18,300.97 437.45,300.67 437.71,300.35 437.98,300.04 438.24,299.72 438.51,299.39 438.78,299.06 439.04,298.72 439.31,298.38 439.57,298.03 439.84,297.68 440.10,297.32 440.37,296.96 440.64,296.59 440.90,296.22 441.17,295.84 441.43,295.46 441.70,295.08 441.96,294.69 442.23,294.29 442.50,293.90 442.76,293.50 443.03,293.09 443.29,292.68 443.56,292.27 443.82,291.85 444.09,291.43 444.35,291.01 444.62,290.58 444.89,290.15 445.15,289.72 445.42,289.29 445.68,288.85 445.95,288.41 446.21,287.96 446.48,287.52 446.75,287.07 447.01,286.62 447.28,286.17 447.54,285.71 447.81,285.25 448.07,284.79 448.34,284.33 448.61,283.87 448.87,283.41 449.14,282.94 449.40,282.48 449.67,282.01 449.93,281.54 450.20,281.07 450.47,280.60 450.73,280.12 451.00,279.65 451.26,279.18 451.53,278.70 451.79,278.23 452.06,277.75 452.32,277.28 452.59,276.80 452.86,276.32 453.12,275.84 453.39,275.35 453.65,274.86 453.92,274.37 454.18,273.87 454.45,273.37 454.72,272.87 454.98,272.36 455.25,271.85 455.51,271.34 455.78,270.82 456.04,270.30 456.31,269.78 456.58,269.25 456.84,268.72 457.11,268.19 457.37,267.65 457.64,267.11 457.90,266.57 458.17,266.02 458.44,265.47 458.70,264.92 458.97,264.36 459.23,263.80 459.50,263.23 459.76,262.66 460.03,262.09 460.29,261.52 460.56,260.94 460.83,260.35 461.09,259.76 461.36,259.17 461.62,258.58 461.89,257.98 462.15,257.38 462.42,256.77 462.69,256.16 462.95,255.54 463.22,254.93 463.48,254.30 463.75,253.68 464.01,253.04 464.28,252.40 464.55,251.75 464.81,251.09 465.08,250.42 465.34,249.74 465.61,249.06 465.87,248.36 466.14,247.67 466.41,246.96 466.67,246.25 466.94,245.53 467.20,244.81 467.47,244.08 467.73,243.35 468.00,242.61 468.26,241.87 468.53,241.12 468.80,240.37 469.06,239.62 469.33,238.86 469.59,238.10 469.86,237.35 470.12,236.58 470.39,235.82 470.66,235.06 470.92,234.29 471.19,233.53 471.45,232.77 471.72,232.00 471.98,231.24 472.25,230.48 472.52,229.72 472.78,228.97 473.05,228.22 473.31,227.48 473.58,226.74 473.84,226.00 474.11,225.26 474.37,224.51 474.64,223.76 474.91,223.01 475.17,222.24 475.44,221.47 475.70,220.68 475.97,219.88 476.23,219.06 476.50,218.22 476.77,217.36 477.03,216.48 477.30,215.57 477.56,214.64 477.83,213.66 478.09,212.65 478.36,211.60 478.63,210.51 478.89,209.39 479.16,208.24 479.42,207.07 479.69,205.88 479.95,204.67 480.22,203.44 480.49,202.19 480.75,200.90 481.02,199.58 481.28,198.22 481.55,196.84 481.81,195.42 482.08,193.98 482.34,192.51 482.61,193.11 482.88,194.24 483.14,195.36 483.41,196.46 483.67,197.56 483.94,198.63 484.20,199.70 484.47,200.74 484.74,201.77 485.00,202.79 485.27,203.78 485.53,204.76 485.80,205.74 486.06,206.71 486.33,207.66 486.60,208.61 486.86,209.54 487.13,210.45 487.39,211.35 487.66,212.23 487.92,213.08 488.19,213.92 488.46,214.73 488.72,215.51 488.99,216.28 489.25,217.04 489.52,217.78 489.78,218.51 490.05,219.22 490.31,219.92 490.58,220.62 490.85,221.30 491.11,221.97 491.38,222.64 491.64,223.30 491.91,223.96 492.17,224.61 492.44,225.26 492.71,225.90 492.97,226.55 493.24,227.19 493.50,227.84 493.77,228.48 494.03,229.13 494.30,229.79 494.57,230.45 494.83,231.11 495.10,231.77 495.36,232.43 495.63,233.10 495.89,233.76 496.16,234.42 496.43,235.09 496.69,235.75 496.96,236.41 497.22,237.07 497.49,237.73 497.75,238.39 498.02,239.05 498.28,239.70 498.55,240.36 498.82,241.01 499.08,241.66 499.35,242.31 499.61,242.95 499.88,243.59 500.14,244.23 500.41,244.87 500.68,245.50 500.94,246.13 501.21,246.75 501.47,247.37 501.74,247.99 502.00,248.60 502.27,249.21 502.54,249.81 502.80,250.41 503.07,251.00 503.33,251.58 503.60,252.16 503.86,252.73 504.13,253.30 504.39,253.86 504.66,254.42 504.93,254.97 505.19,255.52 505.46,256.07 505.72,256.61 505.99,257.16 506.25,257.70 506.52,258.23 506.79,258.77 507.05,259.30 507.32,259.83 507.58,260.35 507.85,260.88 508.11,261.40 508.38,261.91 508.65,262.43 508.91,262.94 509.18,263.45 509.44,263.96 509.71,264.46 509.97,264.96 510.24,265.46 510.51,265.96 510.77,266.45 511.04,266.94 511.30,267.43 511.57,267.92 511.83,268.40 512.10,268.88 512.36,269.36 512.63,269.84 512.90,270.31 513.16,270.78 513.43,271.25 513.69,271.72 513.96,272.18 514.22,272.64 514.49,273.10 514.76,273.55 515.02,274.01 515.29,274.46 515.55,274.91 515.82,275.35 516.08,275.80 516.35,276.24 516.62,276.68 516.88,277.12 517.15,277.55 517.41,277.98 517.68,278.42 517.94,278.85 518.21,279.28 518.48,279.72 518.74,280.15 519.01,280.58 519.27,281.01 519.54,281.44 519.80,281.87 520.07,282.30 520.33,282.73 520.60,283.15 520.87,283.58 521.13,284.00 521.40,284.43 521.66,284.85 521.93,285.27 522.19,285.69 522.46,286.11 522.73,286.52 522.99,286.94 523.26,287.35 523.52,287.76 523.79,288.17 524.05,288.57 524.32,288.98 524.59,289.38 524.85,289.78 525.12,290.18 525.38,290.57 525.65,290.97 525.91,291.36 526.18,291.74 526.45,292.13 526.71,292.51 526.98,292.89 527.24,293.27 527.51,293.64 527.77,294.01 528.04,294.38 528.30,294.74 528.57,295.11 528.84,295.46 529.10,295.82 529.37,296.17 529.63,296.51 529.90,296.86 530.16,297.20 530.43,297.53 530.70,297.86 530.96,298.19 531.23,298.51 531.49,298.83 531.76,299.15 532.02,299.46 532.29,299.76 532.56,300.07 532.82,300.36 533.09,300.65 533.35,300.94 533.62,301.23 533.88,301.52 534.15,301.83 534.42,302.14 534.68,302.46 534.95,302.78 535.21,303.10 535.48,303.41 535.74,303.71 536.01,304.00 536.27,304.28 536.54,304.53 536.81,304.77 537.07,304.97 537.34,305.15 537.60,305.30 537.87,305.41 538.13,305.48 538.40,305.50" stroke="#f0605a" stroke-width="0.9"/>
<path d="M432.40,305.50 432.67,305.48 432.93,305.41 433.20,305.30 433.46,305.16 433.73,304.98 433.99,304.78 434.26,304.55 434.53,304.30 434.79,304.03 435.06,303.74 435.32,303.45 435.59,303.14 435.85,302.83 436.12,302.52 436.38,302.21 436.65,301.90 436.92,301.60 437.18,301.31 437.45,301.03 437.71,300.75 437.98,300.46 438.24,300.17 438.51,299.87 438.78,299.57 439.04,299.27 439.31,298.96 439.57,298.65 439.84,298.33 440.10,298.01 440.37,297.68 440.64,297.35 440.90,297.02 441.17,296.68 441.43,296.34 441.70,296.00 441.96,295.65 442.23,295.30 442.50,294.95 442.76,294.59 443.03,294.23 443.29,293.86 443.56,293.50 443.82,293.13 444.09,292.76 444.35,292.38 444.62,292.00 444.89,291.62 445.15,291.24 445.42,290.85 445.68,290.46 445.95,290.07 446.21,289.68 446.48,289.29 446.75,288.89 447.01,288.49 447.28,288.09 447.54,287.69 447.81,287.28 448.07,286.87 448.34,286.47 448.61,286.06 448.87,285.65 449.14,285.23 449.40,284.82 449.67,284.40 449.93,283.99 450.20,283.57 450.47,283.15 450.73,282.73 451.00,282.31 451.26,281.89 451.53,281.47 451.79,281.04 452.06,280.62 452.32,280.20 452.59,279.77 452.86,279.35 453.12,278.92 453.39,278.50 453.65,278.07 453.92,277.64 454.18,277.21 454.45,276.78 454.72,276.35 454.98,275.91 455.25,275.48 455.51,275.03 455.78,274.59 456.04,274.15 456.31,273.70 456.58,273.25 456.84,272.80 457.11,272.34 457.37,271.88 457.64,271.42 457.90,270.96 458.17,270.50 458.44,270.03 458.70,269.56 458.97,269.09 459.23,268.61 459.50,268.13 459.76,267.65 460.03,267.17 460.29,266.69 460.56,266.20 460.83,265.71 461.09,265.21 461.36,264.72 461.62,264.22 461.89,263.72 462.15,263.22 462.42,262.71 462.69,262.20 462.95,261.69 463.22,261.18 463.48,260.66 463.75,260.14 464.01,259.62 464.28,259.10 464.55,258.57 464.81,258.04 465.08,257.50 465.34,256.97 465.61,256.43 465.87,255.89 466.14,255.35 466.41,254.80 466.67,254.25 466.94,253.69 467.20,253.13 467.47,252.56 467.73,251.98 468.00,251.40 468.26,250.81 468.53,250.22 468.80,249.63 469.06,249.03 469.33,248.42 469.59,247.81 469.86,247.20 470.12,246.58 470.39,245.96 470.66,245.33 470.92,244.70 471.19,244.07 471.45,243.44 471.72,242.80 471.98,242.16 472.25,241.52 472.52,240.88 472.78,240.24 473.05,239.59 473.31,238.94 473.58,238.29 473.84,237.64 474.11,236.99 474.37,236.34 474.64,235.69 474.91,235.04 475.17,234.39 475.44,233.74 475.70,233.09 475.97,232.44 476.23,231.79 476.50,231.14 476.77,230.50 477.03,229.86 477.30,229.22 477.56,228.59 477.83,227.96 478.09,227.33 478.36,226.69 478.63,226.05 478.89,225.41 479.16,224.77 479.42,224.12 479.69,223.46 479.95,222.80 480.22,222.12 480.49,221.44 480.75,220.75 481.02,220.04 481.28,219.32 481.55,218.59 481.81,217.84 482.08,217.08 482.34,216.30 482.61,215.50 482.88,214.67 483.14,213.83 483.41,212.96 483.67,212.07 483.94,211.17 484.20,210.25 484.47,209.32 484.74,208.37 485.00,207.42 485.27,206.46 485.53,205.49 485.80,204.50 486.06,203.50 486.33,202.48 486.60,201.45 486.86,200.40 487.13,199.33 487.39,198.25 487.66,197.16 487.92,196.05 488.19,194.93 488.46,195.31 488.72,196.73 488.99,198.13 489.25,199.50 489.52,200.84 489.78,202.15 490.05,203.43 490.31,204.68 490.58,205.89 490.85,207.08 491.11,208.26 491.38,209.42 491.64,210.55 491.91,211.67 492.17,212.75 492.44,213.80 492.71,214.82 492.97,215.79 493.24,216.73 493.50,217.64 493.77,218.51 494.03,219.37 494.30,220.20 494.57,221.02 494.83,221.81 495.10,222.59 495.36,223.36 495.63,224.12 495.89,224.86 496.16,225.60 496.43,226.33 496.69,227.06 496.96,227.78 497.22,228.50 497.49,229.23 497.75,229.95 498.02,230.68 498.28,231.42 498.55,232.16 498.82,232.91 499.08,233.65 499.35,234.40 499.61,235.15 499.88,235.89 500.14,236.64 500.41,237.39 500.68,238.13 500.94,238.88 501.21,239.62 501.47,240.36 501.74,241.10 502.00,241.83 502.27,242.56 502.54,243.29 502.80,244.02 503.07,244.74 503.33,245.45 503.60,246.16 503.86,246.87 504.13,247.57 504.39,248.27 504.66,248.95 504.93,249.64 505.19,250.31 505.46,250.98 505.72,251.64 505.99,252.29 506.25,252.94 506.52,253.57 506.79,254.20 507.05,254.82 507.32,255.43 507.58,256.04 507.85,256.64 508.11,257.24 508.38,257.84 508.65,258.43 508.91,259.02 509.18,259.61 509.44,260.19 509.71,260.77 509.97,261.34 510.24,261.91 510.51,262.48 510.77,263.04 511.04,263.60 511.30,264.16 511.57,264.71 511.83,265.26 512.10,265.80 512.36,266.35 512.63,266.88 512.90,267.42 513.16,267.95 513.43,268.48 513.69,269.00 513.96,269.52 514.22,270.04 514.49,270.56 514.76,271.07 515.02,271.57 515.29,272.08 515.55,272.58 515.82,273.08 516.08,273.57 516.35,274.07 516.62,274.55 516.88,275.04 517.15,275.52 517.41,276.00 517.68,276.48 517.94,276.95 518.21,277.42 518.48,277.89 518.74,278.35 519.01,278.82 519.27,279.28 519.54,279.74 519.80,280.21 520.07,280.67 520.33,281.13 520.60,281.59 520.87,282.05 521.13,282.51 521.40,282.97 521.66,283.43 521.93,283.88 522.19,284.34 522.46,284.79 522.73,285.24 522.99,285.69 523.26,286.14 523.52,286.58 523.79,287.02 524.05,287.47 524.32,287.90 524.59,288.34 524.85,288.77 525.12,289.21 525.38,289.63 525.65,290.06 525.91,290.48 526.18,290.90 526.45,291.32 526.71,291.73 526.98,292.14 527.24,292.55 527.51,292.95 527.77,293.35 528.04,293.75 528.30,294.14 528.57,294.53 528.84,294.92 529.10,295.30 529.37,295.68 529.63,296.05 529.90,296.42 530.16,296.78 530.43,297.14 530.70,297.49 530.96,297.84 531.23,298.19 531.49,298.53 531.76,298.86 532.02,299.19 532.29,299.52 532.56,299.84 532.82,300.15 533.09,300.46 533.35,300.77 533.62,301.06 533.88,301.36 534.15,301.67 534.42,301.99 534.68,302.32 534.95,302.66 535.21,302.99 535.48,303.32 535.74,303.64 536.01,303.94 536.27,304.23 536.54,304.50 536.81,304.75 537.07,304.96 537.34,305.15 537.60,305.30 537.87,305.41 538.13,305.48 538.40,305.50" stroke="#f0605a" stroke-width="0.9"/>
<path d="M432.40,303.24 432.67,303.09 432.93,303.16 433.20,303.76 433.46,303.30 433.73,303.04 433.99,303.07 434.26,302.81 434.53,303.47 434.79,302.93 435.06,303.22 435.32,302.95 435.59,302.85 435.85,302.72 436.12,303.04 436.38,302.77 436.65,303.11 436.92,303.12 437.18,302.51 437.45,302.63 437.71,303.01 437.98,302.74 438.24,302.43 438.51,301.93 438.78,302.01 439.04,302.01 439.31,302.67 439.57,302.13 439.84,301.89 440.10,301.85 440.37,301.77 440.64,301.88 440.90,301.24 441.17,301.24 441.43,301.61 441.70,301.79 441.96,300.85 442.23,301.51 442.50,300.94 442.76,300.66 443.03,301.39 443.29,300.96 443.56,301.05 443.82,300.72 444.09,300.68 444.35,300.12 444.62,300.40 444.89,300.46 445.15,300.03 445.42,300.31 445.68,300.21 445.95,299.35 446.21,300.09 446.48,299.86 446.75,299.57 447.01,299.74 447.28,299.90 447.54,298.85 447.81,299.22 448.07,298.99 448.34,298.78 448.61,298.79 448.87,298.65 449.14,298.13 449.40,297.33 449.67,297.62 449.93,297.44 450.20,297.89 450.47,297.29 450.73,297.43 451.00,296.68 451.26,296.77 451.53,296.50 451.79,296.34 452.06,296.27 452.32,296.34 452.59,295.54 452.86,295.88 453.12,295.61 453.39,295.15 453.65,295.05 453.92,294.56 454.18,294.13 454.45,294.13 454.72,293.92 454.98,293.75 455.25,293.28 455.51,293.82 455.78,292.97 456.04,293.11 456.31,292.96 456.58,292.38 456.84,292.26 457.11,291.75 457.37,291.37 457.64,292.10 457.90,291.21 458.17,290.38 458.44,290.44 458.70,290.01 458.97,290.12 459.23,290.29 459.50,289.92 459.76,289.12 460.03,288.76 460.29,288.95 460.56,288.52 460.83,288.07 461.09,288.33 461.36,287.62 461.62,286.74 461.89,286.26 462.15,286.58 462.42,285.69 462.69,286.02 462.95,285.76 463.22,285.81 463.48,284.55 463.75,284.56 464.01,283.43 464.28,283.63 464.55,283.29 464.81,283.47 465.08,282.15 465.34,282.28 465.61,281.82 465.87,282.00 466.14,280.70 466.41,280.27 466.67,280.30 466.94,279.67 467.20,279.15 467.47,278.55 467.73,278.35 468.00,277.45 468.26,277.55 468.53,277.19 468.80,276.68 469.06,276.79 469.33,275.82 469.59,274.82 469.86,274.53 470.12,274.33 470.39,273.48 470.66,273.62 470.92,272.60 471.19,271.82 471.45,271.21 471.72,271.05 471.98,269.99 472.25,269.12 472.52,269.16 472.78,268.21 473.05,268.22 473.31,267.68 473.58,266.28 473.84,265.76 474.11,265.01 474.37,264.52 474.64,263.70 474.91,262.63 475.17,261.61 475.44,261.36 475.70,260.96 475.97,259.30 476.23,258.64 476.50,257.75 476.77,257.00 477.03,255.48 477.30,255.18 477.56,254.09 477.83,253.77 478.09,252.30 478.36,251.11 478.63,249.60 478.89,248.08 479.16,246.90 479.42,244.63 479.69,243.81 479.95,241.97 480.22,240.08 480.49,238.79 480.75,236.55 481.02,234.82 481.28,233.37 481.55,231.07 481.81,229.95 482.08,228.33 482.34,227.17 482.61,225.82 482.88,223.85 483.14,221.88 483.41,219.75 483.67,216.85 483.94,214.76 484.20,210.92 484.47,206.90 484.74,200.62 485.00,194.87 485.27,196.55 485.53,202.80 485.80,207.34 486.06,211.67 486.33,214.84 486.60,218.35 486.86,219.88 487.13,222.19 487.39,223.97 487.66,225.41 487.92,227.35 488.19,228.86 488.46,230.19 488.72,231.92 488.99,233.80 489.25,235.43 489.52,237.30 489.78,238.68 490.05,240.33 490.31,242.28 490.58,243.40 490.85,245.97 491.11,247.14 491.38,248.07 491.64,250.06 491.91,251.70 492.17,252.04 492.44,253.36 492.71,254.83 492.97,255.22 493.24,256.66 493.50,257.66 493.77,258.21 494.03,259.17 494.30,260.19 494.57,260.81 494.83,261.79 495.10,262.27 495.36,263.07 495.63,263.60 495.89,264.67 496.16,265.63 496.43,266.32 496.69,266.70 496.96,266.86 497.22,267.70 497.49,268.76 497.75,268.93 498.02,270.14 498.28,270.11 498.55,271.09 498.82,271.33 499.08,271.93 499.35,272.73 499.61,273.09 499.88,274.02 500.14,274.25 500.41,274.42 500.68,274.06 500.94,275.52 501.21,276.17 501.47,276.96 501.74,276.83 502.00,278.06 502.27,278.28 502.54,278.39 502.80,279.28 503.07,278.94 503.33,279.50 503.60,280.39 503.86,280.81 504.13,281.44 504.39,281.87 504.66,281.75 504.93,282.10 505.19,282.57 505.46,282.98 505.72,283.60 505.99,283.71 506.25,284.60 506.52,284.55 506.79,284.49 507.05,284.89 507.32,285.74 507.58,286.05 507.85,285.90 508.11,286.12 508.38,287.38 508.65,287.40 508.91,287.53 509.18,287.56 509.44,288.45 509.71,288.33 509.97,288.90 510.24,288.43 510.51,289.27 510.77,289.71 511.04,290.04 511.30,289.92 511.57,290.29 511.83,291.05 512.10,290.94 512.36,291.63 512.63,291.71 512.90,292.10 513.16,292.35 513.43,292.40 513.69,292.72 513.96,292.52 514.22,292.67 514.49,293.20 514.76,293.67 515.02,293.35 515.29,294.38 515.55,294.58 515.82,294.04 516.08,294.28 516.35,294.41 516.62,294.97 516.88,295.48 517.15,295.48 517.41,295.38 517.68,295.97 517.94,296.15 518.21,296.55 518.48,296.69 518.74,296.32 519.01,296.62 519.27,297.28 519.54,297.44 519.80,297.48 520.07,297.35 520.33,298.02 520.60,297.92 520.87,298.66 521.13,298.58 521.40,298.27 521.66,298.30 521.93,299.05 522.19,299.10 522.46,298.81 522.73,299.29 522.99,299.49 523.26,299.33 523.52,299.56 523.79,299.44 524.05,299.66 524.32,300.18 524.59,300.17 524.85,300.28 525.12,300.76 525.38,300.76 525.65,300.32 525.91,301.15 526.18,300.51 526.45,300.80 526.71,301.01 526.98,300.90 527.24,301.00 527.51,300.87 527.77,301.41 528.04,301.43 528.30,301.52 528.57,300.99 528.84,301.33 529.10,301.94 529.37,301.85 529.63,302.03 529.90,301.90 530.16,301.91 530.43,301.39 530.70,302.63 530.96,301.89 531.23,302.13 531.49,302.52 531.76,302.42 532.02,302.58 532.29,302.49 532.56,302.28 532.82,303.05 533.09,302.30 533.35,302.84 533.62,302.36 533.88,302.72 534.15,302.53 534.42,302.76 534.68,302.66 534.95,302.99 535.21,303.28 535.48,302.89 535.74,302.91 536.01,302.54 536.27,303.73 536.54,303.24 536.81,302.90 537.07,303.57 537.34,303.29 537.60,302.64 537.87,302.84 538.13,303.49 538.40,302.84" stroke="#7ccbe6" stroke-width="1.7"/>
<path d="M432.40,303.39 432.61,303.51 432.82,303.63 433.04,303.66 433.25,304.02 433.46,303.88 433.67,303.43 433.89,303.61 434.10,303.00 434.31,303.72 434.52,304.40 434.74,303.67 434.95,303.43 435.16,303.36 435.37,303.44 435.59,303.71 435.80,302.88 436.01,303.58 436.22,303.08 436.44,303.38 436.65,303.65 436.86,302.72 437.07,304.02 437.29,303.41 437.50,302.93 437.71,303.15 437.92,302.73 438.14,302.98 438.35,303.05 438.56,302.11 438.77,302.88 438.99,302.81 439.20,303.07 439.41,302.91 439.62,302.38 439.83,302.36 440.05,302.49 440.26,302.68 440.47,302.15 440.68,302.91 440.90,302.39 441.11,302.31 441.32,302.45 441.53,302.06 441.75,302.28 441.96,302.27 442.17,301.32 442.38,301.62 442.60,301.41 442.81,301.74 443.02,301.37 443.23,301.37 443.45,301.16 443.66,300.70 443.87,301.52 444.08,301.30 444.30,301.34 444.51,302.46 444.72,301.67 444.93,301.13 445.15,300.86 445.36,301.20 445.57,300.55 445.78,300.44 446.00,300.94 446.21,300.25 446.42,300.07 446.63,300.43 446.84,300.85 447.06,299.94 447.27,300.42 447.48,300.41 447.69,300.16 447.91,300.31 448.12,299.68 448.33,299.69 448.54,299.46 448.76,299.59 448.97,299.96 449.18,299.66 449.39,299.22 449.61,299.56 449.82,298.33 450.03,299.31 450.24,299.33 450.46,298.64 450.67,298.68 450.88,298.84 451.09,298.81 451.31,298.48 451.52,298.24 451.73,298.16 451.94,298.41 452.16,298.05 452.37,297.80 452.58,297.71 452.79,298.91 453.01,298.04 453.22,297.89 453.43,297.58 453.64,297.33 453.85,296.95 454.07,296.93 454.28,297.06 454.49,296.88 454.70,296.17 454.92,296.84 455.13,296.40 455.34,295.84 455.55,296.12 455.77,296.80 455.98,295.84 456.19,295.96 456.40,295.73 456.62,295.19 456.83,295.25 457.04,295.36 457.25,294.82 457.47,294.83 457.68,294.79 457.89,294.58 458.10,294.44 458.32,294.49 458.53,294.38 458.74,294.06 458.95,294.23 459.17,294.18 459.38,293.15 459.59,293.51 459.80,293.28 460.02,293.15 460.23,292.93 460.44,292.76 460.65,292.57 460.86,292.69 461.08,291.91 461.29,292.27 461.50,291.49 461.71,292.30 461.93,291.81 462.14,290.90 462.35,291.08 462.56,291.04 462.78,290.47 462.99,290.72 463.20,290.11 463.41,290.66 463.63,289.82 463.84,289.65 464.05,289.00 464.26,288.64 464.48,288.97 464.69,287.87 464.90,288.36 465.11,288.59 465.33,288.43 465.54,286.82 465.75,287.09 465.96,287.00 466.18,286.75 466.39,286.57 466.60,285.44 466.81,285.63 467.03,284.69 467.24,285.06 467.45,285.48 467.66,284.07 467.87,284.16 468.09,283.79 468.30,282.85 468.51,283.14 468.72,282.32 468.94,282.38 469.15,282.29 469.36,281.51 469.57,281.53 469.79,280.55 470.00,280.29 470.21,280.23 470.42,279.67 470.64,279.32 470.85,279.22 471.06,278.45 471.27,278.45 471.49,277.77 471.70,277.91 471.91,277.16 472.12,276.66 472.34,276.66 472.55,276.13 472.76,275.76 472.97,274.91 473.19,274.98 473.40,274.16 473.61,273.35 473.82,273.30 474.04,273.52 474.25,272.47 474.46,271.68 474.67,271.65 474.88,270.68 475.10,270.34 475.31,269.89 475.52,269.59 475.73,269.13 475.95,268.48 476.16,267.80 476.37,267.05 476.58,266.48 476.80,266.10 477.01,265.34 477.22,264.57 477.43,264.58 477.65,263.59 477.86,262.89 478.07,261.95 478.28,261.22 478.50,260.44 478.71,259.85 478.92,258.50 479.13,257.79 479.35,257.57 479.56,256.11 479.77,255.58 479.98,253.67 480.20,253.41 480.41,252.22 480.62,250.71 480.83,249.30 481.05,247.61 481.26,245.31 481.47,243.91 481.68,241.79 481.89,239.73 482.11,238.45 482.32,235.56 482.53,233.94 482.74,231.93 482.96,230.69 483.17,228.40 483.38,226.94 483.59,225.64 483.81,222.87 484.02,221.28 484.23,218.82 484.44,215.04 484.66,210.02 484.87,202.90 485.08,192.96 485.29,201.26 485.51,208.85 485.72,214.77 485.93,218.34 486.14,221.36 486.36,223.26 486.57,224.67 486.78,226.58 486.99,228.75 487.21,230.18 487.42,231.57 487.63,234.01 487.84,235.82 488.06,237.67 488.27,240.38 488.48,241.46 488.69,243.54 488.91,245.32 489.12,247.62 489.33,249.22 489.54,250.69 489.75,251.78 489.97,253.04 490.18,254.03 490.39,254.42 490.60,255.51 490.82,257.10 491.03,257.95 491.24,257.99 491.45,259.51 491.67,259.74 491.88,260.45 492.09,261.93 492.30,262.58 492.52,263.18 492.73,264.20 492.94,264.92 493.15,265.38 493.37,265.60 493.58,266.66 493.79,267.19 494.00,267.87 494.22,268.75 494.43,268.35 494.64,270.20 494.85,270.16 495.07,270.27 495.28,271.44 495.49,271.25 495.70,271.52 495.92,272.71 496.13,272.81 496.34,273.72 496.55,273.62 496.76,274.20 496.98,274.58 497.19,274.62 497.40,275.34 497.61,275.45 497.83,276.10 498.04,277.13 498.25,277.03 498.46,277.35 498.68,278.40 498.89,277.84 499.10,278.65 499.31,278.93 499.53,279.74 499.74,279.78 499.95,280.07 500.16,280.65 500.38,280.88 500.59,281.98 500.80,281.15 501.01,282.34 501.23,283.05 501.44,282.98 501.65,283.27 501.86,283.14 502.08,283.96 502.29,283.88 502.50,284.62 502.71,283.86 502.93,284.74 503.14,284.57 503.35,285.89 503.56,285.62 503.77,286.47 503.99,286.24 504.20,286.49 504.41,287.55 504.62,287.68 504.84,287.96 505.05,288.35 505.26,288.35 505.47,288.70 505.69,289.12 505.90,288.85 506.11,288.95 506.32,289.83 506.54,289.81 506.75,289.86 506.96,290.17 507.17,290.56 507.39,290.27 507.60,290.48 507.81,290.76 508.02,291.27 508.24,290.73 508.45,291.02 508.66,291.94 508.87,292.04 509.09,291.79 509.30,292.65 509.51,292.42 509.72,292.72 509.94,293.14 510.15,293.15 510.36,293.77 510.57,293.58 510.78,294.24 511.00,292.94 511.21,293.37 511.42,293.62 511.63,294.09 511.85,294.01 512.06,294.07 512.27,294.30 512.48,294.49 512.70,295.26 512.91,294.95 513.12,295.42 513.33,295.78 513.55,295.91 513.76,295.52 513.97,295.45 514.18,296.41 514.40,295.49 514.61,295.72 514.82,296.48 515.03,296.64 515.25,296.64 515.46,296.41 515.67,297.00 515.88,297.37 516.10,297.00 516.31,297.94 516.52,297.32 516.73,297.09 516.95,297.50 517.16,297.46 517.37,297.67 517.58,297.70 517.79,298.02 518.01,298.46 518.22,298.36 518.43,298.42 518.64,298.08 518.86,298.06 519.07,298.57 519.28,299.07 519.49,299.17 519.71,299.08 519.92,298.64 520.13,299.10 520.34,299.33 520.56,299.66 520.77,299.20 520.98,299.49 521.19,299.70 521.41,299.73 521.62,299.28 521.83,299.99 522.04,299.45 522.26,299.69 522.47,300.17 522.68,299.97 522.89,300.39 523.11,300.71 523.32,300.59 523.53,300.88 523.74,300.47 523.96,300.71 524.17,300.60 524.38,300.58 524.59,301.99 524.80,300.89 525.02,301.67 525.23,301.06 525.44,301.48 525.65,301.21 525.87,300.84 526.08,301.95 526.29,301.37 526.50,301.52 526.72,302.20 526.93,301.40 527.14,301.67 527.35,301.91 527.57,302.04 527.78,300.77 527.99,302.05 528.20,302.59 528.42,302.35 528.63,302.22 528.84,302.28 529.05,302.23 529.27,302.62 529.48,302.13 529.69,302.54 529.90,302.89 530.12,302.76 530.33,302.66 530.54,302.29 530.75,302.47 530.97,302.80 531.18,302.73 531.39,302.71 531.60,302.14 531.81,303.09 532.03,302.77 532.24,302.72 532.45,303.34 532.66,303.00 532.88,303.05 533.09,303.30 533.30,302.99 533.51,302.88 533.73,302.88 533.94,303.37 534.15,303.27 534.36,302.58 534.58,303.78 534.79,303.37 535.00,303.17 535.21,303.46 535.43,303.31 535.64,303.51 535.85,303.34 536.06,303.18 536.28,303.72 536.49,303.60 536.70,303.71 536.91,303.85 537.13,303.74 537.34,304.13 537.55,303.51 537.76,303.20 537.98,303.21 538.19,303.37 538.40,304.14" stroke="#3a6ea8" stroke-width="1.8"/>
</g>
<text x="453.4" y="203.5" font-size="8.8" text-anchor="middle" font-weight="normal" fill="#1e1e1e" >Particle</text>
<text x="453.4" y="213.6" font-size="8.8" text-anchor="middle" font-weight="normal" fill="#1e1e1e" >size</text>
<line x1="496.9" y1="194" x2="508.9" y2="194" stroke="#f0605a" stroke-width="1"/>
<text x="510.9" y="196.3" font-size="8.6" text-anchor="start" font-weight="normal" fill="#1e1e1e" >90 nm</text>
<line x1="496.9" y1="204.5" x2="508.9" y2="204.5" stroke="#a6dcef" stroke-width="1"/>
<text x="510.9" y="206.8" font-size="8.6" text-anchor="start" font-weight="normal" fill="#1e1e1e" >3 μm</text>
<line x1="496.9" y1="215" x2="508.9" y2="215" stroke="#3a6ea8" stroke-width="1"/>
<text x="510.9" y="217.3" font-size="8.6" text-anchor="start" font-weight="normal" fill="#1e1e1e" >15 μm</text>
<path d="M572,186.5 H677.5 V311.5 H572 Z" fill="none" stroke="#3c3c3c" stroke-width="1"/><line x1="572.5" y1="311.5" x2="572.5" y2="313.5" stroke="#3c3c3c" stroke-width="1"/><line x1="624.5" y1="311.5" x2="624.5" y2="313.5" stroke="#3c3c3c" stroke-width="1"/><line x1="677.4" y1="311.5" x2="677.4" y2="313.5" stroke="#3c3c3c" stroke-width="1"/><line x1="598.5" y1="311.5" x2="598.5" y2="312.7" stroke="#3c3c3c" stroke-width="1"/><line x1="651" y1="311.5" x2="651" y2="312.7" stroke="#3c3c3c" stroke-width="1"/><line x1="570.0" y1="197" x2="572" y2="197" stroke="#3c3c3c" stroke-width="1"/><line x1="570.0" y1="249" x2="572" y2="249" stroke="#3c3c3c" stroke-width="1"/><line x1="570.0" y1="301.1" x2="572" y2="301.1" stroke="#3c3c3c" stroke-width="1"/><line x1="570.8" y1="223" x2="572" y2="223" stroke="#3c3c3c" stroke-width="1"/><line x1="570.8" y1="275" x2="572" y2="275" stroke="#3c3c3c" stroke-width="1"/>
<text x="568.3" y="200.1" font-size="9.2" text-anchor="end" font-weight="normal" fill="#1e1e1e" >5</text>
<text x="568.3" y="252.1" font-size="9.2" text-anchor="end" font-weight="normal" fill="#1e1e1e" >0</text>
<text x="568.3" y="304.2" font-size="9.2" text-anchor="end" font-weight="normal" fill="#1e1e1e" >-5</text>
<text x="572.5" y="322.8" font-size="9.2" text-anchor="middle" font-weight="normal" fill="#1e1e1e" >-100</text>
<text x="624.5" y="322.8" font-size="9.2" text-anchor="middle" font-weight="normal" fill="#1e1e1e" >0</text>
<text x="677.4" y="322.8" font-size="9.2" text-anchor="middle" font-weight="normal" fill="#1e1e1e" >100</text>
<text x="624.8" y="334.7" font-size="9.6" text-anchor="middle" font-weight="normal" fill="#1e1e1e" >Magnetic Field (mT)</text>
<text x="0" y="0" font-size="9.45" text-anchor="middle" fill="#1e1e1e" transform="translate(551,248.6) rotate(-90)">Sensitivity (T<tspan dy="-3" font-size="6.5">-1</tspan><tspan dy="3">)</tspan></text>
<clipPath id="cj"><rect x="572.5" y="186.5" width="104.9" height="124.5"/></clipPath>
<g clip-path="url(#cj)" fill="none">
<path d="M572.00,247.62 572.15,248.78 572.30,248.43 572.45,247.44 572.60,248.96 572.75,247.96 572.90,248.25 573.05,248.47 573.20,248.84 573.35,248.16 573.50,248.62 573.65,247.83 573.80,247.74 573.95,249.09 574.10,248.63 574.25,248.53 574.40,248.97 574.55,248.94 574.70,248.31 574.85,248.46 575.00,249.21 575.15,248.62 575.30,248.07 575.45,248.96 575.61,248.81 575.76,247.50 575.91,247.64 576.06,249.16 576.21,249.02 576.36,248.12 576.51,248.93 576.66,248.44 576.81,248.54 576.96,248.01 577.11,249.61 577.26,249.44 577.41,248.92 577.56,247.75 577.71,248.36 577.86,249.16 578.01,248.01 578.16,247.90 578.31,248.39 578.46,248.43 578.61,248.02 578.76,247.62 578.91,248.16 579.06,247.96 579.21,248.26 579.36,248.43 579.51,248.70 579.66,248.09 579.81,248.37 579.96,248.34 580.11,247.72 580.26,247.95 580.41,247.74 580.56,249.01 580.71,247.90 580.86,248.49 581.01,248.60 581.16,248.61 581.31,247.54 581.46,247.73 581.61,248.53 581.76,248.74 581.91,248.14 582.06,248.38 582.21,247.27 582.36,248.89 582.52,249.08 582.67,248.25 582.82,248.11 582.97,248.04 583.12,247.71 583.27,247.02 583.42,248.27 583.57,248.37 583.72,248.99 583.87,247.94 584.02,247.62 584.17,248.19 584.32,247.44 584.47,248.03 584.62,247.25 584.77,247.86 584.92,248.58 585.07,248.35 585.22,248.81 585.37,248.91 585.52,247.86 585.67,247.54 585.82,246.97 585.97,248.01 586.12,248.10 586.27,248.54 586.42,247.45 586.57,247.75 586.72,248.25 586.87,247.58 587.02,247.64 587.17,248.90 587.32,247.53 587.47,247.84 587.62,248.10 587.77,248.11 587.92,246.97 588.07,247.08 588.22,246.92 588.37,248.46 588.52,248.19 588.67,247.37 588.82,248.46 588.97,248.20 589.12,248.76 589.27,246.84 589.42,247.25 589.58,247.55 589.73,247.67 589.88,247.99 590.03,247.97 590.18,247.43 590.33,248.12 590.48,247.10 590.63,247.98 590.78,248.17 590.93,247.03 591.08,247.77 591.23,247.40 591.38,247.89 591.53,248.84 591.68,247.37 591.83,248.35 591.98,247.07 592.13,248.43 592.28,248.58 592.43,247.44 592.58,247.37 592.73,247.52 592.88,248.20 593.03,247.09 593.18,248.31 593.33,247.77 593.48,247.93 593.63,247.71 593.78,247.05 593.93,247.81 594.08,247.18 594.23,247.10 594.38,248.34 594.53,248.04 594.68,247.62 594.83,247.71 594.98,247.23 595.13,248.38 595.28,246.99 595.43,246.96 595.58,247.42 595.73,248.04 595.88,247.30 596.03,247.57 596.18,246.98 596.33,247.31 596.48,246.87 596.64,247.45 596.79,246.46 596.94,248.40 597.09,247.71 597.24,246.91 597.39,247.93 597.54,246.75 597.69,247.75 597.84,247.05 597.99,247.55 598.14,247.29 598.29,246.95 598.44,247.08 598.59,247.20 598.74,245.86 598.89,246.96 599.04,247.45 599.19,246.44 599.34,246.48 599.49,246.25 599.64,245.93 599.79,247.33 599.94,246.27 600.09,246.21 600.24,246.78 600.39,246.63 600.54,248.29 600.69,247.01 600.84,245.75 600.99,247.59 601.14,246.92 601.29,246.46 601.44,246.29 601.59,245.71 601.74,247.45 601.89,246.49 602.04,246.04 602.19,247.14 602.34,246.45 602.49,245.42 602.64,245.69 602.79,246.06 602.94,247.67 603.09,246.35 603.24,246.05 603.39,246.38 603.55,246.23 603.70,244.55 603.85,246.24 604.00,246.60 604.15,245.93 604.30,246.19 604.45,246.15 604.60,246.00 604.75,245.52 604.90,245.76 605.05,246.47 605.20,245.88 605.35,245.52 605.50,245.97 605.65,245.09 605.80,245.24 605.95,246.12 606.10,245.40 606.25,244.49 606.40,244.66 606.55,245.46 606.70,244.92 606.85,245.69 607.00,246.04 607.15,244.95 607.30,245.06 607.45,244.87 607.60,245.10 607.75,244.87 607.90,245.25 608.05,244.68 608.20,244.44 608.35,244.85 608.50,244.33 608.65,245.62 608.80,245.05 608.95,243.82 609.10,243.60 609.25,244.32 609.40,244.44 609.55,244.97 609.70,244.06 609.85,243.77 610.00,244.87 610.15,243.74 610.30,243.70 610.45,243.65 610.61,244.38 610.76,243.44 610.91,244.41 611.06,242.77 611.21,243.39 611.36,243.98 611.51,242.58 611.66,242.59 611.81,243.43 611.96,241.85 612.11,243.42 612.26,242.63 612.41,242.07 612.56,243.76 612.71,241.95 612.86,242.39 613.01,242.25 613.16,242.68 613.31,241.82 613.46,242.45 613.61,242.24 613.76,241.84 613.91,242.11 614.06,240.51 614.21,241.87 614.36,241.43 614.51,241.04 614.66,240.72 614.81,240.15 614.96,239.97 615.11,240.38 615.26,240.24 615.41,239.84 615.56,239.24 615.71,239.11 615.86,239.54 616.01,240.14 616.16,237.73 616.31,238.13 616.46,238.26 616.61,237.99 616.76,238.19 616.91,238.19 617.06,237.58 617.21,237.25 617.36,237.18 617.52,237.32 617.67,236.43 617.82,235.65 617.97,235.89 618.12,235.28 618.27,236.03 618.42,234.69 618.57,234.27 618.72,234.46 618.87,234.31 619.02,232.78 619.17,232.97 619.32,231.84 619.47,231.83 619.62,230.79 619.77,230.77 619.92,230.84 620.07,229.53 620.22,229.06 620.37,227.93 620.52,227.85 620.67,227.14 620.82,225.78 620.97,224.87 621.12,224.29 621.27,223.32 621.42,222.75 621.57,221.67 621.72,220.65 621.87,219.88 622.02,218.98 622.17,217.80 622.32,215.42 622.47,215.39 622.62,214.17 622.77,212.80 622.92,211.10 623.07,209.34 623.22,208.37 623.37,208.81 623.52,207.62 623.67,208.61 623.82,207.64 623.97,207.70 624.12,207.18 624.27,206.91 624.42,207.59 624.58,275.31 624.73,275.64 624.88,275.44 625.03,275.00 625.18,276.10 625.33,274.99 625.48,275.03 625.63,274.69 625.78,275.20 625.93,274.97 626.08,275.24 626.23,273.41 626.38,272.56 626.53,270.19 626.68,268.18 626.83,267.75 626.98,266.59 627.13,266.32 627.28,264.17 627.43,264.49 627.58,262.91 627.73,262.57 627.88,262.47 628.03,260.83 628.18,260.79 628.33,260.18 628.48,259.54 628.63,259.32 628.78,259.08 628.93,258.23 629.08,258.30 629.23,257.70 629.38,257.74 629.53,257.85 629.68,257.13 629.83,256.75 629.98,256.21 630.13,255.35 630.28,256.60 630.43,255.43 630.58,256.43 630.73,255.61 630.88,255.14 631.03,255.86 631.18,255.47 631.33,254.26 631.48,254.13 631.64,254.08 631.79,254.29 631.94,252.61 632.09,253.68 632.24,253.91 632.39,252.46 632.54,252.90 632.69,253.30 632.84,252.37 632.99,252.81 633.14,252.45 633.29,252.57 633.44,253.13 633.59,252.00 633.74,252.33 633.89,252.86 634.04,252.65 634.19,251.68 634.34,252.29 634.49,252.00 634.64,251.62 634.79,251.82 634.94,252.62 635.09,251.43 635.24,251.21 635.39,251.19 635.54,250.74 635.69,251.34 635.84,251.07 635.99,250.60 636.14,251.53 636.29,250.42 636.44,250.38 636.59,250.83 636.74,250.23 636.89,250.70 637.04,251.56 637.19,250.47 637.34,250.85 637.49,250.77 637.64,250.87 637.79,250.20 637.94,250.59 638.09,251.21 638.24,250.56 638.39,250.40 638.55,251.12 638.70,250.94 638.85,250.88 639.00,250.97 639.15,250.45 639.30,250.07 639.45,249.59 639.60,249.92 639.75,249.99 639.90,249.90 640.05,249.78 640.20,250.64 640.35,250.06 640.50,250.23 640.65,250.45 640.80,250.60 640.95,250.60 641.10,250.46 641.25,250.94 641.40,250.01 641.55,250.27 641.70,250.18 641.85,250.04 642.00,249.82 642.15,250.49 642.30,250.22 642.45,250.99 642.60,251.29 642.75,251.13 642.90,249.30 643.05,251.04 643.20,249.83 643.35,249.29 643.50,250.28 643.65,249.18 643.80,249.05 643.95,249.51 644.10,248.75 644.25,249.65 644.40,250.34 644.55,249.68 644.70,250.17 644.85,250.60 645.00,250.57 645.15,248.69 645.30,250.17 645.45,249.89 645.61,250.21 645.76,249.78 645.91,249.97 646.06,250.04 646.21,250.45 646.36,250.54 646.51,250.19 646.66,249.64 646.81,248.70 646.96,249.22 647.11,248.81 647.26,249.50 647.41,249.79 647.56,250.42 647.71,249.72 647.86,250.83 648.01,249.86 648.16,248.85 648.31,249.52 648.46,249.09 648.61,249.87 648.76,250.38 648.91,249.91 649.06,249.86 649.21,249.02 649.36,248.61 649.51,250.01 649.66,249.81 649.81,249.69 649.96,249.79 650.11,250.25 650.26,249.55 650.41,249.40 650.56,249.38 650.71,250.20 650.86,249.63 651.01,250.47 651.16,249.08 651.31,250.08 651.46,249.69 651.61,249.77 651.76,249.84 651.91,250.08 652.06,250.44 652.21,248.62 652.36,249.38 652.52,249.37 652.67,248.41 652.82,249.55 652.97,249.20 653.12,249.48 653.27,248.86 653.42,249.22 653.57,249.31 653.72,249.60 653.87,249.32 654.02,248.85 654.17,250.53 654.32,249.52 654.47,249.66 654.62,249.60 654.77,250.46 654.92,249.05 655.07,249.87 655.22,249.54 655.37,249.68 655.52,250.29 655.67,249.64 655.82,250.37 655.97,249.90 656.12,249.57 656.27,249.40 656.42,249.37 656.57,249.46 656.72,248.27 656.87,249.16 657.02,250.02 657.17,249.70 657.32,249.72 657.47,249.46 657.62,249.68 657.77,249.81 657.92,248.50 658.07,249.33 658.22,249.53 658.37,249.48 658.52,249.46 658.67,248.62 658.82,249.09 658.97,248.75 659.12,250.96 659.27,249.16 659.42,248.78 659.58,248.30 659.73,249.31 659.88,250.22 660.03,249.01 660.18,249.63 660.33,250.25 660.48,249.63 660.63,248.76 660.78,248.68 660.93,248.93 661.08,249.85 661.23,247.99 661.38,249.90 661.53,249.33 661.68,250.04 661.83,248.60 661.98,249.05 662.13,248.82 662.28,249.23 662.43,249.31 662.58,249.19 662.73,250.26 662.88,248.75 663.03,248.79 663.18,249.47 663.33,249.27 663.48,249.11 663.63,248.44 663.78,249.03 663.93,249.23 664.08,249.52 664.23,250.03 664.38,249.56 664.53,249.21 664.68,249.38 664.83,249.20 664.98,248.85 665.13,249.01 665.28,249.09 665.43,248.89 665.58,249.14 665.73,249.25 665.88,248.99 666.03,250.13 666.18,248.57 666.33,249.90 666.48,248.79 666.64,249.21 666.79,248.64 666.94,249.20 667.09,249.71 667.24,248.66 667.39,249.12 667.54,249.15 667.69,249.17 667.84,248.69 667.99,248.78 668.14,249.08 668.29,250.01 668.44,249.41 668.59,249.14 668.74,248.26 668.89,249.00 669.04,249.24 669.19,248.57 669.34,249.25 669.49,249.20 669.64,249.11 669.79,249.97 669.94,248.69 670.09,248.96 670.24,249.33 670.39,249.78 670.54,249.07 670.69,248.45 670.84,249.51 670.99,249.73 671.14,248.96 671.29,250.00 671.44,250.33 671.59,249.40 671.74,249.53 671.89,249.31 672.04,249.45 672.19,248.99 672.34,249.28 672.49,249.47 672.64,249.40 672.79,248.83 672.94,248.66 673.09,248.69 673.24,248.79 673.39,250.87 673.55,249.68 673.70,249.32 673.85,249.04 674.00,249.99 674.15,248.41 674.30,248.99 674.45,249.47 674.60,249.06 674.75,249.33 674.90,249.54 675.05,248.88 675.20,249.38 675.35,249.88 675.50,249.47 675.65,249.20 675.80,249.70 675.95,248.48 676.10,249.70 676.25,248.22 676.40,248.67 676.55,249.62 676.70,249.06 676.85,248.52 677.00,249.23" stroke="#74c5df" stroke-width="2.0"/>
<path d="M572.00,249.82 572.15,248.19 572.30,245.84 572.45,250.18 572.60,247.63 572.75,248.30 572.90,248.46 573.05,248.79 573.20,248.70 573.35,247.00 573.50,247.55 573.65,249.54 573.80,246.34 573.95,249.91 574.10,247.45 574.25,248.05 574.40,246.78 574.55,247.83 574.70,246.95 574.85,248.29 575.00,247.04 575.15,247.82 575.30,245.57 575.45,249.12 575.61,246.75 575.76,247.66 575.91,248.01 576.06,248.94 576.21,247.67 576.36,250.06 576.51,249.93 576.66,247.32 576.81,250.15 576.96,246.41 577.11,248.54 577.26,247.88 577.41,248.10 577.56,247.66 577.71,248.53 577.86,248.64 578.01,248.33 578.16,246.86 578.31,246.75 578.46,246.57 578.61,247.70 578.76,248.40 578.91,250.25 579.06,247.34 579.21,247.09 579.36,248.64 579.51,247.12 579.66,246.51 579.81,248.00 579.96,246.79 580.11,247.73 580.26,250.27 580.41,248.69 580.56,248.61 580.71,247.43 580.86,249.16 581.01,248.63 581.16,249.28 581.31,248.12 581.46,247.98 581.61,246.84 581.76,247.06 581.91,247.84 582.06,247.74 582.21,247.90 582.36,247.89 582.52,246.09 582.67,251.13 582.82,248.24 582.97,247.62 583.12,246.59 583.27,249.37 583.42,247.56 583.57,246.91 583.72,248.54 583.87,250.36 584.02,248.42 584.17,249.46 584.32,247.14 584.47,249.01 584.62,245.72 584.77,247.76 584.92,248.94 585.07,248.56 585.22,249.28 585.37,247.42 585.52,246.04 585.67,248.17 585.82,246.74 585.97,249.06 586.12,247.49 586.27,244.99 586.42,249.62 586.57,246.32 586.72,246.38 586.87,250.19 587.02,249.63 587.17,249.05 587.32,246.61 587.47,248.35 587.62,248.01 587.77,246.91 587.92,247.64 588.07,247.50 588.22,248.17 588.37,246.36 588.52,248.73 588.67,245.66 588.82,248.16 588.97,248.73 589.12,246.92 589.27,247.15 589.42,250.18 589.58,247.42 589.73,249.38 589.88,248.72 590.03,246.69 590.18,248.74 590.33,247.21 590.48,248.12 590.63,245.22 590.78,247.75 590.93,249.08 591.08,248.99 591.23,248.73 591.38,247.43 591.53,247.58 591.68,246.36 591.83,247.35 591.98,247.39 592.13,247.13 592.28,247.69 592.43,247.15 592.58,246.53 592.73,246.52 592.88,248.17 593.03,249.68 593.18,248.47 593.33,247.10 593.48,250.55 593.63,248.02 593.78,246.86 593.93,248.11 594.08,248.79 594.23,245.19 594.38,245.64 594.53,247.68 594.68,245.69 594.83,245.71 594.98,248.73 595.13,243.95 595.28,248.46 595.43,247.60 595.58,248.63 595.73,247.15 595.88,248.88 596.03,247.23 596.18,245.85 596.33,246.92 596.48,247.51 596.64,245.23 596.79,248.26 596.94,245.92 597.09,247.49 597.24,246.83 597.39,247.04 597.54,246.90 597.69,247.11 597.84,248.01 597.99,247.72 598.14,246.45 598.29,247.11 598.44,248.41 598.59,247.82 598.74,247.79 598.89,246.98 599.04,246.67 599.19,246.76 599.34,247.67 599.49,246.81 599.64,248.52 599.79,250.39 599.94,246.84 600.09,248.81 600.24,247.91 600.39,248.21 600.54,245.90 600.69,248.17 600.84,246.30 600.99,247.23 601.14,248.14 601.29,248.54 601.44,245.97 601.59,246.04 601.74,245.53 601.89,244.19 602.04,246.11 602.19,246.07 602.34,246.55 602.49,246.24 602.64,246.78 602.79,247.43 602.94,243.80 603.09,248.59 603.24,245.91 603.39,245.65 603.55,245.98 603.70,247.34 603.85,246.35 604.00,246.65 604.15,247.39 604.30,246.07 604.45,246.49 604.60,246.63 604.75,245.06 604.90,247.20 605.05,245.29 605.20,246.56 605.35,245.23 605.50,245.64 605.65,245.39 605.80,246.87 605.95,246.57 606.10,246.63 606.25,245.31 606.40,244.55 606.55,244.09 606.70,246.01 606.85,245.24 607.00,247.31 607.15,248.02 607.30,246.28 607.45,245.98 607.60,247.04 607.75,247.27 607.90,244.33 608.05,245.94 608.20,246.98 608.35,241.94 608.50,244.56 608.65,245.11 608.80,243.81 608.95,245.54 609.10,242.56 609.25,246.39 609.40,246.03 609.55,244.51 609.70,245.22 609.85,242.44 610.00,246.13 610.15,244.97 610.30,243.69 610.45,243.21 610.61,242.58 610.76,243.32 610.91,240.92 611.06,244.18 611.21,243.28 611.36,242.35 611.51,243.72 611.66,243.59 611.81,243.71 611.96,243.84 612.11,244.35 612.26,243.53 612.41,244.66 612.56,242.15 612.71,244.50 612.86,239.83 613.01,240.17 613.16,240.79 613.31,242.31 613.46,242.65 613.61,240.27 613.76,241.43 613.91,240.83 614.06,242.28 614.21,239.91 614.36,242.08 614.51,240.80 614.66,242.93 614.81,241.43 614.96,239.83 615.11,240.84 615.26,240.66 615.41,238.94 615.56,239.82 615.71,237.99 615.86,242.34 616.01,238.42 616.16,238.28 616.31,240.61 616.46,240.08 616.61,237.14 616.76,239.31 616.91,238.52 617.06,236.73 617.21,237.61 617.36,236.33 617.52,237.71 617.67,235.96 617.82,234.67 617.97,235.29 618.12,238.09 618.27,234.20 618.42,234.58 618.57,235.40 618.72,232.15 618.87,235.65 619.02,230.73 619.17,233.40 619.32,230.20 619.47,231.74 619.62,232.84 619.77,230.54 619.92,229.71 620.07,228.88 620.22,227.64 620.37,229.45 620.52,227.07 620.67,226.09 620.82,226.63 620.97,226.71 621.12,225.94 621.27,222.99 621.42,222.06 621.57,223.17 621.72,222.84 621.87,218.61 622.02,221.01 622.17,217.74 622.32,217.74 622.47,217.65 622.62,213.96 622.77,212.92 622.92,209.37 623.07,206.71 623.22,208.04 623.37,204.69 623.52,202.69 623.67,194.23 623.82,200.70 623.97,195.19 624.12,195.04 624.27,191.81 624.42,190.62 624.58,306.49 624.73,303.95 624.88,297.27 625.03,292.30 625.18,290.54 625.33,288.46 625.48,283.74 625.63,283.05 625.78,279.67 625.93,275.27 626.08,272.04 626.23,272.77 626.38,273.04 626.53,269.35 626.68,271.85 626.83,268.77 626.98,264.96 627.13,264.95 627.28,266.70 627.43,266.23 627.58,262.34 627.73,262.76 627.88,262.78 628.03,260.92 628.18,261.58 628.33,262.73 628.48,258.84 628.63,260.19 628.78,260.20 628.93,260.20 629.08,257.85 629.23,258.80 629.38,256.69 629.53,257.48 629.68,255.50 629.83,257.04 629.98,257.10 630.13,258.48 630.28,257.16 630.43,254.67 630.58,251.55 630.73,256.70 630.88,256.23 631.03,254.34 631.18,253.98 631.33,255.25 631.48,254.15 631.64,256.09 631.79,254.31 631.94,252.68 632.09,251.63 632.24,253.74 632.39,253.73 632.54,252.73 632.69,251.80 632.84,252.46 632.99,253.89 633.14,252.41 633.29,251.56 633.44,253.55 633.59,254.23 633.74,251.85 633.89,251.95 634.04,251.12 634.19,252.13 634.34,252.97 634.49,252.64 634.64,253.30 634.79,253.13 634.94,252.59 635.09,252.43 635.24,250.38 635.39,253.23 635.54,251.71 635.69,252.33 635.84,249.69 635.99,251.16 636.14,251.90 636.29,250.38 636.44,251.26 636.59,251.89 636.74,249.34 636.89,250.32 637.04,249.02 637.19,249.69 637.34,250.12 637.49,250.88 637.64,252.36 637.79,250.09 637.94,250.85 638.09,250.06 638.24,250.88 638.39,251.69 638.55,252.05 638.70,249.90 638.85,249.14 639.00,251.07 639.15,250.12 639.30,248.94 639.45,251.66 639.60,251.02 639.75,251.97 639.90,249.09 640.05,250.20 640.20,251.07 640.35,252.53 640.50,250.68 640.65,249.19 640.80,250.78 640.95,250.92 641.10,249.57 641.25,251.88 641.40,250.26 641.55,249.57 641.70,251.26 641.85,251.30 642.00,249.94 642.15,250.36 642.30,250.51 642.45,249.94 642.60,249.91 642.75,251.31 642.90,250.98 643.05,249.58 643.20,248.73 643.35,248.42 643.50,251.14 643.65,248.72 643.80,249.12 643.95,250.08 644.10,249.43 644.25,248.99 644.40,247.79 644.55,251.30 644.70,249.23 644.85,250.14 645.00,250.21 645.15,248.52 645.30,248.92 645.45,251.18 645.61,250.26 645.76,249.62 645.91,251.64 646.06,248.81 646.21,249.96 646.36,249.65 646.51,249.43 646.66,247.60 646.81,249.78 646.96,250.26 647.11,247.65 647.26,250.42 647.41,250.44 647.56,251.50 647.71,248.43 647.86,249.43 648.01,249.17 648.16,249.54 648.31,249.90 648.46,250.70 648.61,250.69 648.76,249.18 648.91,249.55 649.06,247.68 649.21,250.63 649.36,250.29 649.51,250.94 649.66,247.97 649.81,251.19 649.96,248.70 650.11,247.87 650.26,249.82 650.41,248.74 650.56,252.26 650.71,250.10 650.86,251.67 651.01,249.40 651.16,249.59 651.31,250.55 651.46,248.43 651.61,249.15 651.76,250.23 651.91,250.21 652.06,251.39 652.21,249.79 652.36,246.94 652.52,250.43 652.67,249.03 652.82,250.22 652.97,248.55 653.12,248.99 653.27,249.82 653.42,251.73 653.57,250.15 653.72,248.03 653.87,249.81 654.02,248.73 654.17,250.09 654.32,251.80 654.47,248.97 654.62,249.09 654.77,250.20 654.92,249.94 655.07,249.12 655.22,250.20 655.37,249.04 655.52,249.71 655.67,252.37 655.82,249.63 655.97,250.19 656.12,250.48 656.27,248.95 656.42,250.04 656.57,248.77 656.72,248.08 656.87,249.25 657.02,251.34 657.17,250.33 657.32,248.29 657.47,249.73 657.62,250.41 657.77,249.52 657.92,248.78 658.07,249.08 658.22,248.60 658.37,250.41 658.52,249.73 658.67,249.70 658.82,249.41 658.97,251.97 659.12,249.67 659.27,251.03 659.42,247.66 659.58,247.45 659.73,247.29 659.88,248.37 660.03,249.96 660.18,248.17 660.33,249.60 660.48,248.60 660.63,250.47 660.78,250.07 660.93,248.77 661.08,247.15 661.23,249.37 661.38,246.55 661.53,245.93 661.68,250.92 661.83,249.36 661.98,250.50 662.13,249.50 662.28,249.98 662.43,249.40 662.58,248.13 662.73,248.16 662.88,248.99 663.03,249.31 663.18,249.16 663.33,249.15 663.48,248.60 663.63,249.29 663.78,248.68 663.93,250.91 664.08,248.32 664.23,247.13 664.38,249.06 664.53,251.03 664.68,247.62 664.83,249.69 664.98,252.97 665.13,249.55 665.28,248.53 665.43,248.80 665.58,247.74 665.73,248.51 665.88,249.12 666.03,251.71 666.18,250.64 666.33,249.04 666.48,248.43 666.64,250.53 666.79,250.02 666.94,248.68 667.09,251.62 667.24,251.66 667.39,249.54 667.54,248.94 667.69,249.84 667.84,252.08 667.99,249.22 668.14,250.89 668.29,248.44 668.44,249.37 668.59,248.91 668.74,248.45 668.89,249.89 669.04,248.21 669.19,247.70 669.34,248.74 669.49,247.59 669.64,250.01 669.79,248.10 669.94,248.90 670.09,250.45 670.24,249.32 670.39,249.88 670.54,249.91 670.69,249.11 670.84,247.91 670.99,249.61 671.14,249.06 671.29,251.03 671.44,249.08 671.59,247.79 671.74,248.21 671.89,248.62 672.04,249.86 672.19,250.41 672.34,249.32 672.49,250.86 672.64,250.73 672.79,248.04 672.94,250.34 673.09,246.98 673.24,250.97 673.39,248.67 673.55,250.65 673.70,248.98 673.85,250.48 674.00,249.14 674.15,249.39 674.30,249.75 674.45,248.56 674.60,247.32 674.75,249.92 674.90,248.10 675.05,249.08 675.20,249.22 675.35,246.47 675.50,251.87 675.65,250.03 675.80,251.42 675.95,249.57 676.10,249.47 676.25,244.47 676.40,248.75 676.55,246.96 676.70,247.57 676.85,249.72 677.00,248.58" stroke="#4f55c8" stroke-width="0.9"/>
<path d="M572.00,248.49 572.15,248.95 572.30,248.94 572.45,248.85 572.60,249.47 572.75,249.25 572.90,248.90 573.05,248.83 573.20,249.29 573.35,249.10 573.50,249.04 573.65,249.05 573.80,248.79 573.95,248.97 574.10,248.95 574.25,249.44 574.40,249.33 574.55,248.90 574.70,249.49 574.85,248.92 575.00,249.21 575.15,249.25 575.30,248.80 575.45,249.21 575.61,249.27 575.76,249.21 575.91,248.98 576.06,248.15 576.21,249.66 576.36,249.01 576.51,249.08 576.66,248.71 576.81,249.12 576.96,249.77 577.11,248.59 577.26,249.34 577.41,249.02 577.56,249.43 577.71,249.34 577.86,249.16 578.01,248.74 578.16,248.74 578.31,249.19 578.46,248.85 578.61,249.12 578.76,248.97 578.91,248.95 579.06,248.81 579.21,249.19 579.36,249.04 579.51,248.93 579.66,248.97 579.81,249.25 579.96,248.47 580.11,249.14 580.26,248.77 580.41,248.94 580.56,248.62 580.71,249.68 580.86,248.36 581.01,249.07 581.16,249.38 581.31,248.96 581.46,248.30 581.61,248.84 581.76,249.38 581.91,249.14 582.06,248.59 582.21,249.44 582.36,249.06 582.52,249.09 582.67,248.33 582.82,249.09 582.97,248.59 583.12,249.21 583.27,249.25 583.42,248.69 583.57,248.80 583.72,249.53 583.87,248.80 584.02,248.80 584.17,249.19 584.32,248.93 584.47,248.91 584.62,249.15 584.77,249.18 584.92,249.20 585.07,249.08 585.22,249.41 585.37,249.01 585.52,249.46 585.67,248.97 585.82,249.02 585.97,249.31 586.12,248.73 586.27,248.39 586.42,248.58 586.57,249.41 586.72,248.59 586.87,248.92 587.02,249.01 587.17,249.17 587.32,248.99 587.47,248.56 587.62,248.82 587.77,249.11 587.92,249.19 588.07,249.11 588.22,248.80 588.37,248.40 588.52,249.31 588.67,248.98 588.82,249.10 588.97,249.21 589.12,248.86 589.27,248.81 589.42,249.42 589.58,249.30 589.73,248.61 589.88,248.88 590.03,248.81 590.18,249.13 590.33,249.09 590.48,248.83 590.63,249.13 590.78,249.31 590.93,248.97 591.08,248.69 591.23,249.29 591.38,248.64 591.53,248.75 591.68,249.23 591.83,248.96 591.98,248.97 592.13,248.76 592.28,248.75 592.43,249.36 592.58,249.37 592.73,248.64 592.88,248.92 593.03,248.82 593.18,248.85 593.33,248.48 593.48,249.32 593.63,248.61 593.78,249.20 593.93,248.72 594.08,248.53 594.23,249.37 594.38,248.81 594.53,249.02 594.68,249.02 594.83,248.92 594.98,249.25 595.13,249.22 595.28,248.72 595.43,248.66 595.58,249.10 595.73,249.37 595.88,248.20 596.03,248.57 596.18,248.80 596.33,249.23 596.48,249.09 596.64,248.83 596.79,249.20 596.94,248.40 597.09,248.85 597.24,248.77 597.39,249.21 597.54,249.17 597.69,249.13 597.84,248.79 597.99,248.96 598.14,248.96 598.29,248.77 598.44,248.80 598.59,248.40 598.74,248.92 598.89,249.17 599.04,248.85 599.19,248.40 599.34,249.01 599.49,248.82 599.64,248.94 599.79,248.70 599.94,248.75 600.09,249.07 600.24,248.88 600.39,248.52 600.54,248.47 600.69,248.52 600.84,248.53 600.99,248.89 601.14,248.89 601.29,248.49 601.44,249.13 601.59,248.78 601.74,249.33 601.89,248.87 602.04,248.96 602.19,249.11 602.34,248.55 602.49,248.95 602.64,248.83 602.79,248.79 602.94,248.93 603.09,248.26 603.24,248.84 603.39,248.62 603.55,249.07 603.70,248.81 603.85,248.75 604.00,248.74 604.15,248.81 604.30,248.58 604.45,248.14 604.60,248.65 604.75,248.64 604.90,248.70 605.05,247.80 605.20,248.07 605.35,248.38 605.50,248.32 605.65,248.75 605.80,248.56 605.95,248.44 606.10,248.45 606.25,248.74 606.40,248.70 606.55,248.29 606.70,248.34 606.85,249.07 607.00,248.38 607.15,248.00 607.30,248.57 607.45,248.29 607.60,248.79 607.75,248.07 607.90,248.65 608.05,248.67 608.20,248.37 608.35,247.53 608.50,248.42 608.65,248.60 608.80,248.05 608.95,248.10 609.10,247.64 609.25,248.52 609.40,248.60 609.55,248.18 609.70,247.95 609.85,247.93 610.00,247.68 610.15,248.45 610.30,248.21 610.45,247.98 610.61,247.65 610.76,247.73 610.91,247.98 611.06,248.13 611.21,247.52 611.36,247.47 611.51,246.90 611.66,247.75 611.81,247.17 611.96,248.00 612.11,247.76 612.26,247.77 612.41,247.66 612.56,247.75 612.71,247.61 612.86,247.42 613.01,247.50 613.16,247.12 613.31,247.31 613.46,247.24 613.61,246.74 613.76,247.05 613.91,247.05 614.06,247.06 614.21,246.98 614.36,246.77 614.51,247.14 614.66,246.49 614.81,246.31 614.96,246.38 615.11,246.83 615.26,247.10 615.41,246.69 615.56,246.45 615.71,246.18 615.86,246.42 616.01,246.39 616.16,245.76 616.31,246.36 616.46,245.76 616.61,245.85 616.76,246.62 616.91,246.20 617.06,246.54 617.21,246.73 617.36,247.08 617.52,247.07 617.67,246.53 617.82,246.84 617.97,246.71 618.12,247.19 618.27,247.02 618.42,247.07 618.57,247.52 618.72,247.62 618.87,247.04 619.02,247.19 619.17,247.57 619.32,247.38 619.47,247.20 619.62,246.90 619.77,247.78 619.92,247.37 620.07,246.97 620.22,247.64 620.37,247.27 620.52,248.56 620.67,247.37 620.82,247.86 620.97,248.48 621.12,247.72 621.27,247.68 621.42,247.67 621.57,247.72 621.72,248.14 621.87,248.40 622.02,248.36 622.17,248.27 622.32,248.18 622.47,248.49 622.62,248.37 622.77,248.16 622.92,248.37 623.07,247.80 623.22,247.88 623.37,248.94 623.52,248.80 623.67,249.06 623.82,249.06 623.97,248.57 624.12,249.08 624.27,249.14 624.42,248.94 624.58,248.65 624.73,249.04 624.88,249.08 625.03,248.72 625.18,248.90 625.33,248.94 625.48,248.83 625.63,249.46 625.78,249.13 625.93,249.42 626.08,248.95 626.23,249.06 626.38,249.67 626.53,248.97 626.68,249.78 626.83,249.10 626.98,249.44 627.13,249.81 627.28,249.92 627.43,249.72 627.58,249.67 627.73,249.92 627.88,249.57 628.03,250.22 628.18,249.83 628.33,249.87 628.48,250.49 628.63,249.87 628.78,250.39 628.93,250.82 629.08,250.29 629.23,250.21 629.38,249.91 629.53,250.39 629.68,249.84 629.83,249.90 629.98,250.05 630.13,250.03 630.28,250.39 630.43,250.72 630.58,250.40 630.73,250.36 630.88,250.64 631.03,250.85 631.18,251.31 631.33,250.68 631.48,250.84 631.64,251.41 631.79,251.04 631.94,250.92 632.09,251.24 632.24,251.03 632.39,251.11 632.54,251.84 632.69,251.41 632.84,251.12 632.99,250.93 633.14,250.72 633.29,251.69 633.44,251.07 633.59,250.78 633.74,250.57 633.89,250.38 634.04,251.14 634.19,250.92 634.34,251.09 634.49,250.47 634.64,251.09 634.79,250.27 634.94,250.31 635.09,250.41 635.24,251.19 635.39,250.69 635.54,250.22 635.69,250.85 635.84,250.45 635.99,250.37 636.14,250.04 636.29,250.19 636.44,250.16 636.59,250.35 636.74,250.18 636.89,250.20 637.04,249.90 637.19,250.16 637.34,249.75 637.49,250.57 637.64,249.65 637.79,250.05 637.94,249.62 638.09,249.92 638.24,249.66 638.39,249.44 638.55,250.05 638.70,249.83 638.85,249.89 639.00,249.75 639.15,250.30 639.30,249.83 639.45,249.84 639.60,249.98 639.75,249.78 639.90,250.18 640.05,249.26 640.20,249.53 640.35,249.07 640.50,249.91 640.65,249.98 640.80,249.52 640.95,250.11 641.10,249.51 641.25,249.78 641.40,249.65 641.55,249.46 641.70,249.51 641.85,248.94 642.00,249.31 642.15,249.89 642.30,249.17 642.45,249.88 642.60,249.43 642.75,249.83 642.90,249.69 643.05,249.02 643.20,249.58 643.35,249.60 643.50,249.57 643.65,249.48 643.80,248.93 643.95,249.73 644.10,249.74 644.25,249.17 644.40,249.83 644.55,249.44 644.70,248.97 644.85,249.32 645.00,249.46 645.15,249.52 645.30,249.58 645.45,249.47 645.61,249.24 645.76,248.89 645.91,248.97 646.06,249.44 646.21,249.48 646.36,249.04 646.51,249.80 646.66,249.37 646.81,249.33 646.96,249.57 647.11,249.53 647.26,249.11 647.41,249.72 647.56,249.49 647.71,249.40 647.86,249.18 648.01,249.62 648.16,248.86 648.31,249.28 648.46,249.26 648.61,249.29 648.76,249.38 648.91,249.47 649.06,248.82 649.21,249.10 649.36,249.20 649.51,248.85 649.66,249.37 649.81,248.96 649.96,249.14 650.11,249.42 650.26,248.91 650.41,249.60 650.56,248.94 650.71,249.41 650.86,249.01 651.01,248.71 651.16,248.95 651.31,249.31 651.46,249.13 651.61,249.23 651.76,249.48 651.91,249.46 652.06,249.10 652.21,248.95 652.36,249.65 652.52,249.13 652.67,248.95 652.82,249.07 652.97,249.41 653.12,248.78 653.27,249.47 653.42,248.90 653.57,248.60 653.72,249.72 653.87,249.01 654.02,249.00 654.17,249.02 654.32,249.33 654.47,249.18 654.62,249.52 654.77,249.04 654.92,248.92 655.07,249.29 655.22,249.37 655.37,249.23 655.52,249.08 655.67,249.06 655.82,249.11 655.97,249.06 656.12,249.48 656.27,249.91 656.42,248.88 656.57,248.64 656.72,249.51 656.87,249.27 657.02,248.98 657.17,248.78 657.32,248.87 657.47,248.68 657.62,249.08 657.77,248.94 657.92,248.94 658.07,249.20 658.22,248.69 658.37,248.87 658.52,248.76 658.67,249.18 658.82,248.74 658.97,249.38 659.12,248.94 659.27,249.86 659.42,249.37 659.58,248.83 659.73,249.19 659.88,249.00 660.03,249.55 660.18,248.58 660.33,248.87 660.48,249.06 660.63,248.93 660.78,248.95 660.93,248.62 661.08,248.99 661.23,249.50 661.38,249.13 661.53,248.66 661.68,248.88 661.83,249.18 661.98,248.86 662.13,249.01 662.28,248.86 662.43,249.53 662.58,249.32 662.73,248.84 662.88,249.11 663.03,248.94 663.18,248.45 663.33,249.14 663.48,248.97 663.63,249.21 663.78,249.23 663.93,249.07 664.08,249.49 664.23,249.69 664.38,248.63 664.53,249.07 664.68,248.70 664.83,249.00 664.98,249.00 665.13,248.84 665.28,248.82 665.43,249.41 665.58,248.67 665.73,249.34 665.88,248.98 666.03,248.26 666.18,249.02 666.33,248.53 666.48,249.15 666.64,248.85 666.79,249.02 666.94,248.91 667.09,249.30 667.24,249.32 667.39,248.94 667.54,249.51 667.69,249.30 667.84,248.84 667.99,249.22 668.14,249.31 668.29,249.37 668.44,248.99 668.59,249.15 668.74,248.99 668.89,249.09 669.04,248.47 669.19,249.17 669.34,249.63 669.49,249.00 669.64,249.03 669.79,248.99 669.94,249.52 670.09,248.69 670.24,249.04 670.39,249.05 670.54,249.52 670.69,248.89 670.84,249.05 670.99,248.62 671.14,249.16 671.29,249.41 671.44,249.00 671.59,249.31 671.74,248.91 671.89,249.36 672.04,249.07 672.19,249.10 672.34,249.04 672.49,249.19 672.64,249.28 672.79,249.05 672.94,249.21 673.09,248.99 673.24,249.12 673.39,249.72 673.55,249.05 673.70,248.61 673.85,248.94 674.00,248.85 674.15,248.89 674.30,249.18 674.45,249.44 674.60,248.79 674.75,248.71 674.90,248.86 675.05,248.90 675.20,248.91 675.35,249.04 675.50,248.95 675.65,249.03 675.80,248.93 675.95,249.32 676.10,249.22 676.25,248.86 676.40,249.13 676.55,249.76 676.70,248.99 676.85,249.72 677.00,248.46" stroke="#f0605a" stroke-width="1"/>
<path d="M572.00,248.81 572.15,248.83 572.30,249.23 572.45,249.37 572.60,249.09 572.75,249.02 572.90,249.26 573.05,248.98 573.20,248.82 573.35,248.85 573.50,249.34 573.65,249.68 573.80,249.03 573.95,249.23 574.10,248.89 574.25,248.54 574.40,248.54 574.55,248.94 574.70,248.70 574.85,248.53 575.00,249.01 575.15,248.95 575.30,248.77 575.45,249.04 575.61,249.18 575.76,249.25 575.91,249.02 576.06,249.21 576.21,248.79 576.36,249.13 576.51,248.59 576.66,248.66 576.81,249.40 576.96,248.70 577.11,249.15 577.26,248.62 577.41,248.87 577.56,249.04 577.71,248.82 577.86,249.19 578.01,248.93 578.16,248.91 578.31,249.07 578.46,248.91 578.61,249.32 578.76,248.86 578.91,249.38 579.06,248.84 579.21,248.88 579.36,248.81 579.51,249.19 579.66,248.12 579.81,249.09 579.96,248.97 580.11,249.24 580.26,248.59 580.41,249.16 580.56,248.72 580.71,249.30 580.86,248.93 581.01,249.13 581.16,248.74 581.31,249.10 581.46,249.27 581.61,248.88 581.76,249.37 581.91,249.30 582.06,248.79 582.21,249.57 582.36,248.79 582.52,249.13 582.67,249.29 582.82,248.94 582.97,248.83 583.12,249.19 583.27,249.07 583.42,248.78 583.57,248.79 583.72,249.03 583.87,249.24 584.02,249.29 584.17,249.19 584.32,248.81 584.47,248.84 584.62,248.92 584.77,248.60 584.92,249.10 585.07,249.12 585.22,249.12 585.37,248.44 585.52,249.62 585.67,248.92 585.82,248.88 585.97,248.99 586.12,248.32 586.27,248.66 586.42,248.78 586.57,249.27 586.72,248.86 586.87,249.12 587.02,248.99 587.17,248.95 587.32,249.15 587.47,248.82 587.62,248.52 587.77,248.70 587.92,248.94 588.07,249.57 588.22,248.68 588.37,248.68 588.52,249.06 588.67,249.14 588.82,248.81 588.97,249.24 589.12,248.77 589.27,249.32 589.42,249.27 589.58,248.99 589.73,249.43 589.88,249.00 590.03,248.84 590.18,249.38 590.33,248.73 590.48,249.16 590.63,248.84 590.78,248.93 590.93,249.13 591.08,249.15 591.23,249.50 591.38,249.20 591.53,249.22 591.68,248.51 591.83,248.70 591.98,249.40 592.13,248.76 592.28,248.93 592.43,249.10 592.58,248.86 592.73,248.76 592.88,249.16 593.03,249.07 593.18,248.94 593.33,249.28 593.48,248.94 593.63,249.01 593.78,249.19 593.93,249.24 594.08,248.90 594.23,248.73 594.38,248.89 594.53,249.24 594.68,248.77 594.83,248.94 594.98,248.81 595.13,248.65 595.28,249.25 595.43,249.03 595.58,249.16 595.73,249.24 595.88,248.40 596.03,248.71 596.18,249.50 596.33,248.86 596.48,249.14 596.64,248.65 596.79,248.96 596.94,249.03 597.09,248.94 597.24,248.87 597.39,248.97 597.54,249.04 597.69,249.02 597.84,248.83 597.99,249.31 598.14,248.98 598.29,249.01 598.44,249.12 598.59,248.76 598.74,249.35 598.89,249.08 599.04,249.22 599.19,248.81 599.34,249.11 599.49,248.95 599.64,248.86 599.79,249.43 599.94,248.83 600.09,249.18 600.24,249.04 600.39,249.00 600.54,248.73 600.69,248.75 600.84,248.44 600.99,248.91 601.14,249.10 601.29,249.10 601.44,248.76 601.59,248.49 601.74,248.85 601.89,249.12 602.04,248.87 602.19,248.88 602.34,248.94 602.49,249.16 602.64,249.69 602.79,249.10 602.94,248.64 603.09,248.88 603.24,249.58 603.39,248.94 603.55,249.48 603.70,248.35 603.85,248.88 604.00,249.28 604.15,248.70 604.30,249.16 604.45,248.76 604.60,248.92 604.75,249.27 604.90,248.73 605.05,249.31 605.20,248.53 605.35,248.90 605.50,249.21 605.65,249.44 605.80,248.44 605.95,248.48 606.10,249.27 606.25,248.42 606.40,248.85 606.55,248.96 606.70,248.92 606.85,248.97 607.00,248.47 607.15,248.84 607.30,249.42 607.45,248.27 607.60,248.62 607.75,249.19 607.90,248.97 608.05,249.13 608.20,248.85 608.35,248.74 608.50,248.79 608.65,249.03 608.80,249.08 608.95,248.60 609.10,248.87 609.25,248.18 609.40,249.07 609.55,248.60 609.70,248.81 609.85,249.04 610.00,248.42 610.15,248.77 610.30,249.07 610.45,248.89 610.61,248.50 610.76,249.15 610.91,248.38 611.06,248.58 611.21,248.85 611.36,248.37 611.51,248.25 611.66,248.58 611.81,248.70 611.96,248.20 612.11,248.30 612.26,249.00 612.41,248.78 612.56,248.78 612.71,248.83 612.86,249.14 613.01,248.43 613.16,248.66 613.31,248.65 613.46,248.26 613.61,248.83 613.76,248.67 613.91,248.56 614.06,248.76 614.21,248.66 614.36,248.39 614.51,248.61 614.66,248.21 614.81,248.81 614.96,248.52 615.11,248.98 615.26,248.59 615.41,248.75 615.56,248.13 615.71,248.30 615.86,248.36 616.01,247.95 616.16,248.06 616.31,248.26 616.46,248.66 616.61,248.87 616.76,248.44 616.91,248.52 617.06,248.59 617.21,248.47 617.36,248.85 617.52,247.91 617.67,248.67 617.82,248.52 617.97,248.13 618.12,248.76 618.27,247.99 618.42,247.97 618.57,248.32 618.72,248.53 618.87,248.33 619.02,248.71 619.17,247.74 619.32,248.11 619.47,248.32 619.62,248.35 619.77,247.89 619.92,247.59 620.07,248.38 620.22,248.15 620.37,248.48 620.52,247.73 620.67,247.86 620.82,247.21 620.97,247.88 621.12,247.95 621.27,248.00 621.42,247.51 621.57,248.26 621.72,247.63 621.87,247.85 622.02,248.14 622.17,248.33 622.32,247.82 622.47,247.65 622.62,248.40 622.77,248.18 622.92,247.89 623.07,248.65 623.22,248.61 623.37,248.96 623.52,248.71 623.67,248.76 623.82,248.92 623.97,249.08 624.12,249.40 624.27,249.39 624.42,249.35 624.58,248.94 624.73,249.34 624.88,249.51 625.03,249.13 625.18,249.22 625.33,249.68 625.48,249.71 625.63,249.39 625.78,249.55 625.93,249.97 626.08,249.72 626.23,249.87 626.38,249.60 626.53,250.26 626.68,249.81 626.83,250.02 626.98,250.52 627.13,249.98 627.28,250.09 627.43,250.83 627.58,249.92 627.73,250.93 627.88,250.94 628.03,250.84 628.18,250.59 628.33,250.73 628.48,251.01 628.63,250.66 628.78,251.03 628.93,250.82 629.08,250.48 629.23,251.35 629.38,252.27 629.53,251.70 629.68,251.82 629.83,251.41 629.98,251.35 630.13,251.68 630.28,251.60 630.43,251.28 630.58,251.21 630.73,251.88 630.88,250.75 631.03,250.98 631.18,250.95 631.33,250.81 631.48,251.16 631.64,250.82 631.79,250.45 631.94,250.39 632.09,250.53 632.24,250.72 632.39,250.84 632.54,250.15 632.69,250.36 632.84,250.60 632.99,251.10 633.14,250.67 633.29,250.95 633.44,249.96 633.59,250.25 633.74,250.50 633.89,250.32 634.04,249.42 634.19,249.81 634.34,250.56 634.49,250.16 634.64,250.47 634.79,250.59 634.94,249.99 635.09,249.28 635.24,249.51 635.39,249.95 635.54,250.06 635.69,249.86 635.84,249.58 635.99,250.32 636.14,250.42 636.29,249.25 636.44,249.72 636.59,249.30 636.74,249.70 636.89,249.30 637.04,249.92 637.19,249.56 637.34,249.22 637.49,249.37 637.64,249.80 637.79,249.37 637.94,249.83 638.09,250.05 638.24,249.44 638.39,249.15 638.55,249.31 638.70,249.94 638.85,249.27 639.00,249.32 639.15,249.66 639.30,250.27 639.45,249.18 639.60,249.20 639.75,249.31 639.90,249.99 640.05,249.90 640.20,249.12 640.35,249.17 640.50,249.26 640.65,249.48 640.80,249.27 640.95,249.55 641.10,249.47 641.25,249.63 641.40,249.27 641.55,249.48 641.70,249.04 641.85,249.11 642.00,249.57 642.15,248.74 642.30,249.65 642.45,249.16 642.60,248.95 642.75,248.88 642.90,249.96 643.05,248.96 643.20,248.88 643.35,248.81 643.50,249.94 643.65,249.45 643.80,249.27 643.95,249.37 644.10,248.81 644.25,249.43 644.40,248.83 644.55,249.03 644.70,249.66 644.85,249.51 645.00,249.34 645.15,249.16 645.30,248.87 645.45,249.24 645.61,248.89 645.76,249.66 645.91,250.12 646.06,249.27 646.21,249.02 646.36,249.27 646.51,249.47 646.66,249.02 646.81,248.54 646.96,249.17 647.11,249.36 647.26,249.40 647.41,248.52 647.56,249.14 647.71,248.93 647.86,248.74 648.01,248.78 648.16,249.40 648.31,248.81 648.46,248.85 648.61,248.95 648.76,248.79 648.91,249.28 649.06,249.12 649.21,249.26 649.36,248.86 649.51,249.30 649.66,248.97 649.81,249.43 649.96,249.12 650.11,249.20 650.26,249.12 650.41,249.04 650.56,249.13 650.71,249.14 650.86,249.72 651.01,248.73 651.16,249.26 651.31,249.14 651.46,249.32 651.61,248.75 651.76,249.35 651.91,248.90 652.06,248.69 652.21,248.54 652.36,248.69 652.52,248.86 652.67,249.43 652.82,248.65 652.97,248.68 653.12,248.79 653.27,248.80 653.42,249.02 653.57,249.21 653.72,248.71 653.87,248.65 654.02,249.37 654.17,248.76 654.32,248.96 654.47,248.76 654.62,248.95 654.77,248.69 654.92,248.72 655.07,248.76 655.22,249.46 655.37,248.77 655.52,249.01 655.67,249.38 655.82,248.81 655.97,249.45 656.12,248.75 656.27,248.50 656.42,249.18 656.57,248.74 656.72,248.88 656.87,248.82 657.02,249.44 657.17,248.83 657.32,248.98 657.47,248.79 657.62,249.01 657.77,248.68 657.92,248.93 658.07,248.80 658.22,248.59 658.37,248.96 658.52,248.70 658.67,248.94 658.82,248.85 658.97,249.17 659.12,248.77 659.27,248.63 659.42,249.03 659.58,248.76 659.73,248.88 659.88,249.35 660.03,248.90 660.18,248.60 660.33,249.16 660.48,249.55 660.63,248.94 660.78,249.20 660.93,248.42 661.08,249.02 661.23,249.00 661.38,249.20 661.53,248.93 661.68,249.18 661.83,249.28 661.98,249.02 662.13,249.25 662.28,248.60 662.43,249.36 662.58,249.02 662.73,249.21 662.88,249.42 663.03,248.49 663.18,249.64 663.33,248.55 663.48,249.43 663.63,248.97 663.78,248.30 663.93,249.65 664.08,249.42 664.23,248.59 664.38,248.94 664.53,249.16 664.68,249.01 664.83,249.29 664.98,248.96 665.13,248.54 665.28,249.11 665.43,248.95 665.58,248.63 665.73,248.39 665.88,249.17 666.03,248.90 666.18,249.17 666.33,249.19 666.48,249.12 666.64,249.19 666.79,249.52 666.94,249.60 667.09,249.22 667.24,248.95 667.39,248.62 667.54,249.16 667.69,249.04 667.84,248.79 667.99,248.77 668.14,249.03 668.29,249.01 668.44,248.42 668.59,249.10 668.74,249.14 668.89,249.49 669.04,248.86 669.19,249.07 669.34,248.41 669.49,249.09 669.64,248.74 669.79,248.71 669.94,248.49 670.09,249.39 670.24,248.51 670.39,248.99 670.54,249.02 670.69,249.09 670.84,249.11 670.99,249.10 671.14,249.70 671.29,248.84 671.44,248.97 671.59,249.28 671.74,249.01 671.89,248.29 672.04,248.88 672.19,249.11 672.34,248.47 672.49,249.23 672.64,249.04 672.79,249.16 672.94,249.06 673.09,248.77 673.24,248.81 673.39,249.21 673.55,249.03 673.70,248.96 673.85,249.12 674.00,249.00 674.15,249.21 674.30,249.22 674.45,248.98 674.60,249.31 674.75,248.86 674.90,249.05 675.05,249.27 675.20,249.18 675.35,249.14 675.50,249.04 675.65,248.96 675.80,249.05 675.95,249.26 676.10,248.56 676.25,248.72 676.40,248.96 676.55,248.70 676.70,248.89 676.85,249.07 677.00,248.97" stroke="#f0605a" stroke-width="1"/>
</g>
<text x="594" y="203.5" font-size="8.8" text-anchor="middle" font-weight="normal" fill="#1e1e1e" >Particle</text>
<text x="594" y="213.6" font-size="8.8" text-anchor="middle" font-weight="normal" fill="#1e1e1e" >size</text>
<line x1="636.4" y1="194.5" x2="648.5" y2="194.5" stroke="#5a5ac8" stroke-width="1"/>
<text x="650.3" y="196.8" font-size="8.6" text-anchor="start" font-weight="normal" fill="#1e1e1e" >15 μm</text>
<line x1="636.4" y1="205" x2="648.5" y2="205" stroke="#86cde6" stroke-width="1"/>
<text x="650.3" y="207.3" font-size="8.6" text-anchor="start" font-weight="normal" fill="#1e1e1e" >3 μm</text>
<line x1="636.4" y1="215.4" x2="648.5" y2="215.4" stroke="#f0605a" stroke-width="1"/>
<text x="650.3" y="217.70000000000002" font-size="8.6" text-anchor="start" font-weight="normal" fill="#1e1e1e" >90 nm</text>
</svg></body></html>
